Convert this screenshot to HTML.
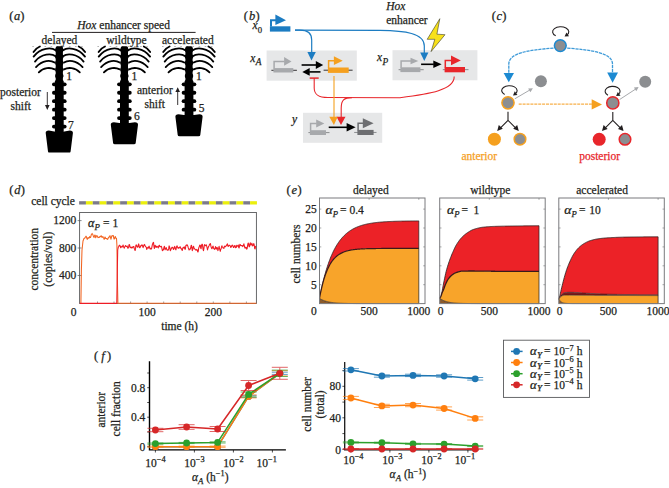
<!DOCTYPE html>
<html><head><meta charset="utf-8"><style>
html,body{margin:0;padding:0;background:#fff;}
svg{display:block;}
text{font-family:"Liberation Serif", serif; stroke:#231f20; stroke-width:0.25px;}
</style></head><body>
<svg width="669" height="488" viewBox="0 0 669 488">
<rect width="669" height="488" fill="#fff"/>
<g font-family='"Liberation Serif", serif'>
<text x="9.2" y="20.0" font-size="12.5" fill="#231f20">(</text>
<text x="17.1" y="20.0" font-size="12.5" fill="#231f20" font-style="italic" text-anchor="middle">a</text>
<text x="24.4" y="20.0" font-size="12.5" fill="#231f20" text-anchor="end">)</text>
<text x="77.3" y="28.6" font-size="11.5" fill="#231f20" text-anchor="start" ><tspan font-style="italic">Hox</tspan> enhancer speed</text>
<line x1="52" y1="32.4" x2="195.6" y2="32.4" stroke="#231f20" stroke-width="1"/>
<text x="41.6" y="43.6" font-size="11.5" fill="#231f20" text-anchor="start" >delayed</text>
<text x="106.3" y="43.6" font-size="11.5" fill="#231f20" text-anchor="start" >wildtype</text>
<text x="162.0" y="43.6" font-size="11.5" fill="#231f20" text-anchor="start" >accelerated</text>
<path d="M63.00,50.30 C67.00,47.30 78.00,47.30 85.00,56.60 M55.60,50.30 C51.60,47.30 40.60,47.30 33.60,56.60 M63.00,56.20 C67.00,53.30 77.00,53.30 83.60,61.60 M55.60,56.20 C51.60,53.30 41.60,53.30 35.00,61.60 M64.00,62.60 C68.00,59.80 76.00,59.80 82.60,67.10 M54.60,62.60 C50.60,59.80 42.60,59.80 36.00,67.10 M64.00,69.40 C68.00,67.20 75.00,67.20 79.80,72.40 M54.60,69.40 C50.60,67.20 43.60,67.20 38.80,72.40 M78.70,46.5 Q82.80,48.2 85.10,52.0 M39.90,46.5 Q35.80,48.2 33.50,52.0" fill="none" stroke="#000" stroke-width="1.8" stroke-linecap="round"/>
<line x1="32.3" y1="46.3" x2="86.3" y2="46.3" stroke="#000" stroke-width="0.6" stroke-dasharray="1.6 4.5" opacity="0.6"/>
<rect x="55.699999999999996" y="46.2" width="7.2" height="87.39999999999999" rx="1.5" fill="#000"/>
<rect x="54.9" y="80" width="8.8" height="52.599999999999994" rx="1.5" fill="#000"/>
<rect x="55.199999999999996" y="47.6" width="8.2" height="4.8" rx="1.8" fill="#000"/>
<rect x="55.199999999999996" y="54.2" width="8.2" height="4.8" rx="1.8" fill="#000"/>
<rect x="55.199999999999996" y="60.6" width="8.2" height="4.8" rx="1.8" fill="#000"/>
<rect x="55.199999999999996" y="67.19999999999999" width="8.2" height="4.8" rx="1.8" fill="#000"/>
<rect x="55.199999999999996" y="73.6" width="8.2" height="4.8" rx="1.8" fill="#000"/>
<rect x="52.0" y="82.39999999999999" width="14.6" height="3.8" rx="1.9" fill="#000"/>
<rect x="52.0" y="90.85" width="14.6" height="3.8" rx="1.9" fill="#000"/>
<rect x="52.0" y="99.3" width="14.6" height="3.8" rx="1.9" fill="#000"/>
<rect x="52.0" y="107.75" width="14.6" height="3.8" rx="1.9" fill="#000"/>
<rect x="52.0" y="116.2" width="14.6" height="3.8" rx="1.9" fill="#000"/>
<rect x="52.0" y="124.65" width="14.6" height="3.8" rx="1.9" fill="#000"/>
<path d="M45.699999999999996,133.1 Q45.5,130.6 48.8,130.6 L54.3,131.4 L64.3,131.4 L69.8,130.6 Q73.1,130.6 72.89999999999999,133.1 L70.6,151.4 Q70.5,152.6 68.8,152.6 L49.8,152.6 Q48.099999999999994,152.6 48.0,151.4 Z" fill="#000"/>
<text x="66.3" y="80.4" font-size="11.5" fill="#231f20" text-anchor="start" >1</text>
<text x="68.0" y="129.2" font-size="11.5" fill="#231f20" text-anchor="start" >7</text>
<path d="M128.10,50.30 C132.10,47.30 143.10,47.30 150.10,56.60 M120.70,50.30 C116.70,47.30 105.70,47.30 98.70,56.60 M128.10,56.20 C132.10,53.30 142.10,53.30 148.70,61.60 M120.70,56.20 C116.70,53.30 106.70,53.30 100.10,61.60 M129.10,62.60 C133.10,59.80 141.10,59.80 147.70,67.10 M119.70,62.60 C115.70,59.80 107.70,59.80 101.10,67.10 M129.10,69.40 C133.10,67.20 140.10,67.20 144.90,72.40 M119.70,69.40 C115.70,67.20 108.70,67.20 103.90,72.40 M143.80,46.5 Q147.90,48.2 150.20,52.0 M105.00,46.5 Q100.90,48.2 98.60,52.0" fill="none" stroke="#000" stroke-width="1.8" stroke-linecap="round"/>
<line x1="97.4" y1="46.3" x2="151.4" y2="46.3" stroke="#000" stroke-width="0.6" stroke-dasharray="1.6 4.5" opacity="0.6"/>
<rect x="120.80000000000001" y="46.2" width="7.2" height="79.1" rx="1.5" fill="#000"/>
<rect x="120.0" y="80" width="8.8" height="44.3" rx="1.5" fill="#000"/>
<rect x="120.30000000000001" y="47.6" width="8.2" height="4.8" rx="1.8" fill="#000"/>
<rect x="120.30000000000001" y="54.2" width="8.2" height="4.8" rx="1.8" fill="#000"/>
<rect x="120.30000000000001" y="60.6" width="8.2" height="4.8" rx="1.8" fill="#000"/>
<rect x="120.30000000000001" y="67.19999999999999" width="8.2" height="4.8" rx="1.8" fill="#000"/>
<rect x="120.30000000000001" y="73.6" width="8.2" height="4.8" rx="1.8" fill="#000"/>
<rect x="117.10000000000001" y="82.39999999999999" width="14.6" height="3.8" rx="1.9" fill="#000"/>
<rect x="117.10000000000001" y="90.85" width="14.6" height="3.8" rx="1.9" fill="#000"/>
<rect x="117.10000000000001" y="99.3" width="14.6" height="3.8" rx="1.9" fill="#000"/>
<rect x="117.10000000000001" y="107.75" width="14.6" height="3.8" rx="1.9" fill="#000"/>
<rect x="117.10000000000001" y="116.2" width="14.6" height="3.8" rx="1.9" fill="#000"/>
<path d="M110.80000000000001,124.8 Q110.60000000000001,122.3 113.9,122.3 L119.4,123.1 L129.4,123.1 L134.9,122.3 Q138.20000000000002,122.3 138.0,124.8 L135.70000000000002,143.10000000000002 Q135.6,144.3 133.9,144.3 L114.9,144.3 Q113.2,144.3 113.10000000000001,143.10000000000002 Z" fill="#000"/>
<text x="131.4" y="80.4" font-size="11.5" fill="#231f20" text-anchor="start" >1</text>
<text x="133.9" y="120.3" font-size="11.5" fill="#231f20" text-anchor="start" >6</text>
<path d="M192.70,50.30 C196.70,47.30 207.70,47.30 214.70,56.60 M185.30,50.30 C181.30,47.30 170.30,47.30 163.30,56.60 M192.70,56.20 C196.70,53.30 206.70,53.30 213.30,61.60 M185.30,56.20 C181.30,53.30 171.30,53.30 164.70,61.60 M193.70,62.60 C197.70,59.80 205.70,59.80 212.30,67.10 M184.30,62.60 C180.30,59.80 172.30,59.80 165.70,67.10 M193.70,69.40 C197.70,67.20 204.70,67.20 209.50,72.40 M184.30,69.40 C180.30,67.20 173.30,67.20 168.50,72.40 M208.40,46.5 Q212.50,48.2 214.80,52.0 M169.60,46.5 Q165.50,48.2 163.20,52.0" fill="none" stroke="#000" stroke-width="1.8" stroke-linecap="round"/>
<line x1="162.0" y1="46.3" x2="216.0" y2="46.3" stroke="#000" stroke-width="0.6" stroke-dasharray="1.6 4.5" opacity="0.6"/>
<rect x="185.4" y="46.2" width="7.2" height="71.1" rx="1.5" fill="#000"/>
<rect x="184.6" y="80" width="8.8" height="36.3" rx="1.5" fill="#000"/>
<rect x="184.9" y="47.6" width="8.2" height="4.8" rx="1.8" fill="#000"/>
<rect x="184.9" y="54.2" width="8.2" height="4.8" rx="1.8" fill="#000"/>
<rect x="184.9" y="60.6" width="8.2" height="4.8" rx="1.8" fill="#000"/>
<rect x="184.9" y="67.19999999999999" width="8.2" height="4.8" rx="1.8" fill="#000"/>
<rect x="184.9" y="73.6" width="8.2" height="4.8" rx="1.8" fill="#000"/>
<rect x="181.7" y="82.39999999999999" width="14.6" height="3.8" rx="1.9" fill="#000"/>
<rect x="181.7" y="90.85" width="14.6" height="3.8" rx="1.9" fill="#000"/>
<rect x="181.7" y="99.3" width="14.6" height="3.8" rx="1.9" fill="#000"/>
<rect x="181.7" y="107.75" width="14.6" height="3.8" rx="1.9" fill="#000"/>
<path d="M175.4,116.8 Q175.2,114.3 178.5,114.3 L184.0,115.1 L194.0,115.1 L199.5,114.3 Q202.8,114.3 202.6,116.8 L200.3,135.10000000000002 Q200.2,136.3 198.5,136.3 L179.5,136.3 Q177.8,136.3 177.7,135.10000000000002 Z" fill="#000"/>
<text x="196.0" y="80.4" font-size="11.5" fill="#231f20" text-anchor="start" >1</text>
<text x="198.8" y="112.2" font-size="11.5" fill="#231f20" text-anchor="start" >5</text>
<text x="0.0" y="96.0" font-size="11.5" fill="#231f20" text-anchor="start" >posterior</text>
<text x="10.6" y="109.9" font-size="11.5" fill="#231f20" text-anchor="start" >shift</text>
<text x="137.0" y="93.8" font-size="11.5" fill="#231f20" text-anchor="start" >anterior</text>
<text x="144.6" y="107.6" font-size="11.5" fill="#231f20" text-anchor="start" >shift</text>
<line x1="47.3" y1="92" x2="47.3" y2="106" stroke="#231f20" stroke-width="0.9"/>
<path d="M45,105 L49.6,105 L47.3,110 Z" fill="#231f20"/>
<line x1="177.7" y1="105" x2="177.7" y2="91" stroke="#231f20" stroke-width="0.9"/>
<path d="M175.4,92 L180,92 L177.7,87.3 Z" fill="#231f20"/>
</g>
<g font-family='"Liberation Serif", serif'>
<text x="243.8" y="19.9" font-size="12.5" fill="#231f20">(</text>
<text x="252.0" y="19.9" font-size="12.5" fill="#231f20" font-style="italic" text-anchor="middle">b</text>
<text x="259.6" y="19.9" font-size="12.5" fill="#231f20" text-anchor="end">)</text>
<text x="252.4" y="29.3" font-size="11.5" fill="#231f20" text-anchor="start" ><tspan font-style="italic">x</tspan><tspan font-size="8.7" dy="3.4" dx="0.3">0</tspan></text>
<rect x="266.6" y="50.5" width="90.2" height="30.2" fill="#e6e7e8"/>
<rect x="392.5" y="50.2" width="84.9" height="30.1" fill="#e6e7e8"/>
<rect x="303" y="112.8" width="79.2" height="30" fill="#e6e7e8"/>
<text x="250.3" y="61.8" font-size="11.5" fill="#231f20" text-anchor="start" ><tspan font-style="italic">x</tspan><tspan font-size="9.3" font-style="italic" dy="3.6" dx="0.4">A</tspan></text>
<text x="376.9" y="61.0" font-size="11.5" fill="#231f20" text-anchor="start" ><tspan font-style="italic">x</tspan><tspan font-size="9.3" font-style="italic" dy="3.6" dx="0.4">P</tspan></text>
<text x="292.0" y="123.4" font-size="11.5" fill="#231f20" text-anchor="start" ><tspan font-style="italic">y</tspan></text>
<text x="386.3" y="10.4" font-size="11.5" fill="#231f20" text-anchor="start" font-style="italic" >Hox</text>
<text x="386.2" y="23.7" font-size="11.5" fill="#231f20" text-anchor="start" >enhancer</text>
<rect x="269.9" y="26.3" width="20.5" height="5.3" fill="#1c7cc2"/>
<path d="M271,26.5 L271,20.2 L277,20.2" fill="none" stroke="#1c7cc2" stroke-width="2"/>
<path d="M275.4,14.6 L286,20.2 L275.4,25 Z" fill="#1c7cc2"/>
<line x1="271.4" y1="70.30" x2="296.9" y2="70.30" stroke="#231f20" stroke-width="0.9"/>
<rect x="273.4" y="68.1" width="19.9" height="4.4" fill="#a7a9ac"/>
<path d="M274.1,68.6 L274.1,61.4 L284.6,61.4" fill="none" stroke="#a7a9ac" stroke-width="1.5"/>
<path d="M284.1,57.1 L291.5,61.4 L284.1,65.7 Z" fill="#a7a9ac"/>
<line x1="323.6" y1="70.20" x2="352.6" y2="70.20" stroke="#231f20" stroke-width="0.9"/>
<rect x="327.9" y="67.5" width="20.8" height="5.4" fill="#f5a01f"/>
<path d="M328.6,68.0 L328.6,60.7 L334.4,60.7" fill="none" stroke="#f5a01f" stroke-width="1.5"/>
<path d="M333.9,56.300000000000004 L342.7,60.7 L333.9,65.10000000000001 Z" fill="#f5a01f"/>
<line x1="301.6" y1="65.0" x2="316.3" y2="65.0" stroke="#000" stroke-width="1.6"/>
<path d="M315.8,60.9 L323.2,65.0 L315.8,69.1 Z" fill="#000"/>
<line x1="320.5" y1="71.9" x2="309.2" y2="71.9" stroke="#000" stroke-width="1.6"/>
<path d="M309.7,68.0 L302.3,71.9 L309.7,75.80000000000001 Z" fill="#000"/>
<line x1="398.6" y1="69.70" x2="423.7" y2="69.70" stroke="#808285" stroke-width="0.9"/>
<rect x="400.4" y="67.3" width="20.0" height="4.8" fill="#a7a9ac"/>
<path d="M401.1,67.8 L401.1,61.0 L411.0,61.0" fill="none" stroke="#a7a9ac" stroke-width="1.5"/>
<path d="M410.5,57.7 L418.3,61.0 L410.5,64.3 Z" fill="#a7a9ac"/>
<line x1="442.8" y1="69.65" x2="468.5" y2="69.65" stroke="#808285" stroke-width="0.9"/>
<rect x="444.6" y="67.0" width="20.4" height="5.3" fill="#e8262b"/>
<path d="M445.3,67.5 L445.3,60.4 L451.5,60.4" fill="none" stroke="#e8262b" stroke-width="1.5"/>
<path d="M451.0,55.6 L460.8,60.4 L451.0,65.2 Z" fill="#e8262b"/>
<line x1="421.1" y1="64.3" x2="433.8" y2="64.3" stroke="#000" stroke-width="1.6"/>
<path d="M433.3,60.5 L441.6,64.3 L433.3,68.1 Z" fill="#000"/>
<line x1="308.4" y1="132.60" x2="329.5" y2="132.60" stroke="#808285" stroke-width="0.9"/>
<rect x="309.9" y="130.2" width="16.1" height="4.8" fill="#a7a9ac"/>
<path d="M310.6,130.7 L310.6,123.4 L316.7,123.4" fill="none" stroke="#a7a9ac" stroke-width="1.5"/>
<path d="M316.2,119.4 L324.3,123.4 L316.2,127.4 Z" fill="#a7a9ac"/>
<line x1="354.2" y1="132.45" x2="376.5" y2="132.45" stroke="#808285" stroke-width="0.9"/>
<rect x="357.4" y="129.9" width="16.2" height="5.1" fill="#6d6e71"/>
<path d="M358.1,130.4 L358.1,123.3 L363.3,123.3" fill="none" stroke="#6d6e71" stroke-width="1.5"/>
<path d="M362.8,118.3 L373.6,123.3 L362.8,128.3 Z" fill="#6d6e71"/>
<line x1="328.7" y1="127.3" x2="347.1" y2="127.3" stroke="#000" stroke-width="1.6"/>
<path d="M346.6,123.0 L355.6,127.3 L346.6,131.6 Z" fill="#000"/>
<path d="M295,30.2 L300,30.2 C308,30.2 311.7,33 311.7,40 L311.7,54" fill="none" stroke="#1c7cc2" stroke-width="1.2"/>
<path d="M307.4,52.1 L315.8,52.1 L311.5,60.6 Z" fill="#1c7cc2"/>
<path d="M295,30.2 L380,30.4 C405,30.8 424.3,33 424.3,46 L424.3,54" fill="none" stroke="#1c7cc2" stroke-width="1.2"/>
<path d="M420.2,52.4 L428.4,52.4 L424.3,61 Z" fill="#1c7cc2"/>
<path d="M439.8,18.7 L427.2,39.3 L434.8,39.3 L431.1,51.6 L445,34.7 L436.9,34.2 Z" fill="#f7e11b" stroke="#3a3a2a" stroke-width="0.6" stroke-linejoin="miter"/>
<line x1="309.7" y1="78.1" x2="318.7" y2="78.1" stroke="#e8262b" stroke-width="1.5"/>
<path d="M314.2,78.1 L314.2,88 C314.2,94.5 318,97.5 328,97.5 L400,97.7 C430,94 454.4,90 454.2,76.6" fill="none" stroke="#e8262b" stroke-width="1.1"/>
<path d="M352,97.6 C344,97.6 341.2,100 341.2,108 L341.2,118" fill="none" stroke="#e8262b" stroke-width="1.1"/>
<path d="M336.5,116.8 L345.5,116.8 L341,124.9 Z" fill="#e8262b"/>
<line x1="334" y1="75.9" x2="334" y2="118" stroke="#f5a01f" stroke-width="1.1"/>
<path d="M329.3,116.8 L337.7,116.8 L333.9,124.9 Z" fill="#f5a01f"/>
</g>
<g font-family='"Liberation Serif", serif'>
<text x="491.8" y="20.0" font-size="12.5" fill="#231f20">(</text>
<text x="499.4" y="20.0" font-size="12.5" fill="#231f20" font-style="italic" text-anchor="middle">c</text>
<text x="506.5" y="20.0" font-size="12.5" fill="#231f20" text-anchor="end">)</text>
<path d="M553.5,48.1 C528,50 509,53 508.8,64 L508.8,74" fill="none" stroke="#3d9ad8" stroke-width="1.3" stroke-dasharray="3.2 0.8"/>
<path d="M567.2,48.1 C592,50 612.3,53 612.5,64 L612.5,74" fill="none" stroke="#3d9ad8" stroke-width="1.3" stroke-dasharray="3.2 0.8"/>
<path d="M503.6,72.9 L514,72.9 L508.8,82.2 Z" fill="#1c8ad2"/>
<path d="M607.2,72.6 L618,72.6 L612.6,82.7 Z" fill="#1c8ad2"/>
<path d="M555.71,35.74 A8.1,5.0 0 1 1 566.72,35.15" fill="none" stroke="#231f20" stroke-width="1.1"/>
<path d="M564.58,36.62 L566.41,32.57 L569.01,36.36 Z" fill="#231f20"/>
<circle cx="560.3" cy="45.6" r="5.8999999999999995" fill="#8c8e91" stroke="#1c8ad2" stroke-width="1.5"/>
<line x1="518.7" y1="104.2" x2="593" y2="104.2" stroke="#f7b04a" stroke-width="1.2" stroke-dasharray="3 0.9"/>
<path d="M591.7,99.3 L602,104.4 L591.7,109.4 Z" fill="#f5a01f"/>
<line x1="514.8" y1="98.8" x2="531" y2="89.3" stroke="#a7a9ac" stroke-width="1"/>
<path d="M532.90,88.19 L530.39,92.21 L528.16,88.41 Z" fill="#a7a9ac"/>
<line x1="619.5" y1="99.6" x2="636.8" y2="88.3" stroke="#a7a9ac" stroke-width="1"/>
<path d="M638.64,87.10 L636.33,91.24 L633.92,87.55 Z" fill="#a7a9ac"/>
<circle cx="540.9" cy="81.3" r="6.0" fill="#8c8e91"/>
<circle cx="645.2" cy="81.8" r="6.0" fill="#8c8e91"/>
<path d="M504.66,94.46 A7.7,4.9 0 1 1 515.12,93.88" fill="none" stroke="#231f20" stroke-width="1.1"/>
<path d="M513.00,95.38 L514.77,91.31 L517.43,95.06 Z" fill="#231f20"/>
<path d="M607.98,95.16 A7.5,4.9 0 1 1 618.17,94.58" fill="none" stroke="#231f20" stroke-width="1.1"/>
<path d="M616.07,96.11 L617.79,92.01 L620.50,95.74 Z" fill="#231f20"/>
<circle cx="508.0" cy="102.8" r="6.1" fill="#8c8e91" stroke="#f5a01f" stroke-width="1.5"/>
<circle cx="612.8" cy="102.9" r="6.1" fill="#8c8e91" stroke="#e8262b" stroke-width="1.5"/>
<path d="M508.0,111.8 L508.0,120.3 M508.0,120.3 L499.5,128.8 M508.0,120.3 L516.5,128.8" fill="none" stroke="#231f20" stroke-width="1.1"/>
<path d="M497.2,131.0 L502.80,128.80 L498.80,125.00 Z" fill="#231f20"/>
<path d="M518.8,131.0 L513.20,128.80 L517.20,125.00 Z" fill="#231f20"/>
<path d="M612.8,111.9 L612.8,120.4 M612.8,120.4 L604.3,128.9 M612.8,120.4 L621.3,128.9" fill="none" stroke="#231f20" stroke-width="1.1"/>
<path d="M602.0,131.1 L607.60,128.90 L603.60,125.10 Z" fill="#231f20"/>
<path d="M623.5999999999999,131.1 L618.00,128.90 L622.00,125.10 Z" fill="#231f20"/>
<circle cx="494.4" cy="139.2" r="6.5" fill="#f5a01f"/>
<circle cx="520.0" cy="139.2" r="5.8" fill="#8c8e91" stroke="#f5a01f" stroke-width="1.5"/>
<circle cx="599.2" cy="139.3" r="6.5" fill="#e8262b"/>
<circle cx="625.0" cy="139.3" r="5.8" fill="#8c8e91" stroke="#e8262b" stroke-width="1.5"/>
<text x="461.4" y="160.3" font-size="11.5" fill="#f5a01f" text-anchor="start" style="stroke:#f5a01f" >anterior</text>
<text x="579.2" y="160.3" font-size="11.5" fill="#e8262b" text-anchor="start" style="stroke:#e8262b" >posterior</text>
</g>
<g font-family='"Liberation Serif", serif'>
<text x="9.2" y="193.7" font-size="12.5" fill="#231f20">(</text>
<text x="17.3" y="193.7" font-size="12.5" fill="#231f20" font-style="italic" text-anchor="middle">d</text>
<text x="24.8" y="193.7" font-size="12.5" fill="#231f20" text-anchor="end">)</text>
<text x="31.2" y="204.9" font-size="11.5" fill="#231f20" text-anchor="start" >cell cycle</text>
<rect x="79.10" y="201.2" width="6.84" height="3.3" fill="#7c7b8a"/>
<rect x="85.94" y="201.2" width="6.84" height="3.3" fill="#ebef0c"/>
<rect x="92.78" y="201.2" width="6.84" height="3.3" fill="#7c7b8a"/>
<rect x="99.62" y="201.2" width="6.84" height="3.3" fill="#ebef0c"/>
<rect x="106.46" y="201.2" width="6.84" height="3.3" fill="#7c7b8a"/>
<rect x="113.30" y="201.2" width="6.84" height="3.3" fill="#ebef0c"/>
<rect x="120.14" y="201.2" width="6.84" height="3.3" fill="#7c7b8a"/>
<rect x="126.98" y="201.2" width="6.84" height="3.3" fill="#ebef0c"/>
<rect x="133.82" y="201.2" width="6.84" height="3.3" fill="#7c7b8a"/>
<rect x="140.66" y="201.2" width="6.84" height="3.3" fill="#ebef0c"/>
<rect x="147.50" y="201.2" width="6.84" height="3.3" fill="#7c7b8a"/>
<rect x="154.34" y="201.2" width="6.84" height="3.3" fill="#ebef0c"/>
<rect x="161.18" y="201.2" width="6.84" height="3.3" fill="#7c7b8a"/>
<rect x="168.02" y="201.2" width="6.84" height="3.3" fill="#ebef0c"/>
<rect x="174.86" y="201.2" width="6.84" height="3.3" fill="#7c7b8a"/>
<rect x="181.70" y="201.2" width="6.84" height="3.3" fill="#ebef0c"/>
<rect x="188.54" y="201.2" width="6.84" height="3.3" fill="#7c7b8a"/>
<rect x="195.38" y="201.2" width="6.84" height="3.3" fill="#ebef0c"/>
<rect x="202.22" y="201.2" width="6.84" height="3.3" fill="#7c7b8a"/>
<rect x="209.06" y="201.2" width="6.84" height="3.3" fill="#ebef0c"/>
<rect x="215.90" y="201.2" width="6.84" height="3.3" fill="#7c7b8a"/>
<rect x="222.74" y="201.2" width="6.84" height="3.3" fill="#ebef0c"/>
<rect x="229.58" y="201.2" width="6.84" height="3.3" fill="#7c7b8a"/>
<rect x="236.42" y="201.2" width="6.84" height="3.3" fill="#ebef0c"/>
<rect x="243.26" y="201.2" width="6.84" height="3.3" fill="#7c7b8a"/>
<rect x="250.10" y="201.2" width="6.84" height="3.3" fill="#ebef0c"/>
<rect x="79.6" y="212.5" width="176.8" height="91" fill="none" stroke="#58595b" stroke-width="0.9"/>
<line x1="77.6" y1="220.6" x2="81.6" y2="220.6" stroke="#58595b" stroke-width="0.7"/>
<text x="76.2" y="224.48" font-size="11.5" fill="#231f20" text-anchor="end" >1200</text>
<line x1="77.6" y1="248.0" x2="81.6" y2="248.0" stroke="#58595b" stroke-width="0.7"/>
<text x="76.2" y="251.92" font-size="11.5" fill="#231f20" text-anchor="end" >800</text>
<line x1="77.6" y1="275.5" x2="81.6" y2="275.5" stroke="#58595b" stroke-width="0.7"/>
<text x="76.2" y="279.35999999999996" font-size="11.5" fill="#231f20" text-anchor="end" >400</text>
<text x="76.4" y="316.3" font-size="11.5" fill="#231f20" text-anchor="end" >0</text>
<text x="147.10000000000002" y="316.3" font-size="11.5" fill="#231f20" text-anchor="middle" >100</text>
<text x="213.3" y="316.3" font-size="11.5" fill="#231f20" text-anchor="middle" >200</text>
<line x1="97.5" y1="303.5" x2="97.5" y2="301.5" stroke="#58595b" stroke-width="0.6"/>
<line x1="114.0" y1="303.5" x2="114.0" y2="301.5" stroke="#58595b" stroke-width="0.6"/>
<line x1="130.6" y1="303.5" x2="130.6" y2="301.5" stroke="#58595b" stroke-width="0.6"/>
<line x1="147.1" y1="303.5" x2="147.1" y2="301.5" stroke="#58595b" stroke-width="0.6"/>
<line x1="163.7" y1="303.5" x2="163.7" y2="301.5" stroke="#58595b" stroke-width="0.6"/>
<line x1="180.2" y1="303.5" x2="180.2" y2="301.5" stroke="#58595b" stroke-width="0.6"/>
<line x1="196.8" y1="303.5" x2="196.8" y2="301.5" stroke="#58595b" stroke-width="0.6"/>
<line x1="213.3" y1="303.5" x2="213.3" y2="301.5" stroke="#58595b" stroke-width="0.6"/>
<line x1="229.9" y1="303.5" x2="229.9" y2="301.5" stroke="#58595b" stroke-width="0.6"/>
<line x1="246.4" y1="303.5" x2="246.4" y2="301.5" stroke="#58595b" stroke-width="0.6"/>
<text x="179.6" y="329.6" font-size="11.5" fill="#231f20" text-anchor="middle" >time (h)</text>
<text x="0" y="0" font-size="11.5" fill="#231f20" text-anchor="middle" transform="translate(38.2,259.2) rotate(-90)">concentration</text>
<text x="0" y="0" font-size="11.5" fill="#231f20" text-anchor="middle" transform="translate(52.2,259.2) rotate(-90)">(copies/vol)</text>
<text transform="translate(88.00,226.90) scale(1.06,1)" font-size="11.5" font-style="italic" fill="#231f20">α</text>
<text x="94.60" y="229.90" font-size="8.8" font-style="italic" fill="#231f20">P</text>
<text x="100.20" y="226.90" font-size="11.5" fill="#231f20" style="white-space:pre"> = 1</text>
<polyline points="80.9,303.2 81.4,270.0 82.0,250.0 83.0,241.0 84.0,238.5 84.5,238.1 84.9,238.1 85.3,237.3 85.7,236.7 86.1,236.2 86.5,237.0 86.9,238.6 87.3,239.4 87.7,238.2 88.1,237.6 88.5,238.2 88.9,238.3 89.3,237.3 89.7,236.6 90.1,237.4 90.5,237.5 90.9,236.4 91.3,234.5 91.7,234.1 92.1,233.4 92.5,234.3 92.9,234.6 93.3,236.0 93.7,237.0 94.1,237.5 94.5,235.7 94.9,235.0 95.3,235.4 95.7,237.8 96.1,236.8 96.5,235.9 96.9,235.5 97.3,236.1 97.7,237.1 98.1,237.6 98.5,237.3 98.9,237.2 99.3,237.5 99.7,236.6 100.1,236.5 100.5,236.7 100.9,236.0 101.3,235.7 101.7,237.1 102.1,237.4 102.5,236.7 102.9,236.6 103.3,237.4 103.7,238.1 104.1,239.3 104.5,238.9 104.9,237.0 105.3,237.3 105.7,238.5 106.1,238.6 106.5,238.5 106.9,238.7 107.3,239.4 107.7,239.2 108.1,238.3 108.5,237.6 108.9,237.8 109.3,236.4 109.7,236.0 110.1,235.8 110.5,237.5 110.9,239.2 111.3,238.1 111.7,236.1 112.1,235.7 112.5,236.0 112.9,235.6 113.3,235.5 113.7,237.8 114.1,239.1 114.5,238.6 114.9,237.1 115.3,236.5 115.7,238.0 116.1,238.5 116.5,238.2 116.9,245.0 117.4,280.0 117.9,303.2 256.4,303.2" fill="none" stroke="#f26522" stroke-width="1.05" stroke-linejoin="round"/>
<polyline points="79.8,303.4 116.8,303.4 117.3,270.0 117.7,250.0 118.3,247.1 118.7,246.5 119.1,245.6 119.5,245.2 119.9,245.5 120.3,246.6 120.7,247.8 121.1,246.4 121.5,247.0 121.9,246.7 122.3,247.0 122.7,245.9 123.1,245.1 123.5,246.5 123.9,247.5 124.3,248.1 124.7,246.9 125.1,246.3 125.5,245.6 125.9,246.3 126.3,246.4 126.7,246.6 127.1,246.0 127.5,247.2 127.9,248.3 128.3,247.9 128.7,246.4 129.1,244.5 129.5,244.7 129.9,246.7 130.3,247.8 130.7,247.0 131.1,247.1 131.5,247.8 131.9,248.1 132.3,247.2 132.7,247.4 133.1,246.5 133.5,246.9 133.9,246.6 134.3,248.8 134.7,249.4 135.1,250.5 135.5,248.9 135.9,245.4 136.3,244.9 136.7,245.7 137.1,246.6 137.5,247.2 137.9,247.0 138.3,244.9 138.7,243.9 139.1,246.0 139.5,247.7 139.9,247.8 140.3,247.1 140.7,245.8 141.1,245.6 141.5,245.8 141.9,244.8 142.3,245.2 142.7,246.3 143.1,247.6 143.5,246.3 143.9,245.6 144.3,244.4 144.7,244.8 145.1,245.8 145.5,246.3 145.9,246.8 146.3,247.2 146.7,249.5 147.1,248.2 147.5,247.8 147.9,247.4 148.3,248.2 148.7,246.8 149.1,246.2 149.5,247.2 149.9,248.6 150.3,249.0 150.7,248.4 151.1,249.0 151.5,248.9 151.9,247.1 152.3,244.9 152.7,243.6 153.1,242.7 153.5,242.4 153.9,245.8 154.3,248.5 154.7,247.4 155.1,245.2 155.5,246.0 155.9,247.0 156.3,247.3 156.7,246.3 157.1,246.2 157.5,246.8 157.9,247.4 158.3,247.8 158.7,246.0 159.1,245.5 159.5,245.3 159.9,246.8 160.3,246.6 160.7,246.7 161.1,246.3 161.5,246.5 161.9,248.3 162.3,250.3 162.7,250.7 163.1,249.6 163.5,249.6 163.9,247.7 164.3,246.3 164.7,247.3 165.1,249.8 165.5,248.6 165.9,248.3 166.3,247.7 166.7,249.3 167.1,250.0 167.5,250.1 167.9,250.3 168.3,249.8 168.7,248.7 169.1,245.9 169.5,246.7 169.9,248.4 170.3,250.7 170.7,250.0 171.1,249.1 171.5,248.3 171.9,247.5 172.3,247.2 172.7,247.4 173.1,248.7 173.5,249.4 173.9,248.9 174.3,247.2 174.7,246.4 175.1,247.7 175.5,249.2 175.9,249.8 176.3,247.8 176.7,246.4 177.1,245.9 177.5,247.2 177.9,248.0 178.3,248.1 178.7,247.5 179.1,248.1 179.5,247.3 179.9,247.1 180.3,246.8 180.7,248.3 181.1,248.3 181.5,249.3 181.9,250.0 182.3,250.3 182.7,248.4 183.1,247.5 183.5,247.9 183.9,247.2 184.3,246.8 184.7,248.5 185.1,249.4 185.5,248.3 185.9,245.3 186.3,245.5 186.7,245.0 187.1,244.8 187.5,245.5 187.9,246.4 188.3,247.9 188.7,248.9 189.1,250.0 189.5,249.0 189.9,249.2 190.3,249.1 190.7,248.0 191.1,245.5 191.5,245.4 191.9,247.8 192.3,250.6 192.7,249.8 193.1,247.1 193.5,246.2 193.9,247.5 194.3,248.5 194.7,248.9 195.1,249.3 195.5,249.9 195.9,249.9 196.3,250.1 196.7,249.4 197.1,249.7 197.5,251.2 197.9,252.0 198.3,251.0 198.7,248.0 199.1,247.1 199.5,245.8 199.9,245.1 200.3,245.4 200.7,248.2 201.1,248.7 201.5,245.5 201.9,244.3 202.3,244.2 202.7,246.7 203.1,249.5 203.5,250.7 203.9,248.5 204.3,245.1 204.7,244.6 205.1,245.6 205.5,245.6 205.9,245.2 206.3,244.9 206.7,246.2 207.1,247.7 207.5,249.9 207.9,248.3 208.3,247.4 208.7,246.3 209.1,245.7 209.5,244.5 209.9,244.0 210.3,243.5 210.7,245.0 211.1,246.9 211.5,248.1 211.9,248.7 212.3,247.9 212.7,246.7 213.1,246.2 213.5,248.1 213.9,248.6 214.3,249.0 214.7,249.3 215.1,248.3 215.5,246.6 215.9,247.7 216.3,249.1 216.7,247.7 217.1,247.4 217.5,248.4 217.9,250.7 218.3,249.1 218.7,248.2 219.1,246.3 219.5,248.5 219.9,249.9 220.3,251.3 220.7,249.2 221.1,249.0 221.5,247.0 221.9,245.8 222.3,246.7 222.7,247.3 223.1,247.9 223.5,248.0 223.9,248.5 224.3,246.6 224.7,246.1 225.1,246.8 225.5,246.7 225.9,246.0 226.3,245.7 226.7,245.0 227.1,244.4 227.5,243.9 227.9,246.1 228.3,246.4 228.7,245.9 229.1,245.3 229.5,245.4 229.9,245.4 230.3,246.1 230.7,247.4 231.1,246.4 231.5,246.8 231.9,245.5 232.3,245.1 232.7,245.7 233.1,246.2 233.5,247.5 233.9,247.3 234.3,246.5 234.7,245.5 235.1,245.8 235.5,247.7 235.9,247.7 236.3,247.3 236.7,245.3 237.1,246.3 237.5,246.0 237.9,245.6 238.3,245.0 238.7,247.4 239.1,248.0 239.5,246.1 239.9,244.4 240.3,244.6 240.7,245.6 241.1,245.6 241.5,245.5 241.9,245.5 242.3,245.9 242.7,246.6 243.1,245.7 243.5,245.2 243.9,243.8 244.3,246.0 244.7,247.3 245.1,248.2 245.5,247.2 245.9,247.7 246.3,247.5 246.7,249.1 247.1,248.6 247.5,246.2 247.9,243.8 248.3,243.1 248.7,244.7 249.1,246.7 249.5,246.8 249.9,244.0 250.3,242.8 250.7,245.0 251.1,244.6 251.5,244.2 251.9,243.3 252.3,245.9 252.7,245.3 253.1,245.5 253.5,243.8 253.9,243.7 254.3,245.6 254.7,248.5 255.1,248.9 255.5,246.7 255.9,245.9" fill="none" stroke="#ee1c25" stroke-width="1.1" stroke-linejoin="round"/>
</g>
<g font-family='"Liberation Serif", serif'>
<text x="286.6" y="193.7" font-size="12.5" fill="#231f20">(</text>
<text x="294.4" y="193.7" font-size="12.5" fill="#231f20" font-style="italic" text-anchor="middle">e</text>
<text x="301.6" y="193.7" font-size="12.5" fill="#231f20" text-anchor="end">)</text>
<text x="0" y="0" font-size="11.5" fill="#231f20" text-anchor="middle" transform="translate(300.4,254.0) rotate(-90)">cell numbers</text>
<text x="316.8" y="288.6" font-size="11.5" fill="#231f20" text-anchor="end" >5</text>
<text x="316.8" y="269.7" font-size="11.5" fill="#231f20" text-anchor="end" >10</text>
<text x="316.8" y="250.80000000000004" font-size="11.5" fill="#231f20" text-anchor="end" >15</text>
<text x="316.8" y="231.90000000000003" font-size="11.5" fill="#231f20" text-anchor="end" >20</text>
<text x="316.8" y="213.00000000000003" font-size="11.5" fill="#231f20" text-anchor="end" >25</text>
<text x="313.9" y="315.4" font-size="11.5" fill="#231f20" text-anchor="middle" >0</text>
<path d="M319.50,298.31 L320.00,295.77 L320.49,293.31 L320.99,290.93 L321.49,288.64 L321.98,286.41 L322.48,284.26 L322.98,282.18 L323.47,280.17 L323.97,278.22 L324.46,276.34 L324.96,274.52 L325.46,272.76 L325.95,271.06 L326.45,269.41 L326.95,267.82 L327.44,266.28 L327.94,264.79 L328.44,263.35 L328.93,261.95 L329.43,260.60 L329.93,259.30 L330.42,258.04 L330.92,256.82 L331.42,255.64 L331.91,254.50 L332.41,253.39 L332.91,252.32 L333.40,251.29 L333.90,250.29 L334.39,249.32 L334.89,248.39 L335.39,247.49 L335.88,246.61 L336.38,245.77 L336.88,244.95 L337.37,244.16 L337.87,243.39 L338.37,242.65 L338.86,241.94 L339.36,241.24 L339.86,240.57 L340.35,239.93 L340.85,239.30 L341.35,238.69 L341.84,238.11 L342.34,237.54 L342.84,236.99 L343.33,236.46 L343.83,235.95 L344.32,235.45 L344.82,234.97 L345.32,234.51 L345.81,234.06 L346.31,233.63 L346.81,233.21 L347.30,232.80 L347.80,232.41 L348.30,232.03 L348.79,231.66 L349.29,231.31 L349.79,230.96 L350.28,230.63 L350.78,230.31 L351.28,230.00 L351.77,229.70 L352.27,229.40 L352.77,229.12 L353.26,228.85 L353.76,228.59 L354.25,228.33 L354.75,228.09 L355.25,227.85 L355.74,227.62 L356.24,227.39 L356.74,227.18 L357.23,226.97 L357.73,226.77 L358.23,226.57 L358.72,226.38 L359.22,226.20 L359.72,226.03 L360.21,225.86 L360.71,225.69 L361.21,225.53 L361.70,225.38 L362.20,225.23 L362.70,225.08 L363.19,224.94 L363.69,224.81 L364.19,224.68 L364.68,224.55 L365.18,224.43 L365.67,224.31 L366.17,224.19 L366.67,224.08 L367.16,223.98 L367.66,223.87 L368.16,223.77 L368.65,223.68 L369.15,223.58 L369.65,223.49 L370.14,223.40 L370.64,223.32 L371.14,223.24 L371.63,223.16 L372.13,223.08 L372.63,223.01 L373.12,222.94 L373.62,222.87 L374.12,222.80 L374.61,222.73 L375.11,222.67 L375.60,222.61 L376.10,222.55 L376.60,222.49 L377.09,222.44 L377.59,222.39 L378.09,222.34 L378.58,222.29 L379.08,222.24 L379.58,222.19 L380.07,222.15 L380.57,222.10 L381.07,222.06 L381.56,222.02 L382.06,221.98 L382.56,221.94 L383.05,221.91 L383.55,221.87 L384.05,221.83 L384.54,221.80 L385.04,221.77 L385.53,221.74 L386.03,221.71 L386.53,221.68 L387.02,221.65 L387.52,221.62 L388.02,221.60 L388.51,221.57 L389.01,221.55 L389.51,221.52 L390.00,221.50 L390.50,221.48 L391.00,221.46 L391.49,221.43 L391.99,221.41 L392.49,221.40 L392.98,221.38 L393.48,221.36 L393.98,221.34 L394.47,221.32 L394.97,221.31 L395.46,221.29 L395.96,221.27 L396.46,221.26 L396.95,221.25 L397.45,221.23 L397.95,221.22 L398.44,221.20 L398.94,221.19 L399.44,221.18 L399.93,221.17 L400.43,221.16 L400.93,221.15 L401.42,221.13 L401.92,221.12 L402.42,221.11 L402.91,221.10 L403.41,221.10 L403.90,221.09 L404.40,221.08 L404.90,221.07 L405.39,221.06 L405.89,221.05 L406.39,221.04 L406.88,221.04 L407.38,221.03 L407.88,221.02 L408.37,221.02 L408.87,221.01 L409.37,221.00 L409.86,221.00 L410.36,220.99 L410.86,220.99 L411.35,220.98 L411.85,220.98 L412.35,220.97 L412.84,220.97 L413.34,220.96 L413.83,220.96 L414.33,220.95 L414.83,220.95 L415.32,220.94 L415.82,220.94 L416.32,220.93 L416.81,220.93 L417.31,220.93 L417.81,220.92 L418.30,220.92 L418.80,220.92 L418.80,248.41 L418.30,248.41 L417.81,248.41 L417.31,248.41 L416.81,248.41 L416.32,248.41 L415.82,248.41 L415.32,248.41 L414.83,248.41 L414.33,248.41 L413.83,248.41 L413.34,248.41 L412.84,248.41 L412.35,248.41 L411.85,248.41 L411.35,248.41 L410.86,248.41 L410.36,248.41 L409.86,248.41 L409.37,248.41 L408.87,248.42 L408.37,248.42 L407.88,248.42 L407.38,248.42 L406.88,248.42 L406.39,248.42 L405.89,248.42 L405.39,248.42 L404.90,248.42 L404.40,248.42 L403.90,248.42 L403.41,248.42 L402.91,248.42 L402.42,248.42 L401.92,248.42 L401.42,248.42 L400.93,248.42 L400.43,248.42 L399.93,248.42 L399.44,248.42 L398.94,248.42 L398.44,248.42 L397.95,248.42 L397.45,248.42 L396.95,248.42 L396.46,248.42 L395.96,248.42 L395.46,248.43 L394.97,248.43 L394.47,248.43 L393.98,248.43 L393.48,248.43 L392.98,248.43 L392.49,248.43 L391.99,248.43 L391.49,248.43 L391.00,248.43 L390.50,248.43 L390.00,248.44 L389.51,248.44 L389.01,248.44 L388.51,248.44 L388.02,248.44 L387.52,248.44 L387.02,248.45 L386.53,248.45 L386.03,248.45 L385.53,248.45 L385.04,248.45 L384.54,248.46 L384.05,248.46 L383.55,248.46 L383.05,248.46 L382.56,248.47 L382.06,248.47 L381.56,248.47 L381.07,248.48 L380.57,248.48 L380.07,248.48 L379.58,248.49 L379.08,248.49 L378.58,248.50 L378.09,248.50 L377.59,248.50 L377.09,248.51 L376.60,248.52 L376.10,248.52 L375.60,248.53 L375.11,248.53 L374.61,248.54 L374.12,248.55 L373.62,248.55 L373.12,248.56 L372.63,248.57 L372.13,248.58 L371.63,248.59 L371.14,248.60 L370.64,248.61 L370.14,248.62 L369.65,248.63 L369.15,248.64 L368.65,248.66 L368.16,248.67 L367.66,248.68 L367.16,248.70 L366.67,248.71 L366.17,248.73 L365.67,248.75 L365.18,248.77 L364.68,248.79 L364.19,248.81 L363.69,248.83 L363.19,248.85 L362.70,248.88 L362.20,248.90 L361.70,248.93 L361.21,248.96 L360.71,248.99 L360.21,249.02 L359.72,249.05 L359.22,249.09 L358.72,249.13 L358.23,249.17 L357.73,249.21 L357.23,249.25 L356.74,249.30 L356.24,249.35 L355.74,249.40 L355.25,249.45 L354.75,249.51 L354.25,249.57 L353.76,249.63 L353.26,249.70 L352.77,249.77 L352.27,249.85 L351.77,249.93 L351.28,250.01 L350.78,250.10 L350.28,250.19 L349.79,250.29 L349.29,250.39 L348.79,250.50 L348.30,250.62 L347.80,250.74 L347.30,250.87 L346.81,251.01 L346.31,251.15 L345.81,251.30 L345.32,251.46 L344.82,251.63 L344.32,251.81 L343.83,251.99 L343.33,252.19 L342.84,252.40 L342.34,252.62 L341.84,252.85 L341.35,253.10 L340.85,253.36 L340.35,253.63 L339.86,253.92 L339.36,254.22 L338.86,254.54 L338.37,254.88 L337.87,255.24 L337.37,255.61 L336.88,256.01 L336.38,256.43 L335.88,256.88 L335.39,257.34 L334.89,257.84 L334.39,258.36 L333.90,258.91 L333.40,259.49 L332.91,260.10 L332.41,260.74 L331.91,261.42 L331.42,262.14 L330.92,262.90 L330.42,263.70 L329.93,264.55 L329.43,265.44 L328.93,266.38 L328.44,267.37 L327.94,268.42 L327.44,269.52 L326.95,270.69 L326.45,271.92 L325.95,273.22 L325.46,274.59 L324.96,276.03 L324.46,277.56 L323.97,279.17 L323.47,280.87 L322.98,282.66 L322.48,284.55 L321.98,286.55 L321.49,288.65 L320.99,290.88 L320.49,293.22 L320.00,295.70 L319.50,298.31 Z" fill="#ec2227" stroke="none"/>
<path d="M319.50,298.31 L320.00,295.77 L320.49,293.31 L320.99,290.93 L321.49,288.64 L321.98,286.41 L322.48,284.26 L322.98,282.18 L323.47,280.17 L323.97,278.22 L324.46,276.34 L324.96,274.52 L325.46,272.76 L325.95,271.06 L326.45,269.41 L326.95,267.82 L327.44,266.28 L327.94,264.79 L328.44,263.35 L328.93,261.95 L329.43,260.60 L329.93,259.30 L330.42,258.04 L330.92,256.82 L331.42,255.64 L331.91,254.50 L332.41,253.39 L332.91,252.32 L333.40,251.29 L333.90,250.29 L334.39,249.32 L334.89,248.39 L335.39,247.49 L335.88,246.61 L336.38,245.77 L336.88,244.95 L337.37,244.16 L337.87,243.39 L338.37,242.65 L338.86,241.94 L339.36,241.24 L339.86,240.57 L340.35,239.93 L340.85,239.30 L341.35,238.69 L341.84,238.11 L342.34,237.54 L342.84,236.99 L343.33,236.46 L343.83,235.95 L344.32,235.45 L344.82,234.97 L345.32,234.51 L345.81,234.06 L346.31,233.63 L346.81,233.21 L347.30,232.80 L347.80,232.41 L348.30,232.03 L348.79,231.66 L349.29,231.31 L349.79,230.96 L350.28,230.63 L350.78,230.31 L351.28,230.00 L351.77,229.70 L352.27,229.40 L352.77,229.12 L353.26,228.85 L353.76,228.59 L354.25,228.33 L354.75,228.09 L355.25,227.85 L355.74,227.62 L356.24,227.39 L356.74,227.18 L357.23,226.97 L357.73,226.77 L358.23,226.57 L358.72,226.38 L359.22,226.20 L359.72,226.03 L360.21,225.86 L360.71,225.69 L361.21,225.53 L361.70,225.38 L362.20,225.23 L362.70,225.08 L363.19,224.94 L363.69,224.81 L364.19,224.68 L364.68,224.55 L365.18,224.43 L365.67,224.31 L366.17,224.19 L366.67,224.08 L367.16,223.98 L367.66,223.87 L368.16,223.77 L368.65,223.68 L369.15,223.58 L369.65,223.49 L370.14,223.40 L370.64,223.32 L371.14,223.24 L371.63,223.16 L372.13,223.08 L372.63,223.01 L373.12,222.94 L373.62,222.87 L374.12,222.80 L374.61,222.73 L375.11,222.67 L375.60,222.61 L376.10,222.55 L376.60,222.49 L377.09,222.44 L377.59,222.39 L378.09,222.34 L378.58,222.29 L379.08,222.24 L379.58,222.19 L380.07,222.15 L380.57,222.10 L381.07,222.06 L381.56,222.02 L382.06,221.98 L382.56,221.94 L383.05,221.91 L383.55,221.87 L384.05,221.83 L384.54,221.80 L385.04,221.77 L385.53,221.74 L386.03,221.71 L386.53,221.68 L387.02,221.65 L387.52,221.62 L388.02,221.60 L388.51,221.57 L389.01,221.55 L389.51,221.52 L390.00,221.50 L390.50,221.48 L391.00,221.46 L391.49,221.43 L391.99,221.41 L392.49,221.40 L392.98,221.38 L393.48,221.36 L393.98,221.34 L394.47,221.32 L394.97,221.31 L395.46,221.29 L395.96,221.27 L396.46,221.26 L396.95,221.25 L397.45,221.23 L397.95,221.22 L398.44,221.20 L398.94,221.19 L399.44,221.18 L399.93,221.17 L400.43,221.16 L400.93,221.15 L401.42,221.13 L401.92,221.12 L402.42,221.11 L402.91,221.10 L403.41,221.10 L403.90,221.09 L404.40,221.08 L404.90,221.07 L405.39,221.06 L405.89,221.05 L406.39,221.04 L406.88,221.04 L407.38,221.03 L407.88,221.02 L408.37,221.02 L408.87,221.01 L409.37,221.00 L409.86,221.00 L410.36,220.99 L410.86,220.99 L411.35,220.98 L411.85,220.98 L412.35,220.97 L412.84,220.97 L413.34,220.96 L413.83,220.96 L414.33,220.95 L414.83,220.95 L415.32,220.94 L415.82,220.94 L416.32,220.93 L416.81,220.93 L417.31,220.93 L417.81,220.92 L418.30,220.92 L418.80,220.92" fill="none" stroke="#231f20" stroke-width="0.8"/>
<path d="M319.50,298.31 L320.00,295.70 L320.49,293.22 L320.99,290.88 L321.49,288.65 L321.98,286.55 L322.48,284.55 L322.98,282.66 L323.47,280.87 L323.97,279.17 L324.46,277.56 L324.96,276.03 L325.46,274.59 L325.95,273.22 L326.45,271.92 L326.95,270.69 L327.44,269.52 L327.94,268.42 L328.44,267.37 L328.93,266.38 L329.43,265.44 L329.93,264.55 L330.42,263.70 L330.92,262.90 L331.42,262.14 L331.91,261.42 L332.41,260.74 L332.91,260.10 L333.40,259.49 L333.90,258.91 L334.39,258.36 L334.89,257.84 L335.39,257.34 L335.88,256.88 L336.38,256.43 L336.88,256.01 L337.37,255.61 L337.87,255.24 L338.37,254.88 L338.86,254.54 L339.36,254.22 L339.86,253.92 L340.35,253.63 L340.85,253.36 L341.35,253.10 L341.84,252.85 L342.34,252.62 L342.84,252.40 L343.33,252.19 L343.83,251.99 L344.32,251.81 L344.82,251.63 L345.32,251.46 L345.81,251.30 L346.31,251.15 L346.81,251.01 L347.30,250.87 L347.80,250.74 L348.30,250.62 L348.79,250.50 L349.29,250.39 L349.79,250.29 L350.28,250.19 L350.78,250.10 L351.28,250.01 L351.77,249.93 L352.27,249.85 L352.77,249.77 L353.26,249.70 L353.76,249.63 L354.25,249.57 L354.75,249.51 L355.25,249.45 L355.74,249.40 L356.24,249.35 L356.74,249.30 L357.23,249.25 L357.73,249.21 L358.23,249.17 L358.72,249.13 L359.22,249.09 L359.72,249.05 L360.21,249.02 L360.71,248.99 L361.21,248.96 L361.70,248.93 L362.20,248.90 L362.70,248.88 L363.19,248.85 L363.69,248.83 L364.19,248.81 L364.68,248.79 L365.18,248.77 L365.67,248.75 L366.17,248.73 L366.67,248.71 L367.16,248.70 L367.66,248.68 L368.16,248.67 L368.65,248.66 L369.15,248.64 L369.65,248.63 L370.14,248.62 L370.64,248.61 L371.14,248.60 L371.63,248.59 L372.13,248.58 L372.63,248.57 L373.12,248.56 L373.62,248.55 L374.12,248.55 L374.61,248.54 L375.11,248.53 L375.60,248.53 L376.10,248.52 L376.60,248.52 L377.09,248.51 L377.59,248.50 L378.09,248.50 L378.58,248.50 L379.08,248.49 L379.58,248.49 L380.07,248.48 L380.57,248.48 L381.07,248.48 L381.56,248.47 L382.06,248.47 L382.56,248.47 L383.05,248.46 L383.55,248.46 L384.05,248.46 L384.54,248.46 L385.04,248.45 L385.53,248.45 L386.03,248.45 L386.53,248.45 L387.02,248.45 L387.52,248.44 L388.02,248.44 L388.51,248.44 L389.01,248.44 L389.51,248.44 L390.00,248.44 L390.50,248.43 L391.00,248.43 L391.49,248.43 L391.99,248.43 L392.49,248.43 L392.98,248.43 L393.48,248.43 L393.98,248.43 L394.47,248.43 L394.97,248.43 L395.46,248.43 L395.96,248.42 L396.46,248.42 L396.95,248.42 L397.45,248.42 L397.95,248.42 L398.44,248.42 L398.94,248.42 L399.44,248.42 L399.93,248.42 L400.43,248.42 L400.93,248.42 L401.42,248.42 L401.92,248.42 L402.42,248.42 L402.91,248.42 L403.41,248.42 L403.90,248.42 L404.40,248.42 L404.90,248.42 L405.39,248.42 L405.89,248.42 L406.39,248.42 L406.88,248.42 L407.38,248.42 L407.88,248.42 L408.37,248.42 L408.87,248.42 L409.37,248.41 L409.86,248.41 L410.36,248.41 L410.86,248.41 L411.35,248.41 L411.85,248.41 L412.35,248.41 L412.84,248.41 L413.34,248.41 L413.83,248.41 L414.33,248.41 L414.83,248.41 L415.32,248.41 L415.82,248.41 L416.32,248.41 L416.81,248.41 L417.31,248.41 L417.81,248.41 L418.30,248.41 L418.80,248.41 L418.80,303.60 L418.30,303.60 L417.81,303.60 L417.31,303.60 L416.81,303.60 L416.32,303.60 L415.82,303.60 L415.32,303.60 L414.83,303.60 L414.33,303.60 L413.83,303.60 L413.34,303.60 L412.84,303.60 L412.35,303.60 L411.85,303.60 L411.35,303.60 L410.86,303.60 L410.36,303.60 L409.86,303.60 L409.37,303.60 L408.87,303.60 L408.37,303.60 L407.88,303.60 L407.38,303.60 L406.88,303.60 L406.39,303.60 L405.89,303.60 L405.39,303.60 L404.90,303.60 L404.40,303.60 L403.90,303.60 L403.41,303.60 L402.91,303.60 L402.42,303.60 L401.92,303.60 L401.42,303.60 L400.93,303.60 L400.43,303.60 L399.93,303.60 L399.44,303.60 L398.94,303.60 L398.44,303.60 L397.95,303.60 L397.45,303.60 L396.95,303.60 L396.46,303.60 L395.96,303.60 L395.46,303.60 L394.97,303.60 L394.47,303.60 L393.98,303.60 L393.48,303.60 L392.98,303.60 L392.49,303.60 L391.99,303.60 L391.49,303.60 L391.00,303.60 L390.50,303.60 L390.00,303.60 L389.51,303.60 L389.01,303.60 L388.51,303.60 L388.02,303.60 L387.52,303.60 L387.02,303.60 L386.53,303.60 L386.03,303.60 L385.53,303.60 L385.04,303.60 L384.54,303.60 L384.05,303.60 L383.55,303.60 L383.05,303.60 L382.56,303.60 L382.06,303.60 L381.56,303.60 L381.07,303.60 L380.57,303.60 L380.07,303.60 L379.58,303.60 L379.08,303.60 L378.58,303.60 L378.09,303.60 L377.59,303.60 L377.09,303.60 L376.60,303.60 L376.10,303.60 L375.60,303.60 L375.11,303.60 L374.61,303.59 L374.12,303.59 L373.62,303.59 L373.12,303.59 L372.63,303.59 L372.13,303.59 L371.63,303.59 L371.14,303.59 L370.64,303.59 L370.14,303.59 L369.65,303.59 L369.15,303.59 L368.65,303.59 L368.16,303.59 L367.66,303.59 L367.16,303.59 L366.67,303.59 L366.17,303.59 L365.67,303.58 L365.18,303.58 L364.68,303.58 L364.19,303.58 L363.69,303.58 L363.19,303.58 L362.70,303.58 L362.20,303.58 L361.70,303.57 L361.21,303.57 L360.71,303.57 L360.21,303.57 L359.72,303.57 L359.22,303.56 L358.72,303.56 L358.23,303.56 L357.73,303.56 L357.23,303.55 L356.74,303.55 L356.24,303.55 L355.74,303.54 L355.25,303.54 L354.75,303.54 L354.25,303.53 L353.76,303.53 L353.26,303.52 L352.77,303.52 L352.27,303.51 L351.77,303.51 L351.28,303.50 L350.78,303.50 L350.28,303.49 L349.79,303.48 L349.29,303.48 L348.79,303.47 L348.30,303.46 L347.80,303.45 L347.30,303.44 L346.81,303.43 L346.31,303.42 L345.81,303.41 L345.32,303.39 L344.82,303.38 L344.32,303.37 L343.83,303.35 L343.33,303.34 L342.84,303.32 L342.34,303.30 L341.84,303.28 L341.35,303.26 L340.85,303.24 L340.35,303.22 L339.86,303.19 L339.36,303.17 L338.86,303.14 L338.37,303.11 L337.87,303.08 L337.37,303.04 L336.88,303.01 L336.38,302.97 L335.88,302.93 L335.39,302.88 L334.89,302.84 L334.39,302.79 L333.90,302.74 L333.40,302.68 L332.91,302.62 L332.41,302.56 L331.91,302.49 L331.42,302.42 L330.92,302.34 L330.42,302.26 L329.93,302.18 L329.43,302.08 L328.93,301.99 L328.44,301.88 L327.94,301.77 L327.44,301.65 L326.95,301.53 L326.45,301.39 L325.95,301.25 L325.46,301.10 L324.96,300.94 L324.46,300.77 L323.97,300.58 L323.47,300.39 L322.98,300.18 L322.48,299.96 L321.98,299.73 L321.49,299.48 L320.99,299.21 L320.49,298.93 L320.00,298.63 L319.50,298.31 Z" fill="#f8a42a" stroke="none"/>
<path d="M319.50,298.31 L320.00,295.70 L320.49,293.22 L320.99,290.88 L321.49,288.65 L321.98,286.55 L322.48,284.55 L322.98,282.66 L323.47,280.87 L323.97,279.17 L324.46,277.56 L324.96,276.03 L325.46,274.59 L325.95,273.22 L326.45,271.92 L326.95,270.69 L327.44,269.52 L327.94,268.42 L328.44,267.37 L328.93,266.38 L329.43,265.44 L329.93,264.55 L330.42,263.70 L330.92,262.90 L331.42,262.14 L331.91,261.42 L332.41,260.74 L332.91,260.10 L333.40,259.49 L333.90,258.91 L334.39,258.36 L334.89,257.84 L335.39,257.34 L335.88,256.88 L336.38,256.43 L336.88,256.01 L337.37,255.61 L337.87,255.24 L338.37,254.88 L338.86,254.54 L339.36,254.22 L339.86,253.92 L340.35,253.63 L340.85,253.36 L341.35,253.10 L341.84,252.85 L342.34,252.62 L342.84,252.40 L343.33,252.19 L343.83,251.99 L344.32,251.81 L344.82,251.63 L345.32,251.46 L345.81,251.30 L346.31,251.15 L346.81,251.01 L347.30,250.87 L347.80,250.74 L348.30,250.62 L348.79,250.50 L349.29,250.39 L349.79,250.29 L350.28,250.19 L350.78,250.10 L351.28,250.01 L351.77,249.93 L352.27,249.85 L352.77,249.77 L353.26,249.70 L353.76,249.63 L354.25,249.57 L354.75,249.51 L355.25,249.45 L355.74,249.40 L356.24,249.35 L356.74,249.30 L357.23,249.25 L357.73,249.21 L358.23,249.17 L358.72,249.13 L359.22,249.09 L359.72,249.05 L360.21,249.02 L360.71,248.99 L361.21,248.96 L361.70,248.93 L362.20,248.90 L362.70,248.88 L363.19,248.85 L363.69,248.83 L364.19,248.81 L364.68,248.79 L365.18,248.77 L365.67,248.75 L366.17,248.73 L366.67,248.71 L367.16,248.70 L367.66,248.68 L368.16,248.67 L368.65,248.66 L369.15,248.64 L369.65,248.63 L370.14,248.62 L370.64,248.61 L371.14,248.60 L371.63,248.59 L372.13,248.58 L372.63,248.57 L373.12,248.56 L373.62,248.55 L374.12,248.55 L374.61,248.54 L375.11,248.53 L375.60,248.53 L376.10,248.52 L376.60,248.52 L377.09,248.51 L377.59,248.50 L378.09,248.50 L378.58,248.50 L379.08,248.49 L379.58,248.49 L380.07,248.48 L380.57,248.48 L381.07,248.48 L381.56,248.47 L382.06,248.47 L382.56,248.47 L383.05,248.46 L383.55,248.46 L384.05,248.46 L384.54,248.46 L385.04,248.45 L385.53,248.45 L386.03,248.45 L386.53,248.45 L387.02,248.45 L387.52,248.44 L388.02,248.44 L388.51,248.44 L389.01,248.44 L389.51,248.44 L390.00,248.44 L390.50,248.43 L391.00,248.43 L391.49,248.43 L391.99,248.43 L392.49,248.43 L392.98,248.43 L393.48,248.43 L393.98,248.43 L394.47,248.43 L394.97,248.43 L395.46,248.43 L395.96,248.42 L396.46,248.42 L396.95,248.42 L397.45,248.42 L397.95,248.42 L398.44,248.42 L398.94,248.42 L399.44,248.42 L399.93,248.42 L400.43,248.42 L400.93,248.42 L401.42,248.42 L401.92,248.42 L402.42,248.42 L402.91,248.42 L403.41,248.42 L403.90,248.42 L404.40,248.42 L404.90,248.42 L405.39,248.42 L405.89,248.42 L406.39,248.42 L406.88,248.42 L407.38,248.42 L407.88,248.42 L408.37,248.42 L408.87,248.42 L409.37,248.41 L409.86,248.41 L410.36,248.41 L410.86,248.41 L411.35,248.41 L411.85,248.41 L412.35,248.41 L412.84,248.41 L413.34,248.41 L413.83,248.41 L414.33,248.41 L414.83,248.41 L415.32,248.41 L415.82,248.41 L416.32,248.41 L416.81,248.41 L417.31,248.41 L417.81,248.41 L418.30,248.41 L418.80,248.41" fill="none" stroke="#3a1a1a" stroke-width="1.2"/>
<path d="M319.50,298.31 L320.00,298.63 L320.49,298.93 L320.99,299.21 L321.49,299.48 L321.98,299.73 L322.48,299.96 L322.98,300.18 L323.47,300.39 L323.97,300.58 L324.46,300.77 L324.96,300.94 L325.46,301.10 L325.95,301.25 L326.45,301.39 L326.95,301.53 L327.44,301.65 L327.94,301.77 L328.44,301.88 L328.93,301.99 L329.43,302.08 L329.93,302.18 L330.42,302.26 L330.92,302.34 L331.42,302.42 L331.91,302.49 L332.41,302.56 L332.91,302.62 L333.40,302.68 L333.90,302.74 L334.39,302.79 L334.89,302.84 L335.39,302.88 L335.88,302.93 L336.38,302.97 L336.88,303.01 L337.37,303.04 L337.87,303.08 L338.37,303.11 L338.86,303.14 L339.36,303.17 L339.86,303.19 L340.35,303.22 L340.85,303.24 L341.35,303.26 L341.84,303.28 L342.34,303.30 L342.84,303.32 L343.33,303.34 L343.83,303.35 L344.32,303.37 L344.82,303.38 L345.32,303.39 L345.81,303.41 L346.31,303.42 L346.81,303.43 L347.30,303.44 L347.80,303.45 L348.30,303.46 L348.79,303.47 L349.29,303.48 L349.79,303.48 L350.28,303.49 L350.78,303.50 L351.28,303.50 L351.77,303.51 L352.27,303.51 L352.77,303.52 L353.26,303.52 L353.76,303.53 L354.25,303.53 L354.75,303.54 L355.25,303.54 L355.74,303.54 L356.24,303.55 L356.74,303.55 L357.23,303.55 L357.73,303.56 L358.23,303.56 L358.72,303.56 L359.22,303.56 L359.72,303.57 L360.21,303.57 L360.71,303.57 L361.21,303.57 L361.70,303.57 L362.20,303.58 L362.70,303.58 L363.19,303.58 L363.69,303.58 L364.19,303.58 L364.68,303.58 L365.18,303.58 L365.67,303.58 L366.17,303.59 L366.67,303.59 L367.16,303.59 L367.66,303.59 L368.16,303.59 L368.65,303.59 L369.15,303.59 L369.65,303.59 L370.14,303.59 L370.64,303.59 L371.14,303.59 L371.63,303.59 L372.13,303.59 L372.63,303.59 L373.12,303.59 L373.62,303.59 L374.12,303.59 L374.61,303.59 L375.11,303.60 L375.60,303.60 L376.10,303.60 L376.60,303.60 L377.09,303.60 L377.59,303.60 L378.09,303.60 L378.58,303.60 L379.08,303.60 L379.58,303.60 L380.07,303.60 L380.57,303.60 L381.07,303.60 L381.56,303.60 L382.06,303.60 L382.56,303.60 L383.05,303.60 L383.55,303.60 L384.05,303.60 L384.54,303.60 L385.04,303.60 L385.53,303.60 L386.03,303.60 L386.53,303.60 L387.02,303.60 L387.52,303.60 L388.02,303.60 L388.51,303.60 L389.01,303.60 L389.51,303.60 L390.00,303.60 L390.50,303.60 L391.00,303.60 L391.49,303.60 L391.99,303.60 L392.49,303.60 L392.98,303.60 L393.48,303.60 L393.98,303.60 L394.47,303.60 L394.97,303.60 L395.46,303.60 L395.96,303.60 L396.46,303.60 L396.95,303.60 L397.45,303.60 L397.95,303.60 L398.44,303.60 L398.94,303.60 L399.44,303.60 L399.93,303.60 L400.43,303.60 L400.93,303.60 L401.42,303.60 L401.92,303.60 L402.42,303.60 L402.91,303.60 L403.41,303.60 L403.90,303.60 L404.40,303.60 L404.90,303.60 L405.39,303.60 L405.89,303.60 L406.39,303.60 L406.88,303.60 L407.38,303.60 L407.88,303.60 L408.37,303.60 L408.87,303.60 L409.37,303.60 L409.86,303.60 L410.36,303.60 L410.86,303.60 L411.35,303.60 L411.85,303.60 L412.35,303.60 L412.84,303.60 L413.34,303.60 L413.83,303.60 L414.33,303.60 L414.83,303.60 L415.32,303.60 L415.82,303.60 L416.32,303.60 L416.81,303.60 L417.31,303.60 L417.81,303.60 L418.30,303.60 L418.80,303.60 L418.80,303.60 L418.30,303.60 L417.81,303.60 L417.31,303.60 L416.81,303.60 L416.32,303.60 L415.82,303.60 L415.32,303.60 L414.83,303.60 L414.33,303.60 L413.83,303.60 L413.34,303.60 L412.84,303.60 L412.35,303.60 L411.85,303.60 L411.35,303.60 L410.86,303.60 L410.36,303.60 L409.86,303.60 L409.37,303.60 L408.87,303.60 L408.37,303.60 L407.88,303.60 L407.38,303.60 L406.88,303.60 L406.39,303.60 L405.89,303.60 L405.39,303.60 L404.90,303.60 L404.40,303.60 L403.90,303.60 L403.41,303.60 L402.91,303.60 L402.42,303.60 L401.92,303.60 L401.42,303.60 L400.93,303.60 L400.43,303.60 L399.93,303.60 L399.44,303.60 L398.94,303.60 L398.44,303.60 L397.95,303.60 L397.45,303.60 L396.95,303.60 L396.46,303.60 L395.96,303.60 L395.46,303.60 L394.97,303.60 L394.47,303.60 L393.98,303.60 L393.48,303.60 L392.98,303.60 L392.49,303.60 L391.99,303.60 L391.49,303.60 L391.00,303.60 L390.50,303.60 L390.00,303.60 L389.51,303.60 L389.01,303.60 L388.51,303.60 L388.02,303.60 L387.52,303.60 L387.02,303.60 L386.53,303.60 L386.03,303.60 L385.53,303.60 L385.04,303.60 L384.54,303.60 L384.05,303.60 L383.55,303.60 L383.05,303.60 L382.56,303.60 L382.06,303.60 L381.56,303.60 L381.07,303.60 L380.57,303.60 L380.07,303.60 L379.58,303.60 L379.08,303.60 L378.58,303.60 L378.09,303.60 L377.59,303.60 L377.09,303.60 L376.60,303.60 L376.10,303.60 L375.60,303.60 L375.11,303.60 L374.61,303.60 L374.12,303.60 L373.62,303.60 L373.12,303.60 L372.63,303.60 L372.13,303.60 L371.63,303.60 L371.14,303.60 L370.64,303.60 L370.14,303.60 L369.65,303.60 L369.15,303.60 L368.65,303.60 L368.16,303.60 L367.66,303.60 L367.16,303.60 L366.67,303.60 L366.17,303.60 L365.67,303.60 L365.18,303.60 L364.68,303.60 L364.19,303.60 L363.69,303.60 L363.19,303.60 L362.70,303.60 L362.20,303.60 L361.70,303.60 L361.21,303.60 L360.71,303.60 L360.21,303.60 L359.72,303.60 L359.22,303.60 L358.72,303.60 L358.23,303.60 L357.73,303.60 L357.23,303.60 L356.74,303.60 L356.24,303.60 L355.74,303.60 L355.25,303.60 L354.75,303.60 L354.25,303.60 L353.76,303.60 L353.26,303.60 L352.77,303.60 L352.27,303.60 L351.77,303.60 L351.28,303.60 L350.78,303.60 L350.28,303.60 L349.79,303.60 L349.29,303.60 L348.79,303.60 L348.30,303.60 L347.80,303.60 L347.30,303.60 L346.81,303.60 L346.31,303.60 L345.81,303.60 L345.32,303.60 L344.82,303.60 L344.32,303.60 L343.83,303.60 L343.33,303.60 L342.84,303.60 L342.34,303.60 L341.84,303.60 L341.35,303.60 L340.85,303.60 L340.35,303.60 L339.86,303.60 L339.36,303.60 L338.86,303.60 L338.37,303.60 L337.87,303.60 L337.37,303.60 L336.88,303.60 L336.38,303.60 L335.88,303.60 L335.39,303.60 L334.89,303.60 L334.39,303.60 L333.90,303.60 L333.40,303.60 L332.91,303.60 L332.41,303.60 L331.91,303.60 L331.42,303.60 L330.92,303.60 L330.42,303.60 L329.93,303.60 L329.43,303.60 L328.93,303.60 L328.44,303.60 L327.94,303.60 L327.44,303.60 L326.95,303.60 L326.45,303.60 L325.95,303.60 L325.46,303.60 L324.96,303.60 L324.46,303.60 L323.97,303.60 L323.47,303.60 L322.98,303.60 L322.48,303.60 L321.98,303.60 L321.49,303.60 L320.99,303.60 L320.49,303.60 L320.00,303.60 L319.50,303.60 Z" fill="#8b5a2b" stroke="none"/>
<path d="M319.50,298.31 L320.00,298.63 L320.49,298.93 L320.99,299.21 L321.49,299.48 L321.98,299.73 L322.48,299.96 L322.98,300.18 L323.47,300.39 L323.97,300.58 L324.46,300.77 L324.96,300.94 L325.46,301.10 L325.95,301.25 L326.45,301.39 L326.95,301.53 L327.44,301.65 L327.94,301.77 L328.44,301.88 L328.93,301.99 L329.43,302.08 L329.93,302.18 L330.42,302.26 L330.92,302.34 L331.42,302.42 L331.91,302.49 L332.41,302.56 L332.91,302.62 L333.40,302.68 L333.90,302.74 L334.39,302.79 L334.89,302.84 L335.39,302.88 L335.88,302.93 L336.38,302.97 L336.88,303.01 L337.37,303.04 L337.87,303.08 L338.37,303.11 L338.86,303.14 L339.36,303.17 L339.86,303.19 L340.35,303.22 L340.85,303.24 L341.35,303.26 L341.84,303.28 L342.34,303.30 L342.84,303.32 L343.33,303.34 L343.83,303.35 L344.32,303.37 L344.82,303.38 L345.32,303.39 L345.81,303.41 L346.31,303.42 L346.81,303.43 L347.30,303.44 L347.80,303.45 L348.30,303.46 L348.79,303.47 L349.29,303.48 L349.79,303.48 L350.28,303.49 L350.78,303.50 L351.28,303.50 L351.77,303.51 L352.27,303.51 L352.77,303.52 L353.26,303.52 L353.76,303.53 L354.25,303.53 L354.75,303.54 L355.25,303.54 L355.74,303.54 L356.24,303.55 L356.74,303.55 L357.23,303.55 L357.73,303.56 L358.23,303.56 L358.72,303.56 L359.22,303.56 L359.72,303.57 L360.21,303.57 L360.71,303.57 L361.21,303.57 L361.70,303.57 L362.20,303.58 L362.70,303.58 L363.19,303.58 L363.69,303.58 L364.19,303.58 L364.68,303.58 L365.18,303.58 L365.67,303.58 L366.17,303.59 L366.67,303.59 L367.16,303.59 L367.66,303.59 L368.16,303.59 L368.65,303.59 L369.15,303.59 L369.65,303.59 L370.14,303.59 L370.64,303.59 L371.14,303.59 L371.63,303.59 L372.13,303.59 L372.63,303.59 L373.12,303.59 L373.62,303.59 L374.12,303.59 L374.61,303.59 L375.11,303.60 L375.60,303.60 L376.10,303.60 L376.60,303.60 L377.09,303.60 L377.59,303.60 L378.09,303.60 L378.58,303.60 L379.08,303.60 L379.58,303.60 L380.07,303.60 L380.57,303.60 L381.07,303.60 L381.56,303.60 L382.06,303.60 L382.56,303.60 L383.05,303.60 L383.55,303.60 L384.05,303.60 L384.54,303.60 L385.04,303.60 L385.53,303.60 L386.03,303.60 L386.53,303.60 L387.02,303.60 L387.52,303.60 L388.02,303.60 L388.51,303.60 L389.01,303.60 L389.51,303.60 L390.00,303.60 L390.50,303.60 L391.00,303.60 L391.49,303.60 L391.99,303.60 L392.49,303.60 L392.98,303.60 L393.48,303.60 L393.98,303.60 L394.47,303.60 L394.97,303.60 L395.46,303.60 L395.96,303.60 L396.46,303.60 L396.95,303.60 L397.45,303.60 L397.95,303.60 L398.44,303.60 L398.94,303.60 L399.44,303.60 L399.93,303.60 L400.43,303.60 L400.93,303.60 L401.42,303.60 L401.92,303.60 L402.42,303.60 L402.91,303.60 L403.41,303.60 L403.90,303.60 L404.40,303.60 L404.90,303.60 L405.39,303.60 L405.89,303.60 L406.39,303.60 L406.88,303.60 L407.38,303.60 L407.88,303.60 L408.37,303.60 L408.87,303.60 L409.37,303.60 L409.86,303.60 L410.36,303.60 L410.86,303.60 L411.35,303.60 L411.85,303.60 L412.35,303.60 L412.84,303.60 L413.34,303.60 L413.83,303.60 L414.33,303.60 L414.83,303.60 L415.32,303.60 L415.82,303.60 L416.32,303.60 L416.81,303.60 L417.31,303.60 L417.81,303.60 L418.30,303.60 L418.80,303.60" fill="none" stroke="#231f20" stroke-width="0.6"/>
<line x1="418.8" y1="220.9" x2="418.8" y2="303.6" stroke="#231f20" stroke-width="0.7"/>
<path d="M439.70,298.31 L440.20,297.81 L440.69,297.17 L441.19,295.84 L441.69,293.70 L442.18,291.05 L442.68,288.20 L443.18,285.43 L443.67,283.00 L444.17,280.60 L444.66,278.18 L445.16,275.81 L445.66,273.55 L446.15,271.48 L446.65,269.60 L447.15,267.85 L447.64,266.19 L448.14,264.61 L448.64,263.10 L449.13,261.64 L449.63,260.23 L450.13,258.86 L450.62,257.54 L451.12,256.26 L451.62,255.02 L452.11,253.81 L452.61,252.65 L453.11,251.51 L453.60,250.39 L454.10,249.29 L454.59,248.22 L455.09,247.20 L455.59,246.22 L456.08,245.31 L456.58,244.47 L457.08,243.67 L457.57,242.90 L458.07,242.15 L458.57,241.43 L459.06,240.74 L459.56,240.08 L460.06,239.44 L460.55,238.83 L461.05,238.25 L461.55,237.70 L462.04,237.17 L462.54,236.68 L463.04,236.20 L463.53,235.74 L464.03,235.30 L464.52,234.88 L465.02,234.47 L465.52,234.08 L466.01,233.71 L466.51,233.35 L467.01,233.00 L467.50,232.67 L468.00,232.34 L468.50,232.02 L468.99,231.71 L469.49,231.40 L469.99,231.10 L470.48,230.81 L470.98,230.54 L471.48,230.28 L471.97,230.04 L472.47,229.82 L472.97,229.62 L473.46,229.44 L473.96,229.28 L474.45,229.11 L474.95,228.96 L475.45,228.81 L475.94,228.66 L476.44,228.52 L476.94,228.38 L477.43,228.25 L477.93,228.13 L478.43,228.01 L478.92,227.90 L479.42,227.79 L479.92,227.69 L480.41,227.59 L480.91,227.51 L481.41,227.42 L481.90,227.35 L482.40,227.28 L482.90,227.22 L483.39,227.16 L483.89,227.10 L484.38,227.05 L484.88,227.00 L485.38,226.95 L485.87,226.90 L486.37,226.85 L486.87,226.81 L487.36,226.77 L487.86,226.73 L488.36,226.69 L488.85,226.66 L489.35,226.63 L489.85,226.59 L490.34,226.57 L490.84,226.54 L491.34,226.51 L491.83,226.49 L492.33,226.47 L492.83,226.45 L493.32,226.43 L493.82,226.41 L494.31,226.40 L494.81,226.38 L495.31,226.36 L495.80,226.35 L496.30,226.33 L496.80,226.32 L497.29,226.30 L497.79,226.29 L498.29,226.27 L498.78,226.26 L499.28,226.25 L499.78,226.24 L500.27,226.23 L500.77,226.21 L501.27,226.20 L501.76,226.19 L502.26,226.18 L502.76,226.17 L503.25,226.16 L503.75,226.15 L504.25,226.14 L504.74,226.13 L505.24,226.12 L505.73,226.11 L506.23,226.10 L506.73,226.10 L507.22,226.09 L507.72,226.08 L508.22,226.07 L508.71,226.06 L509.21,226.05 L509.71,226.05 L510.20,226.04 L510.70,226.03 L511.20,226.02 L511.69,226.02 L512.19,226.01 L512.69,226.00 L513.18,225.99 L513.68,225.99 L514.17,225.98 L514.67,225.98 L515.17,225.97 L515.66,225.96 L516.16,225.96 L516.66,225.95 L517.15,225.94 L517.65,225.94 L518.15,225.93 L518.64,225.93 L519.14,225.92 L519.64,225.92 L520.13,225.91 L520.63,225.90 L521.13,225.90 L521.62,225.89 L522.12,225.89 L522.62,225.88 L523.11,225.88 L523.61,225.87 L524.11,225.87 L524.60,225.86 L525.10,225.86 L525.59,225.85 L526.09,225.85 L526.59,225.84 L527.08,225.84 L527.58,225.83 L528.08,225.83 L528.57,225.83 L529.07,225.82 L529.57,225.82 L530.06,225.81 L530.56,225.81 L531.06,225.80 L531.55,225.80 L532.05,225.79 L532.55,225.79 L533.04,225.79 L533.54,225.78 L534.03,225.78 L534.53,225.77 L535.03,225.77 L535.52,225.76 L536.02,225.76 L536.52,225.76 L537.01,225.75 L537.51,225.75 L538.01,225.74 L538.50,225.74 L539.00,225.73 L539.00,271.47 L538.50,271.47 L538.01,271.47 L537.51,271.46 L537.01,271.46 L536.52,271.46 L536.02,271.46 L535.52,271.46 L535.03,271.46 L534.53,271.45 L534.03,271.45 L533.54,271.45 L533.04,271.45 L532.55,271.45 L532.05,271.45 L531.55,271.44 L531.06,271.44 L530.56,271.44 L530.06,271.44 L529.57,271.44 L529.07,271.44 L528.57,271.43 L528.08,271.43 L527.58,271.43 L527.08,271.43 L526.59,271.43 L526.09,271.43 L525.59,271.42 L525.10,271.42 L524.60,271.42 L524.11,271.42 L523.61,271.42 L523.11,271.42 L522.62,271.41 L522.12,271.41 L521.62,271.41 L521.13,271.41 L520.63,271.41 L520.13,271.41 L519.64,271.40 L519.14,271.40 L518.64,271.40 L518.15,271.40 L517.65,271.40 L517.15,271.40 L516.66,271.39 L516.16,271.39 L515.66,271.39 L515.17,271.39 L514.67,271.39 L514.17,271.38 L513.68,271.38 L513.18,271.38 L512.69,271.38 L512.19,271.38 L511.69,271.38 L511.20,271.37 L510.70,271.37 L510.20,271.37 L509.71,271.37 L509.21,271.36 L508.71,271.36 L508.22,271.36 L507.72,271.36 L507.22,271.36 L506.73,271.35 L506.23,271.35 L505.73,271.35 L505.24,271.35 L504.74,271.34 L504.25,271.34 L503.75,271.34 L503.25,271.34 L502.76,271.33 L502.26,271.33 L501.76,271.33 L501.27,271.33 L500.77,271.32 L500.27,271.32 L499.78,271.32 L499.28,271.31 L498.78,271.31 L498.29,271.31 L497.79,271.30 L497.29,271.30 L496.80,271.29 L496.30,271.29 L495.80,271.28 L495.31,271.28 L494.81,271.27 L494.31,271.27 L493.82,271.26 L493.32,271.25 L492.83,271.25 L492.33,271.24 L491.83,271.24 L491.34,271.23 L490.84,271.22 L490.34,271.21 L489.85,271.21 L489.35,271.20 L488.85,271.19 L488.36,271.19 L487.86,271.18 L487.36,271.17 L486.87,271.16 L486.37,271.16 L485.87,271.15 L485.38,271.14 L484.88,271.14 L484.38,271.13 L483.89,271.12 L483.39,271.11 L482.90,271.11 L482.40,271.10 L481.90,271.09 L481.41,271.09 L480.91,271.08 L480.41,271.08 L479.92,271.07 L479.42,271.07 L478.92,271.06 L478.43,271.05 L477.93,271.05 L477.43,271.05 L476.94,271.04 L476.44,271.04 L475.94,271.03 L475.45,271.03 L474.95,271.03 L474.45,271.02 L473.96,271.02 L473.46,271.02 L472.97,271.02 L472.47,271.02 L471.97,271.02 L471.48,271.02 L470.98,271.02 L470.48,271.02 L469.99,271.02 L469.49,271.02 L468.99,271.02 L468.50,271.02 L468.00,271.03 L467.50,271.03 L467.01,271.03 L466.51,271.04 L466.01,271.04 L465.52,271.05 L465.02,271.05 L464.52,271.06 L464.03,271.07 L463.53,271.07 L463.04,271.08 L462.54,271.09 L462.04,271.11 L461.55,271.15 L461.05,271.21 L460.55,271.29 L460.06,271.39 L459.56,271.51 L459.06,271.64 L458.57,271.78 L458.07,271.93 L457.57,272.09 L457.08,272.26 L456.58,272.43 L456.08,272.60 L455.59,272.80 L455.09,273.02 L454.59,273.28 L454.10,273.56 L453.60,273.88 L453.11,274.21 L452.61,274.57 L452.11,274.94 L451.62,275.33 L451.12,275.75 L450.62,276.22 L450.13,276.73 L449.63,277.28 L449.13,277.88 L448.64,278.53 L448.14,279.22 L447.64,279.99 L447.15,280.88 L446.65,281.85 L446.15,282.90 L445.66,284.01 L445.16,285.19 L444.66,286.56 L444.17,288.01 L443.67,289.37 L443.18,290.51 L442.68,291.53 L442.18,292.64 L441.69,294.04 L441.19,295.56 L440.69,296.80 L440.20,297.60 L439.70,298.31 Z" fill="#ec2227" stroke="none"/>
<path d="M439.70,298.31 L440.20,297.81 L440.69,297.17 L441.19,295.84 L441.69,293.70 L442.18,291.05 L442.68,288.20 L443.18,285.43 L443.67,283.00 L444.17,280.60 L444.66,278.18 L445.16,275.81 L445.66,273.55 L446.15,271.48 L446.65,269.60 L447.15,267.85 L447.64,266.19 L448.14,264.61 L448.64,263.10 L449.13,261.64 L449.63,260.23 L450.13,258.86 L450.62,257.54 L451.12,256.26 L451.62,255.02 L452.11,253.81 L452.61,252.65 L453.11,251.51 L453.60,250.39 L454.10,249.29 L454.59,248.22 L455.09,247.20 L455.59,246.22 L456.08,245.31 L456.58,244.47 L457.08,243.67 L457.57,242.90 L458.07,242.15 L458.57,241.43 L459.06,240.74 L459.56,240.08 L460.06,239.44 L460.55,238.83 L461.05,238.25 L461.55,237.70 L462.04,237.17 L462.54,236.68 L463.04,236.20 L463.53,235.74 L464.03,235.30 L464.52,234.88 L465.02,234.47 L465.52,234.08 L466.01,233.71 L466.51,233.35 L467.01,233.00 L467.50,232.67 L468.00,232.34 L468.50,232.02 L468.99,231.71 L469.49,231.40 L469.99,231.10 L470.48,230.81 L470.98,230.54 L471.48,230.28 L471.97,230.04 L472.47,229.82 L472.97,229.62 L473.46,229.44 L473.96,229.28 L474.45,229.11 L474.95,228.96 L475.45,228.81 L475.94,228.66 L476.44,228.52 L476.94,228.38 L477.43,228.25 L477.93,228.13 L478.43,228.01 L478.92,227.90 L479.42,227.79 L479.92,227.69 L480.41,227.59 L480.91,227.51 L481.41,227.42 L481.90,227.35 L482.40,227.28 L482.90,227.22 L483.39,227.16 L483.89,227.10 L484.38,227.05 L484.88,227.00 L485.38,226.95 L485.87,226.90 L486.37,226.85 L486.87,226.81 L487.36,226.77 L487.86,226.73 L488.36,226.69 L488.85,226.66 L489.35,226.63 L489.85,226.59 L490.34,226.57 L490.84,226.54 L491.34,226.51 L491.83,226.49 L492.33,226.47 L492.83,226.45 L493.32,226.43 L493.82,226.41 L494.31,226.40 L494.81,226.38 L495.31,226.36 L495.80,226.35 L496.30,226.33 L496.80,226.32 L497.29,226.30 L497.79,226.29 L498.29,226.27 L498.78,226.26 L499.28,226.25 L499.78,226.24 L500.27,226.23 L500.77,226.21 L501.27,226.20 L501.76,226.19 L502.26,226.18 L502.76,226.17 L503.25,226.16 L503.75,226.15 L504.25,226.14 L504.74,226.13 L505.24,226.12 L505.73,226.11 L506.23,226.10 L506.73,226.10 L507.22,226.09 L507.72,226.08 L508.22,226.07 L508.71,226.06 L509.21,226.05 L509.71,226.05 L510.20,226.04 L510.70,226.03 L511.20,226.02 L511.69,226.02 L512.19,226.01 L512.69,226.00 L513.18,225.99 L513.68,225.99 L514.17,225.98 L514.67,225.98 L515.17,225.97 L515.66,225.96 L516.16,225.96 L516.66,225.95 L517.15,225.94 L517.65,225.94 L518.15,225.93 L518.64,225.93 L519.14,225.92 L519.64,225.92 L520.13,225.91 L520.63,225.90 L521.13,225.90 L521.62,225.89 L522.12,225.89 L522.62,225.88 L523.11,225.88 L523.61,225.87 L524.11,225.87 L524.60,225.86 L525.10,225.86 L525.59,225.85 L526.09,225.85 L526.59,225.84 L527.08,225.84 L527.58,225.83 L528.08,225.83 L528.57,225.83 L529.07,225.82 L529.57,225.82 L530.06,225.81 L530.56,225.81 L531.06,225.80 L531.55,225.80 L532.05,225.79 L532.55,225.79 L533.04,225.79 L533.54,225.78 L534.03,225.78 L534.53,225.77 L535.03,225.77 L535.52,225.76 L536.02,225.76 L536.52,225.76 L537.01,225.75 L537.51,225.75 L538.01,225.74 L538.50,225.74 L539.00,225.73" fill="none" stroke="#231f20" stroke-width="0.8"/>
<path d="M439.70,298.31 L440.20,297.60 L440.69,296.80 L441.19,295.56 L441.69,294.04 L442.18,292.64 L442.68,291.53 L443.18,290.51 L443.67,289.37 L444.17,288.01 L444.66,286.56 L445.16,285.19 L445.66,284.01 L446.15,282.90 L446.65,281.85 L447.15,280.88 L447.64,279.99 L448.14,279.22 L448.64,278.53 L449.13,277.88 L449.63,277.28 L450.13,276.73 L450.62,276.22 L451.12,275.75 L451.62,275.33 L452.11,274.94 L452.61,274.57 L453.11,274.21 L453.60,273.88 L454.10,273.56 L454.59,273.28 L455.09,273.02 L455.59,272.80 L456.08,272.60 L456.58,272.43 L457.08,272.26 L457.57,272.09 L458.07,271.93 L458.57,271.78 L459.06,271.64 L459.56,271.51 L460.06,271.39 L460.55,271.29 L461.05,271.21 L461.55,271.15 L462.04,271.11 L462.54,271.09 L463.04,271.08 L463.53,271.07 L464.03,271.07 L464.52,271.06 L465.02,271.05 L465.52,271.05 L466.01,271.04 L466.51,271.04 L467.01,271.03 L467.50,271.03 L468.00,271.03 L468.50,271.02 L468.99,271.02 L469.49,271.02 L469.99,271.02 L470.48,271.02 L470.98,271.02 L471.48,271.02 L471.97,271.02 L472.47,271.02 L472.97,271.02 L473.46,271.02 L473.96,271.02 L474.45,271.02 L474.95,271.03 L475.45,271.03 L475.94,271.03 L476.44,271.04 L476.94,271.04 L477.43,271.05 L477.93,271.05 L478.43,271.05 L478.92,271.06 L479.42,271.07 L479.92,271.07 L480.41,271.08 L480.91,271.08 L481.41,271.09 L481.90,271.09 L482.40,271.10 L482.90,271.11 L483.39,271.11 L483.89,271.12 L484.38,271.13 L484.88,271.14 L485.38,271.14 L485.87,271.15 L486.37,271.16 L486.87,271.16 L487.36,271.17 L487.86,271.18 L488.36,271.19 L488.85,271.19 L489.35,271.20 L489.85,271.21 L490.34,271.21 L490.84,271.22 L491.34,271.23 L491.83,271.24 L492.33,271.24 L492.83,271.25 L493.32,271.25 L493.82,271.26 L494.31,271.27 L494.81,271.27 L495.31,271.28 L495.80,271.28 L496.30,271.29 L496.80,271.29 L497.29,271.30 L497.79,271.30 L498.29,271.31 L498.78,271.31 L499.28,271.31 L499.78,271.32 L500.27,271.32 L500.77,271.32 L501.27,271.33 L501.76,271.33 L502.26,271.33 L502.76,271.33 L503.25,271.34 L503.75,271.34 L504.25,271.34 L504.74,271.34 L505.24,271.35 L505.73,271.35 L506.23,271.35 L506.73,271.35 L507.22,271.36 L507.72,271.36 L508.22,271.36 L508.71,271.36 L509.21,271.36 L509.71,271.37 L510.20,271.37 L510.70,271.37 L511.20,271.37 L511.69,271.38 L512.19,271.38 L512.69,271.38 L513.18,271.38 L513.68,271.38 L514.17,271.38 L514.67,271.39 L515.17,271.39 L515.66,271.39 L516.16,271.39 L516.66,271.39 L517.15,271.40 L517.65,271.40 L518.15,271.40 L518.64,271.40 L519.14,271.40 L519.64,271.40 L520.13,271.41 L520.63,271.41 L521.13,271.41 L521.62,271.41 L522.12,271.41 L522.62,271.41 L523.11,271.42 L523.61,271.42 L524.11,271.42 L524.60,271.42 L525.10,271.42 L525.59,271.42 L526.09,271.43 L526.59,271.43 L527.08,271.43 L527.58,271.43 L528.08,271.43 L528.57,271.43 L529.07,271.44 L529.57,271.44 L530.06,271.44 L530.56,271.44 L531.06,271.44 L531.55,271.44 L532.05,271.45 L532.55,271.45 L533.04,271.45 L533.54,271.45 L534.03,271.45 L534.53,271.45 L535.03,271.46 L535.52,271.46 L536.02,271.46 L536.52,271.46 L537.01,271.46 L537.51,271.46 L538.01,271.47 L538.50,271.47 L539.00,271.47 L539.00,303.60 L538.50,303.60 L538.01,303.60 L537.51,303.60 L537.01,303.60 L536.52,303.60 L536.02,303.60 L535.52,303.60 L535.03,303.60 L534.53,303.60 L534.03,303.60 L533.54,303.60 L533.04,303.60 L532.55,303.60 L532.05,303.60 L531.55,303.60 L531.06,303.60 L530.56,303.60 L530.06,303.60 L529.57,303.60 L529.07,303.60 L528.57,303.60 L528.08,303.60 L527.58,303.60 L527.08,303.60 L526.59,303.60 L526.09,303.60 L525.59,303.60 L525.10,303.60 L524.60,303.60 L524.11,303.60 L523.61,303.60 L523.11,303.60 L522.62,303.60 L522.12,303.60 L521.62,303.60 L521.13,303.60 L520.63,303.60 L520.13,303.60 L519.64,303.60 L519.14,303.60 L518.64,303.60 L518.15,303.60 L517.65,303.60 L517.15,303.60 L516.66,303.60 L516.16,303.60 L515.66,303.60 L515.17,303.60 L514.67,303.60 L514.17,303.60 L513.68,303.60 L513.18,303.60 L512.69,303.60 L512.19,303.60 L511.69,303.60 L511.20,303.60 L510.70,303.60 L510.20,303.60 L509.71,303.60 L509.21,303.60 L508.71,303.60 L508.22,303.60 L507.72,303.60 L507.22,303.60 L506.73,303.60 L506.23,303.60 L505.73,303.60 L505.24,303.60 L504.74,303.60 L504.25,303.60 L503.75,303.60 L503.25,303.60 L502.76,303.60 L502.26,303.60 L501.76,303.60 L501.27,303.60 L500.77,303.60 L500.27,303.60 L499.78,303.60 L499.28,303.60 L498.78,303.60 L498.29,303.60 L497.79,303.60 L497.29,303.60 L496.80,303.60 L496.30,303.60 L495.80,303.60 L495.31,303.60 L494.81,303.60 L494.31,303.60 L493.82,303.60 L493.32,303.60 L492.83,303.60 L492.33,303.60 L491.83,303.60 L491.34,303.60 L490.84,303.60 L490.34,303.60 L489.85,303.60 L489.35,303.60 L488.85,303.60 L488.36,303.60 L487.86,303.59 L487.36,303.59 L486.87,303.59 L486.37,303.59 L485.87,303.59 L485.38,303.59 L484.88,303.59 L484.38,303.59 L483.89,303.59 L483.39,303.59 L482.90,303.59 L482.40,303.59 L481.90,303.59 L481.41,303.59 L480.91,303.59 L480.41,303.58 L479.92,303.58 L479.42,303.58 L478.92,303.58 L478.43,303.58 L477.93,303.58 L477.43,303.58 L476.94,303.58 L476.44,303.57 L475.94,303.57 L475.45,303.57 L474.95,303.57 L474.45,303.56 L473.96,303.56 L473.46,303.56 L472.97,303.56 L472.47,303.55 L471.97,303.55 L471.48,303.55 L470.98,303.54 L470.48,303.54 L469.99,303.53 L469.49,303.53 L468.99,303.52 L468.50,303.52 L468.00,303.51 L467.50,303.50 L467.01,303.50 L466.51,303.49 L466.01,303.48 L465.52,303.47 L465.02,303.46 L464.52,303.45 L464.03,303.44 L463.53,303.43 L463.04,303.42 L462.54,303.40 L462.04,303.39 L461.55,303.37 L461.05,303.35 L460.55,303.34 L460.06,303.32 L459.56,303.30 L459.06,303.27 L458.57,303.25 L458.07,303.22 L457.57,303.20 L457.08,303.17 L456.58,303.13 L456.08,303.10 L455.59,303.06 L455.09,303.02 L454.59,302.98 L454.10,302.93 L453.60,302.88 L453.11,302.83 L452.61,302.77 L452.11,302.71 L451.62,302.65 L451.12,302.58 L450.62,302.50 L450.13,302.42 L449.63,302.33 L449.13,302.24 L448.64,302.14 L448.14,302.03 L447.64,301.91 L447.15,301.79 L446.65,301.65 L446.15,301.51 L445.66,301.35 L445.16,301.19 L444.66,301.01 L444.17,300.82 L443.67,300.61 L443.18,300.39 L442.68,300.15 L442.18,299.90 L441.69,299.62 L441.19,299.33 L440.69,299.01 L440.20,298.67 L439.70,298.31 Z" fill="#f8a42a" stroke="none"/>
<path d="M439.70,298.31 L440.20,297.60 L440.69,296.80 L441.19,295.56 L441.69,294.04 L442.18,292.64 L442.68,291.53 L443.18,290.51 L443.67,289.37 L444.17,288.01 L444.66,286.56 L445.16,285.19 L445.66,284.01 L446.15,282.90 L446.65,281.85 L447.15,280.88 L447.64,279.99 L448.14,279.22 L448.64,278.53 L449.13,277.88 L449.63,277.28 L450.13,276.73 L450.62,276.22 L451.12,275.75 L451.62,275.33 L452.11,274.94 L452.61,274.57 L453.11,274.21 L453.60,273.88 L454.10,273.56 L454.59,273.28 L455.09,273.02 L455.59,272.80 L456.08,272.60 L456.58,272.43 L457.08,272.26 L457.57,272.09 L458.07,271.93 L458.57,271.78 L459.06,271.64 L459.56,271.51 L460.06,271.39 L460.55,271.29 L461.05,271.21 L461.55,271.15 L462.04,271.11 L462.54,271.09 L463.04,271.08 L463.53,271.07 L464.03,271.07 L464.52,271.06 L465.02,271.05 L465.52,271.05 L466.01,271.04 L466.51,271.04 L467.01,271.03 L467.50,271.03 L468.00,271.03 L468.50,271.02 L468.99,271.02 L469.49,271.02 L469.99,271.02 L470.48,271.02 L470.98,271.02 L471.48,271.02 L471.97,271.02 L472.47,271.02 L472.97,271.02 L473.46,271.02 L473.96,271.02 L474.45,271.02 L474.95,271.03 L475.45,271.03 L475.94,271.03 L476.44,271.04 L476.94,271.04 L477.43,271.05 L477.93,271.05 L478.43,271.05 L478.92,271.06 L479.42,271.07 L479.92,271.07 L480.41,271.08 L480.91,271.08 L481.41,271.09 L481.90,271.09 L482.40,271.10 L482.90,271.11 L483.39,271.11 L483.89,271.12 L484.38,271.13 L484.88,271.14 L485.38,271.14 L485.87,271.15 L486.37,271.16 L486.87,271.16 L487.36,271.17 L487.86,271.18 L488.36,271.19 L488.85,271.19 L489.35,271.20 L489.85,271.21 L490.34,271.21 L490.84,271.22 L491.34,271.23 L491.83,271.24 L492.33,271.24 L492.83,271.25 L493.32,271.25 L493.82,271.26 L494.31,271.27 L494.81,271.27 L495.31,271.28 L495.80,271.28 L496.30,271.29 L496.80,271.29 L497.29,271.30 L497.79,271.30 L498.29,271.31 L498.78,271.31 L499.28,271.31 L499.78,271.32 L500.27,271.32 L500.77,271.32 L501.27,271.33 L501.76,271.33 L502.26,271.33 L502.76,271.33 L503.25,271.34 L503.75,271.34 L504.25,271.34 L504.74,271.34 L505.24,271.35 L505.73,271.35 L506.23,271.35 L506.73,271.35 L507.22,271.36 L507.72,271.36 L508.22,271.36 L508.71,271.36 L509.21,271.36 L509.71,271.37 L510.20,271.37 L510.70,271.37 L511.20,271.37 L511.69,271.38 L512.19,271.38 L512.69,271.38 L513.18,271.38 L513.68,271.38 L514.17,271.38 L514.67,271.39 L515.17,271.39 L515.66,271.39 L516.16,271.39 L516.66,271.39 L517.15,271.40 L517.65,271.40 L518.15,271.40 L518.64,271.40 L519.14,271.40 L519.64,271.40 L520.13,271.41 L520.63,271.41 L521.13,271.41 L521.62,271.41 L522.12,271.41 L522.62,271.41 L523.11,271.42 L523.61,271.42 L524.11,271.42 L524.60,271.42 L525.10,271.42 L525.59,271.42 L526.09,271.43 L526.59,271.43 L527.08,271.43 L527.58,271.43 L528.08,271.43 L528.57,271.43 L529.07,271.44 L529.57,271.44 L530.06,271.44 L530.56,271.44 L531.06,271.44 L531.55,271.44 L532.05,271.45 L532.55,271.45 L533.04,271.45 L533.54,271.45 L534.03,271.45 L534.53,271.45 L535.03,271.46 L535.52,271.46 L536.02,271.46 L536.52,271.46 L537.01,271.46 L537.51,271.46 L538.01,271.47 L538.50,271.47 L539.00,271.47" fill="none" stroke="#3a1a1a" stroke-width="1.3"/>
<path d="M439.70,298.31 L440.20,298.67 L440.69,299.01 L441.19,299.33 L441.69,299.62 L442.18,299.90 L442.68,300.15 L443.18,300.39 L443.67,300.61 L444.17,300.82 L444.66,301.01 L445.16,301.19 L445.66,301.35 L446.15,301.51 L446.65,301.65 L447.15,301.79 L447.64,301.91 L448.14,302.03 L448.64,302.14 L449.13,302.24 L449.63,302.33 L450.13,302.42 L450.62,302.50 L451.12,302.58 L451.62,302.65 L452.11,302.71 L452.61,302.77 L453.11,302.83 L453.60,302.88 L454.10,302.93 L454.59,302.98 L455.09,303.02 L455.59,303.06 L456.08,303.10 L456.58,303.13 L457.08,303.17 L457.57,303.20 L458.07,303.22 L458.57,303.25 L459.06,303.27 L459.56,303.30 L460.06,303.32 L460.55,303.34 L461.05,303.35 L461.55,303.37 L462.04,303.39 L462.54,303.40 L463.04,303.42 L463.53,303.43 L464.03,303.44 L464.52,303.45 L465.02,303.46 L465.52,303.47 L466.01,303.48 L466.51,303.49 L467.01,303.50 L467.50,303.50 L468.00,303.51 L468.50,303.52 L468.99,303.52 L469.49,303.53 L469.99,303.53 L470.48,303.54 L470.98,303.54 L471.48,303.55 L471.97,303.55 L472.47,303.55 L472.97,303.56 L473.46,303.56 L473.96,303.56 L474.45,303.56 L474.95,303.57 L475.45,303.57 L475.94,303.57 L476.44,303.57 L476.94,303.58 L477.43,303.58 L477.93,303.58 L478.43,303.58 L478.92,303.58 L479.42,303.58 L479.92,303.58 L480.41,303.58 L480.91,303.59 L481.41,303.59 L481.90,303.59 L482.40,303.59 L482.90,303.59 L483.39,303.59 L483.89,303.59 L484.38,303.59 L484.88,303.59 L485.38,303.59 L485.87,303.59 L486.37,303.59 L486.87,303.59 L487.36,303.59 L487.86,303.59 L488.36,303.60 L488.85,303.60 L489.35,303.60 L489.85,303.60 L490.34,303.60 L490.84,303.60 L491.34,303.60 L491.83,303.60 L492.33,303.60 L492.83,303.60 L493.32,303.60 L493.82,303.60 L494.31,303.60 L494.81,303.60 L495.31,303.60 L495.80,303.60 L496.30,303.60 L496.80,303.60 L497.29,303.60 L497.79,303.60 L498.29,303.60 L498.78,303.60 L499.28,303.60 L499.78,303.60 L500.27,303.60 L500.77,303.60 L501.27,303.60 L501.76,303.60 L502.26,303.60 L502.76,303.60 L503.25,303.60 L503.75,303.60 L504.25,303.60 L504.74,303.60 L505.24,303.60 L505.73,303.60 L506.23,303.60 L506.73,303.60 L507.22,303.60 L507.72,303.60 L508.22,303.60 L508.71,303.60 L509.21,303.60 L509.71,303.60 L510.20,303.60 L510.70,303.60 L511.20,303.60 L511.69,303.60 L512.19,303.60 L512.69,303.60 L513.18,303.60 L513.68,303.60 L514.17,303.60 L514.67,303.60 L515.17,303.60 L515.66,303.60 L516.16,303.60 L516.66,303.60 L517.15,303.60 L517.65,303.60 L518.15,303.60 L518.64,303.60 L519.14,303.60 L519.64,303.60 L520.13,303.60 L520.63,303.60 L521.13,303.60 L521.62,303.60 L522.12,303.60 L522.62,303.60 L523.11,303.60 L523.61,303.60 L524.11,303.60 L524.60,303.60 L525.10,303.60 L525.59,303.60 L526.09,303.60 L526.59,303.60 L527.08,303.60 L527.58,303.60 L528.08,303.60 L528.57,303.60 L529.07,303.60 L529.57,303.60 L530.06,303.60 L530.56,303.60 L531.06,303.60 L531.55,303.60 L532.05,303.60 L532.55,303.60 L533.04,303.60 L533.54,303.60 L534.03,303.60 L534.53,303.60 L535.03,303.60 L535.52,303.60 L536.02,303.60 L536.52,303.60 L537.01,303.60 L537.51,303.60 L538.01,303.60 L538.50,303.60 L539.00,303.60 L539.00,303.60 L538.50,303.60 L538.01,303.60 L537.51,303.60 L537.01,303.60 L536.52,303.60 L536.02,303.60 L535.52,303.60 L535.03,303.60 L534.53,303.60 L534.03,303.60 L533.54,303.60 L533.04,303.60 L532.55,303.60 L532.05,303.60 L531.55,303.60 L531.06,303.60 L530.56,303.60 L530.06,303.60 L529.57,303.60 L529.07,303.60 L528.57,303.60 L528.08,303.60 L527.58,303.60 L527.08,303.60 L526.59,303.60 L526.09,303.60 L525.59,303.60 L525.10,303.60 L524.60,303.60 L524.11,303.60 L523.61,303.60 L523.11,303.60 L522.62,303.60 L522.12,303.60 L521.62,303.60 L521.13,303.60 L520.63,303.60 L520.13,303.60 L519.64,303.60 L519.14,303.60 L518.64,303.60 L518.15,303.60 L517.65,303.60 L517.15,303.60 L516.66,303.60 L516.16,303.60 L515.66,303.60 L515.17,303.60 L514.67,303.60 L514.17,303.60 L513.68,303.60 L513.18,303.60 L512.69,303.60 L512.19,303.60 L511.69,303.60 L511.20,303.60 L510.70,303.60 L510.20,303.60 L509.71,303.60 L509.21,303.60 L508.71,303.60 L508.22,303.60 L507.72,303.60 L507.22,303.60 L506.73,303.60 L506.23,303.60 L505.73,303.60 L505.24,303.60 L504.74,303.60 L504.25,303.60 L503.75,303.60 L503.25,303.60 L502.76,303.60 L502.26,303.60 L501.76,303.60 L501.27,303.60 L500.77,303.60 L500.27,303.60 L499.78,303.60 L499.28,303.60 L498.78,303.60 L498.29,303.60 L497.79,303.60 L497.29,303.60 L496.80,303.60 L496.30,303.60 L495.80,303.60 L495.31,303.60 L494.81,303.60 L494.31,303.60 L493.82,303.60 L493.32,303.60 L492.83,303.60 L492.33,303.60 L491.83,303.60 L491.34,303.60 L490.84,303.60 L490.34,303.60 L489.85,303.60 L489.35,303.60 L488.85,303.60 L488.36,303.60 L487.86,303.60 L487.36,303.60 L486.87,303.60 L486.37,303.60 L485.87,303.60 L485.38,303.60 L484.88,303.60 L484.38,303.60 L483.89,303.60 L483.39,303.60 L482.90,303.60 L482.40,303.60 L481.90,303.60 L481.41,303.60 L480.91,303.60 L480.41,303.60 L479.92,303.60 L479.42,303.60 L478.92,303.60 L478.43,303.60 L477.93,303.60 L477.43,303.60 L476.94,303.60 L476.44,303.60 L475.94,303.60 L475.45,303.60 L474.95,303.60 L474.45,303.60 L473.96,303.60 L473.46,303.60 L472.97,303.60 L472.47,303.60 L471.97,303.60 L471.48,303.60 L470.98,303.60 L470.48,303.60 L469.99,303.60 L469.49,303.60 L468.99,303.60 L468.50,303.60 L468.00,303.60 L467.50,303.60 L467.01,303.60 L466.51,303.60 L466.01,303.60 L465.52,303.60 L465.02,303.60 L464.52,303.60 L464.03,303.60 L463.53,303.60 L463.04,303.60 L462.54,303.60 L462.04,303.60 L461.55,303.60 L461.05,303.60 L460.55,303.60 L460.06,303.60 L459.56,303.60 L459.06,303.60 L458.57,303.60 L458.07,303.60 L457.57,303.60 L457.08,303.60 L456.58,303.60 L456.08,303.60 L455.59,303.60 L455.09,303.60 L454.59,303.60 L454.10,303.60 L453.60,303.60 L453.11,303.60 L452.61,303.60 L452.11,303.60 L451.62,303.60 L451.12,303.60 L450.62,303.60 L450.13,303.60 L449.63,303.60 L449.13,303.60 L448.64,303.60 L448.14,303.60 L447.64,303.60 L447.15,303.60 L446.65,303.60 L446.15,303.60 L445.66,303.60 L445.16,303.60 L444.66,303.60 L444.17,303.60 L443.67,303.60 L443.18,303.60 L442.68,303.60 L442.18,303.60 L441.69,303.60 L441.19,303.60 L440.69,303.60 L440.20,303.60 L439.70,303.60 Z" fill="#8b5a2b" stroke="none"/>
<path d="M439.70,298.31 L440.20,298.67 L440.69,299.01 L441.19,299.33 L441.69,299.62 L442.18,299.90 L442.68,300.15 L443.18,300.39 L443.67,300.61 L444.17,300.82 L444.66,301.01 L445.16,301.19 L445.66,301.35 L446.15,301.51 L446.65,301.65 L447.15,301.79 L447.64,301.91 L448.14,302.03 L448.64,302.14 L449.13,302.24 L449.63,302.33 L450.13,302.42 L450.62,302.50 L451.12,302.58 L451.62,302.65 L452.11,302.71 L452.61,302.77 L453.11,302.83 L453.60,302.88 L454.10,302.93 L454.59,302.98 L455.09,303.02 L455.59,303.06 L456.08,303.10 L456.58,303.13 L457.08,303.17 L457.57,303.20 L458.07,303.22 L458.57,303.25 L459.06,303.27 L459.56,303.30 L460.06,303.32 L460.55,303.34 L461.05,303.35 L461.55,303.37 L462.04,303.39 L462.54,303.40 L463.04,303.42 L463.53,303.43 L464.03,303.44 L464.52,303.45 L465.02,303.46 L465.52,303.47 L466.01,303.48 L466.51,303.49 L467.01,303.50 L467.50,303.50 L468.00,303.51 L468.50,303.52 L468.99,303.52 L469.49,303.53 L469.99,303.53 L470.48,303.54 L470.98,303.54 L471.48,303.55 L471.97,303.55 L472.47,303.55 L472.97,303.56 L473.46,303.56 L473.96,303.56 L474.45,303.56 L474.95,303.57 L475.45,303.57 L475.94,303.57 L476.44,303.57 L476.94,303.58 L477.43,303.58 L477.93,303.58 L478.43,303.58 L478.92,303.58 L479.42,303.58 L479.92,303.58 L480.41,303.58 L480.91,303.59 L481.41,303.59 L481.90,303.59 L482.40,303.59 L482.90,303.59 L483.39,303.59 L483.89,303.59 L484.38,303.59 L484.88,303.59 L485.38,303.59 L485.87,303.59 L486.37,303.59 L486.87,303.59 L487.36,303.59 L487.86,303.59 L488.36,303.60 L488.85,303.60 L489.35,303.60 L489.85,303.60 L490.34,303.60 L490.84,303.60 L491.34,303.60 L491.83,303.60 L492.33,303.60 L492.83,303.60 L493.32,303.60 L493.82,303.60 L494.31,303.60 L494.81,303.60 L495.31,303.60 L495.80,303.60 L496.30,303.60 L496.80,303.60 L497.29,303.60 L497.79,303.60 L498.29,303.60 L498.78,303.60 L499.28,303.60 L499.78,303.60 L500.27,303.60 L500.77,303.60 L501.27,303.60 L501.76,303.60 L502.26,303.60 L502.76,303.60 L503.25,303.60 L503.75,303.60 L504.25,303.60 L504.74,303.60 L505.24,303.60 L505.73,303.60 L506.23,303.60 L506.73,303.60 L507.22,303.60 L507.72,303.60 L508.22,303.60 L508.71,303.60 L509.21,303.60 L509.71,303.60 L510.20,303.60 L510.70,303.60 L511.20,303.60 L511.69,303.60 L512.19,303.60 L512.69,303.60 L513.18,303.60 L513.68,303.60 L514.17,303.60 L514.67,303.60 L515.17,303.60 L515.66,303.60 L516.16,303.60 L516.66,303.60 L517.15,303.60 L517.65,303.60 L518.15,303.60 L518.64,303.60 L519.14,303.60 L519.64,303.60 L520.13,303.60 L520.63,303.60 L521.13,303.60 L521.62,303.60 L522.12,303.60 L522.62,303.60 L523.11,303.60 L523.61,303.60 L524.11,303.60 L524.60,303.60 L525.10,303.60 L525.59,303.60 L526.09,303.60 L526.59,303.60 L527.08,303.60 L527.58,303.60 L528.08,303.60 L528.57,303.60 L529.07,303.60 L529.57,303.60 L530.06,303.60 L530.56,303.60 L531.06,303.60 L531.55,303.60 L532.05,303.60 L532.55,303.60 L533.04,303.60 L533.54,303.60 L534.03,303.60 L534.53,303.60 L535.03,303.60 L535.52,303.60 L536.02,303.60 L536.52,303.60 L537.01,303.60 L537.51,303.60 L538.01,303.60 L538.50,303.60 L539.00,303.60" fill="none" stroke="#231f20" stroke-width="0.6"/>
<line x1="539.0" y1="225.7" x2="539.0" y2="303.6" stroke="#231f20" stroke-width="0.7"/>
<path d="M558.80,298.50 L559.30,297.53 L559.79,295.90 L560.29,293.85 L560.79,291.58 L561.28,289.33 L561.78,287.28 L562.28,285.27 L562.77,283.25 L563.27,281.26 L563.76,279.34 L564.26,277.52 L564.76,275.76 L565.25,274.04 L565.75,272.40 L566.25,270.84 L566.74,269.39 L567.24,268.01 L567.74,266.69 L568.23,265.42 L568.73,264.21 L569.23,263.03 L569.72,261.90 L570.22,260.79 L570.72,259.71 L571.21,258.65 L571.71,257.63 L572.21,256.66 L572.70,255.75 L573.20,254.90 L573.69,254.11 L574.19,253.34 L574.69,252.60 L575.18,251.88 L575.68,251.19 L576.18,250.54 L576.67,249.91 L577.17,249.32 L577.67,248.76 L578.16,248.24 L578.66,247.74 L579.16,247.26 L579.65,246.81 L580.15,246.37 L580.65,245.95 L581.14,245.55 L581.64,245.17 L582.14,244.81 L582.63,244.47 L583.13,244.15 L583.62,243.84 L584.12,243.53 L584.62,243.24 L585.11,242.95 L585.61,242.67 L586.11,242.41 L586.60,242.15 L587.10,241.91 L587.60,241.67 L588.09,241.45 L588.59,241.24 L589.09,241.05 L589.58,240.87 L590.08,240.71 L590.58,240.55 L591.07,240.40 L591.57,240.25 L592.07,240.10 L592.56,239.97 L593.06,239.83 L593.55,239.70 L594.05,239.58 L594.55,239.47 L595.04,239.35 L595.54,239.25 L596.04,239.15 L596.53,239.06 L597.03,238.97 L597.53,238.89 L598.02,238.81 L598.52,238.74 L599.02,238.67 L599.51,238.61 L600.01,238.54 L600.51,238.48 L601.00,238.42 L601.50,238.37 L602.00,238.31 L602.49,238.26 L602.99,238.21 L603.48,238.16 L603.98,238.11 L604.48,238.07 L604.97,238.03 L605.47,237.98 L605.97,237.95 L606.46,237.91 L606.96,237.87 L607.46,237.84 L607.95,237.81 L608.45,237.78 L608.95,237.75 L609.44,237.72 L609.94,237.69 L610.44,237.66 L610.93,237.64 L611.43,237.61 L611.93,237.58 L612.42,237.56 L612.92,237.53 L613.41,237.51 L613.91,237.48 L614.41,237.46 L614.90,237.44 L615.40,237.41 L615.90,237.39 L616.39,237.37 L616.89,237.35 L617.39,237.33 L617.88,237.31 L618.38,237.29 L618.88,237.27 L619.37,237.26 L619.87,237.24 L620.37,237.22 L620.86,237.21 L621.36,237.19 L621.86,237.18 L622.35,237.16 L622.85,237.15 L623.34,237.14 L623.84,237.12 L624.34,237.11 L624.83,237.10 L625.33,237.09 L625.83,237.08 L626.32,237.07 L626.82,237.07 L627.32,237.06 L627.81,237.05 L628.31,237.04 L628.81,237.03 L629.30,237.02 L629.80,237.02 L630.30,237.01 L630.79,237.00 L631.29,236.99 L631.79,236.99 L632.28,236.98 L632.78,236.97 L633.27,236.97 L633.77,236.96 L634.27,236.96 L634.76,236.95 L635.26,236.94 L635.76,236.94 L636.25,236.93 L636.75,236.93 L637.25,236.92 L637.74,236.92 L638.24,236.91 L638.74,236.91 L639.23,236.91 L639.73,236.90 L640.23,236.90 L640.72,236.89 L641.22,236.89 L641.72,236.89 L642.21,236.88 L642.71,236.88 L643.20,236.88 L643.70,236.87 L644.20,236.87 L644.69,236.87 L645.19,236.87 L645.69,236.86 L646.18,236.86 L646.68,236.86 L647.18,236.85 L647.67,236.85 L648.17,236.85 L648.67,236.85 L649.16,236.84 L649.66,236.84 L650.16,236.84 L650.65,236.84 L651.15,236.83 L651.65,236.83 L652.14,236.83 L652.64,236.83 L653.13,236.83 L653.63,236.82 L654.13,236.82 L654.62,236.82 L655.12,236.82 L655.62,236.81 L656.11,236.81 L656.61,236.81 L657.11,236.81 L657.60,236.80 L658.10,236.80 L658.10,294.80 L657.60,294.80 L657.11,294.79 L656.61,294.79 L656.11,294.78 L655.62,294.78 L655.12,294.77 L654.62,294.77 L654.13,294.76 L653.63,294.76 L653.13,294.75 L652.64,294.75 L652.14,294.74 L651.65,294.74 L651.15,294.74 L650.65,294.73 L650.16,294.73 L649.66,294.72 L649.16,294.72 L648.67,294.72 L648.17,294.71 L647.67,294.71 L647.18,294.70 L646.68,294.70 L646.18,294.69 L645.69,294.69 L645.19,294.69 L644.69,294.68 L644.20,294.68 L643.70,294.67 L643.20,294.67 L642.71,294.67 L642.21,294.66 L641.72,294.66 L641.22,294.65 L640.72,294.65 L640.23,294.65 L639.73,294.64 L639.23,294.64 L638.74,294.63 L638.24,294.63 L637.74,294.63 L637.25,294.62 L636.75,294.62 L636.25,294.61 L635.76,294.61 L635.26,294.60 L634.76,294.60 L634.27,294.59 L633.77,294.59 L633.27,294.58 L632.78,294.58 L632.28,294.57 L631.79,294.57 L631.29,294.56 L630.79,294.56 L630.30,294.55 L629.80,294.55 L629.30,294.54 L628.81,294.54 L628.31,294.53 L627.81,294.53 L627.32,294.52 L626.82,294.52 L626.32,294.51 L625.83,294.50 L625.33,294.50 L624.83,294.49 L624.34,294.49 L623.84,294.48 L623.34,294.47 L622.85,294.47 L622.35,294.46 L621.86,294.45 L621.36,294.45 L620.86,294.44 L620.37,294.43 L619.87,294.42 L619.37,294.42 L618.88,294.41 L618.38,294.40 L617.88,294.39 L617.39,294.38 L616.89,294.37 L616.39,294.36 L615.90,294.35 L615.40,294.34 L614.90,294.33 L614.41,294.32 L613.91,294.31 L613.41,294.30 L612.92,294.29 L612.42,294.27 L611.93,294.26 L611.43,294.25 L610.93,294.23 L610.44,294.22 L609.94,294.20 L609.44,294.19 L608.95,294.17 L608.45,294.16 L607.95,294.14 L607.46,294.13 L606.96,294.11 L606.46,294.09 L605.97,294.08 L605.47,294.06 L604.97,294.04 L604.48,294.02 L603.98,294.01 L603.48,293.99 L602.99,293.97 L602.49,293.95 L602.00,293.93 L601.50,293.91 L601.00,293.90 L600.51,293.88 L600.01,293.86 L599.51,293.84 L599.02,293.82 L598.52,293.80 L598.02,293.78 L597.53,293.76 L597.03,293.74 L596.53,293.72 L596.04,293.69 L595.54,293.67 L595.04,293.65 L594.55,293.62 L594.05,293.60 L593.55,293.57 L593.06,293.55 L592.56,293.52 L592.07,293.49 L591.57,293.47 L591.07,293.44 L590.58,293.41 L590.08,293.38 L589.58,293.35 L589.09,293.33 L588.59,293.30 L588.09,293.27 L587.60,293.24 L587.10,293.21 L586.60,293.18 L586.11,293.15 L585.61,293.12 L585.11,293.09 L584.62,293.06 L584.12,293.03 L583.62,293.00 L583.13,292.97 L582.63,292.93 L582.14,292.90 L581.64,292.86 L581.14,292.82 L580.65,292.78 L580.15,292.74 L579.65,292.70 L579.16,292.66 L578.66,292.62 L578.16,292.59 L577.67,292.55 L577.17,292.52 L576.67,292.49 L576.18,292.46 L575.68,292.43 L575.18,292.42 L574.69,292.40 L574.19,292.39 L573.69,292.37 L573.20,292.36 L572.70,292.35 L572.21,292.34 L571.71,292.33 L571.21,292.32 L570.72,292.31 L570.22,292.31 L569.72,292.30 L569.23,292.30 L568.73,292.30 L568.23,292.31 L567.74,292.32 L567.24,292.34 L566.74,292.38 L566.25,292.42 L565.75,292.47 L565.25,292.53 L564.76,292.60 L564.26,292.73 L563.76,292.97 L563.27,293.27 L562.77,293.60 L562.28,293.97 L561.78,294.42 L561.28,294.94 L560.79,295.50 L560.29,296.16 L559.79,296.92 L559.30,297.72 L558.80,298.50 Z" fill="#ec2227" stroke="none"/>
<path d="M558.80,298.50 L559.30,297.53 L559.79,295.90 L560.29,293.85 L560.79,291.58 L561.28,289.33 L561.78,287.28 L562.28,285.27 L562.77,283.25 L563.27,281.26 L563.76,279.34 L564.26,277.52 L564.76,275.76 L565.25,274.04 L565.75,272.40 L566.25,270.84 L566.74,269.39 L567.24,268.01 L567.74,266.69 L568.23,265.42 L568.73,264.21 L569.23,263.03 L569.72,261.90 L570.22,260.79 L570.72,259.71 L571.21,258.65 L571.71,257.63 L572.21,256.66 L572.70,255.75 L573.20,254.90 L573.69,254.11 L574.19,253.34 L574.69,252.60 L575.18,251.88 L575.68,251.19 L576.18,250.54 L576.67,249.91 L577.17,249.32 L577.67,248.76 L578.16,248.24 L578.66,247.74 L579.16,247.26 L579.65,246.81 L580.15,246.37 L580.65,245.95 L581.14,245.55 L581.64,245.17 L582.14,244.81 L582.63,244.47 L583.13,244.15 L583.62,243.84 L584.12,243.53 L584.62,243.24 L585.11,242.95 L585.61,242.67 L586.11,242.41 L586.60,242.15 L587.10,241.91 L587.60,241.67 L588.09,241.45 L588.59,241.24 L589.09,241.05 L589.58,240.87 L590.08,240.71 L590.58,240.55 L591.07,240.40 L591.57,240.25 L592.07,240.10 L592.56,239.97 L593.06,239.83 L593.55,239.70 L594.05,239.58 L594.55,239.47 L595.04,239.35 L595.54,239.25 L596.04,239.15 L596.53,239.06 L597.03,238.97 L597.53,238.89 L598.02,238.81 L598.52,238.74 L599.02,238.67 L599.51,238.61 L600.01,238.54 L600.51,238.48 L601.00,238.42 L601.50,238.37 L602.00,238.31 L602.49,238.26 L602.99,238.21 L603.48,238.16 L603.98,238.11 L604.48,238.07 L604.97,238.03 L605.47,237.98 L605.97,237.95 L606.46,237.91 L606.96,237.87 L607.46,237.84 L607.95,237.81 L608.45,237.78 L608.95,237.75 L609.44,237.72 L609.94,237.69 L610.44,237.66 L610.93,237.64 L611.43,237.61 L611.93,237.58 L612.42,237.56 L612.92,237.53 L613.41,237.51 L613.91,237.48 L614.41,237.46 L614.90,237.44 L615.40,237.41 L615.90,237.39 L616.39,237.37 L616.89,237.35 L617.39,237.33 L617.88,237.31 L618.38,237.29 L618.88,237.27 L619.37,237.26 L619.87,237.24 L620.37,237.22 L620.86,237.21 L621.36,237.19 L621.86,237.18 L622.35,237.16 L622.85,237.15 L623.34,237.14 L623.84,237.12 L624.34,237.11 L624.83,237.10 L625.33,237.09 L625.83,237.08 L626.32,237.07 L626.82,237.07 L627.32,237.06 L627.81,237.05 L628.31,237.04 L628.81,237.03 L629.30,237.02 L629.80,237.02 L630.30,237.01 L630.79,237.00 L631.29,236.99 L631.79,236.99 L632.28,236.98 L632.78,236.97 L633.27,236.97 L633.77,236.96 L634.27,236.96 L634.76,236.95 L635.26,236.94 L635.76,236.94 L636.25,236.93 L636.75,236.93 L637.25,236.92 L637.74,236.92 L638.24,236.91 L638.74,236.91 L639.23,236.91 L639.73,236.90 L640.23,236.90 L640.72,236.89 L641.22,236.89 L641.72,236.89 L642.21,236.88 L642.71,236.88 L643.20,236.88 L643.70,236.87 L644.20,236.87 L644.69,236.87 L645.19,236.87 L645.69,236.86 L646.18,236.86 L646.68,236.86 L647.18,236.85 L647.67,236.85 L648.17,236.85 L648.67,236.85 L649.16,236.84 L649.66,236.84 L650.16,236.84 L650.65,236.84 L651.15,236.83 L651.65,236.83 L652.14,236.83 L652.64,236.83 L653.13,236.83 L653.63,236.82 L654.13,236.82 L654.62,236.82 L655.12,236.82 L655.62,236.81 L656.11,236.81 L656.61,236.81 L657.11,236.81 L657.60,236.80 L658.10,236.80" fill="none" stroke="#231f20" stroke-width="0.8"/>
<path d="M558.80,298.50 L559.30,297.72 L559.79,296.92 L560.29,296.16 L560.79,295.50 L561.28,294.94 L561.78,294.42 L562.28,293.97 L562.77,293.60 L563.27,293.27 L563.76,292.97 L564.26,292.73 L564.76,292.60 L565.25,292.53 L565.75,292.47 L566.25,292.42 L566.74,292.38 L567.24,292.34 L567.74,292.32 L568.23,292.31 L568.73,292.30 L569.23,292.30 L569.72,292.30 L570.22,292.31 L570.72,292.31 L571.21,292.32 L571.71,292.33 L572.21,292.34 L572.70,292.35 L573.20,292.36 L573.69,292.37 L574.19,292.39 L574.69,292.40 L575.18,292.42 L575.68,292.43 L576.18,292.46 L576.67,292.49 L577.17,292.52 L577.67,292.55 L578.16,292.59 L578.66,292.62 L579.16,292.66 L579.65,292.70 L580.15,292.74 L580.65,292.78 L581.14,292.82 L581.64,292.86 L582.14,292.90 L582.63,292.93 L583.13,292.97 L583.62,293.00 L584.12,293.03 L584.62,293.06 L585.11,293.09 L585.61,293.12 L586.11,293.15 L586.60,293.18 L587.10,293.21 L587.60,293.24 L588.09,293.27 L588.59,293.30 L589.09,293.33 L589.58,293.35 L590.08,293.38 L590.58,293.41 L591.07,293.44 L591.57,293.47 L592.07,293.49 L592.56,293.52 L593.06,293.55 L593.55,293.57 L594.05,293.60 L594.55,293.62 L595.04,293.65 L595.54,293.67 L596.04,293.69 L596.53,293.72 L597.03,293.74 L597.53,293.76 L598.02,293.78 L598.52,293.80 L599.02,293.82 L599.51,293.84 L600.01,293.86 L600.51,293.88 L601.00,293.90 L601.50,293.91 L602.00,293.93 L602.49,293.95 L602.99,293.97 L603.48,293.99 L603.98,294.01 L604.48,294.02 L604.97,294.04 L605.47,294.06 L605.97,294.08 L606.46,294.09 L606.96,294.11 L607.46,294.13 L607.95,294.14 L608.45,294.16 L608.95,294.17 L609.44,294.19 L609.94,294.20 L610.44,294.22 L610.93,294.23 L611.43,294.25 L611.93,294.26 L612.42,294.27 L612.92,294.29 L613.41,294.30 L613.91,294.31 L614.41,294.32 L614.90,294.33 L615.40,294.34 L615.90,294.35 L616.39,294.36 L616.89,294.37 L617.39,294.38 L617.88,294.39 L618.38,294.40 L618.88,294.41 L619.37,294.42 L619.87,294.42 L620.37,294.43 L620.86,294.44 L621.36,294.45 L621.86,294.45 L622.35,294.46 L622.85,294.47 L623.34,294.47 L623.84,294.48 L624.34,294.49 L624.83,294.49 L625.33,294.50 L625.83,294.50 L626.32,294.51 L626.82,294.52 L627.32,294.52 L627.81,294.53 L628.31,294.53 L628.81,294.54 L629.30,294.54 L629.80,294.55 L630.30,294.55 L630.79,294.56 L631.29,294.56 L631.79,294.57 L632.28,294.57 L632.78,294.58 L633.27,294.58 L633.77,294.59 L634.27,294.59 L634.76,294.60 L635.26,294.60 L635.76,294.61 L636.25,294.61 L636.75,294.62 L637.25,294.62 L637.74,294.63 L638.24,294.63 L638.74,294.63 L639.23,294.64 L639.73,294.64 L640.23,294.65 L640.72,294.65 L641.22,294.65 L641.72,294.66 L642.21,294.66 L642.71,294.67 L643.20,294.67 L643.70,294.67 L644.20,294.68 L644.69,294.68 L645.19,294.69 L645.69,294.69 L646.18,294.69 L646.68,294.70 L647.18,294.70 L647.67,294.71 L648.17,294.71 L648.67,294.72 L649.16,294.72 L649.66,294.72 L650.16,294.73 L650.65,294.73 L651.15,294.74 L651.65,294.74 L652.14,294.74 L652.64,294.75 L653.13,294.75 L653.63,294.76 L654.13,294.76 L654.62,294.77 L655.12,294.77 L655.62,294.78 L656.11,294.78 L656.61,294.79 L657.11,294.79 L657.60,294.80 L658.10,294.80 L658.10,295.60 L657.60,295.60 L657.11,295.60 L656.61,295.60 L656.11,295.59 L655.62,295.59 L655.12,295.59 L654.62,295.59 L654.13,295.59 L653.63,295.59 L653.13,295.58 L652.64,295.58 L652.14,295.58 L651.65,295.58 L651.15,295.58 L650.65,295.58 L650.16,295.57 L649.66,295.57 L649.16,295.57 L648.67,295.57 L648.17,295.57 L647.67,295.57 L647.18,295.57 L646.68,295.56 L646.18,295.56 L645.69,295.56 L645.19,295.56 L644.69,295.56 L644.20,295.56 L643.70,295.56 L643.20,295.55 L642.71,295.55 L642.21,295.55 L641.72,295.55 L641.22,295.55 L640.72,295.55 L640.23,295.55 L639.73,295.54 L639.23,295.54 L638.74,295.54 L638.24,295.54 L637.74,295.54 L637.25,295.54 L636.75,295.54 L636.25,295.54 L635.76,295.53 L635.26,295.53 L634.76,295.53 L634.27,295.53 L633.77,295.53 L633.27,295.53 L632.78,295.53 L632.28,295.52 L631.79,295.52 L631.29,295.52 L630.79,295.52 L630.30,295.52 L629.80,295.52 L629.30,295.52 L628.81,295.51 L628.31,295.51 L627.81,295.51 L627.32,295.51 L626.82,295.51 L626.32,295.51 L625.83,295.51 L625.33,295.50 L624.83,295.50 L624.34,295.50 L623.84,295.50 L623.34,295.50 L622.85,295.50 L622.35,295.49 L621.86,295.49 L621.36,295.49 L620.86,295.49 L620.37,295.49 L619.87,295.49 L619.37,295.48 L618.88,295.48 L618.38,295.48 L617.88,295.48 L617.39,295.48 L616.89,295.48 L616.39,295.47 L615.90,295.47 L615.40,295.47 L614.90,295.47 L614.41,295.47 L613.91,295.47 L613.41,295.46 L612.92,295.46 L612.42,295.46 L611.93,295.46 L611.43,295.46 L610.93,295.45 L610.44,295.45 L609.94,295.45 L609.44,295.45 L608.95,295.45 L608.45,295.44 L607.95,295.44 L607.46,295.44 L606.96,295.44 L606.46,295.44 L605.97,295.43 L605.47,295.43 L604.97,295.43 L604.48,295.43 L603.98,295.43 L603.48,295.42 L602.99,295.42 L602.49,295.42 L602.00,295.42 L601.50,295.41 L601.00,295.41 L600.51,295.41 L600.01,295.41 L599.51,295.40 L599.02,295.40 L598.52,295.40 L598.02,295.40 L597.53,295.39 L597.03,295.39 L596.53,295.39 L596.04,295.39 L595.54,295.38 L595.04,295.38 L594.55,295.38 L594.05,295.37 L593.55,295.37 L593.06,295.37 L592.56,295.36 L592.07,295.36 L591.57,295.36 L591.07,295.35 L590.58,295.35 L590.08,295.35 L589.58,295.34 L589.09,295.34 L588.59,295.34 L588.09,295.33 L587.60,295.33 L587.10,295.32 L586.60,295.32 L586.11,295.32 L585.61,295.31 L585.11,295.31 L584.62,295.30 L584.12,295.30 L583.62,295.29 L583.13,295.29 L582.63,295.29 L582.14,295.28 L581.64,295.28 L581.14,295.27 L580.65,295.27 L580.15,295.26 L579.65,295.26 L579.16,295.25 L578.66,295.25 L578.16,295.24 L577.67,295.24 L577.17,295.23 L576.67,295.23 L576.18,295.23 L575.68,295.22 L575.18,295.22 L574.69,295.21 L574.19,295.21 L573.69,295.20 L573.20,295.19 L572.70,295.19 L572.21,295.18 L571.71,295.17 L571.21,295.16 L570.72,295.16 L570.22,295.15 L569.72,295.14 L569.23,295.13 L568.73,295.12 L568.23,295.12 L567.74,295.11 L567.24,295.11 L566.74,295.10 L566.25,295.10 L565.75,295.10 L565.25,295.12 L564.76,295.16 L564.26,295.23 L563.76,295.31 L563.27,295.40 L562.77,295.52 L562.28,295.70 L561.78,295.93 L561.28,296.20 L560.79,296.60 L560.29,297.16 L559.79,297.80 L559.30,298.60 L558.80,299.50 Z" fill="#7a1c1e" stroke="none"/>
<path d="M558.80,298.50 L559.30,297.72 L559.79,296.92 L560.29,296.16 L560.79,295.50 L561.28,294.94 L561.78,294.42 L562.28,293.97 L562.77,293.60 L563.27,293.27 L563.76,292.97 L564.26,292.73 L564.76,292.60 L565.25,292.53 L565.75,292.47 L566.25,292.42 L566.74,292.38 L567.24,292.34 L567.74,292.32 L568.23,292.31 L568.73,292.30 L569.23,292.30 L569.72,292.30 L570.22,292.31 L570.72,292.31 L571.21,292.32 L571.71,292.33 L572.21,292.34 L572.70,292.35 L573.20,292.36 L573.69,292.37 L574.19,292.39 L574.69,292.40 L575.18,292.42 L575.68,292.43 L576.18,292.46 L576.67,292.49 L577.17,292.52 L577.67,292.55 L578.16,292.59 L578.66,292.62 L579.16,292.66 L579.65,292.70 L580.15,292.74 L580.65,292.78 L581.14,292.82 L581.64,292.86 L582.14,292.90 L582.63,292.93 L583.13,292.97 L583.62,293.00 L584.12,293.03 L584.62,293.06 L585.11,293.09 L585.61,293.12 L586.11,293.15 L586.60,293.18 L587.10,293.21 L587.60,293.24 L588.09,293.27 L588.59,293.30 L589.09,293.33 L589.58,293.35 L590.08,293.38 L590.58,293.41 L591.07,293.44 L591.57,293.47 L592.07,293.49 L592.56,293.52 L593.06,293.55 L593.55,293.57 L594.05,293.60 L594.55,293.62 L595.04,293.65 L595.54,293.67 L596.04,293.69 L596.53,293.72 L597.03,293.74 L597.53,293.76 L598.02,293.78 L598.52,293.80 L599.02,293.82 L599.51,293.84 L600.01,293.86 L600.51,293.88 L601.00,293.90 L601.50,293.91 L602.00,293.93 L602.49,293.95 L602.99,293.97 L603.48,293.99 L603.98,294.01 L604.48,294.02 L604.97,294.04 L605.47,294.06 L605.97,294.08 L606.46,294.09 L606.96,294.11 L607.46,294.13 L607.95,294.14 L608.45,294.16 L608.95,294.17 L609.44,294.19 L609.94,294.20 L610.44,294.22 L610.93,294.23 L611.43,294.25 L611.93,294.26 L612.42,294.27 L612.92,294.29 L613.41,294.30 L613.91,294.31 L614.41,294.32 L614.90,294.33 L615.40,294.34 L615.90,294.35 L616.39,294.36 L616.89,294.37 L617.39,294.38 L617.88,294.39 L618.38,294.40 L618.88,294.41 L619.37,294.42 L619.87,294.42 L620.37,294.43 L620.86,294.44 L621.36,294.45 L621.86,294.45 L622.35,294.46 L622.85,294.47 L623.34,294.47 L623.84,294.48 L624.34,294.49 L624.83,294.49 L625.33,294.50 L625.83,294.50 L626.32,294.51 L626.82,294.52 L627.32,294.52 L627.81,294.53 L628.31,294.53 L628.81,294.54 L629.30,294.54 L629.80,294.55 L630.30,294.55 L630.79,294.56 L631.29,294.56 L631.79,294.57 L632.28,294.57 L632.78,294.58 L633.27,294.58 L633.77,294.59 L634.27,294.59 L634.76,294.60 L635.26,294.60 L635.76,294.61 L636.25,294.61 L636.75,294.62 L637.25,294.62 L637.74,294.63 L638.24,294.63 L638.74,294.63 L639.23,294.64 L639.73,294.64 L640.23,294.65 L640.72,294.65 L641.22,294.65 L641.72,294.66 L642.21,294.66 L642.71,294.67 L643.20,294.67 L643.70,294.67 L644.20,294.68 L644.69,294.68 L645.19,294.69 L645.69,294.69 L646.18,294.69 L646.68,294.70 L647.18,294.70 L647.67,294.71 L648.17,294.71 L648.67,294.72 L649.16,294.72 L649.66,294.72 L650.16,294.73 L650.65,294.73 L651.15,294.74 L651.65,294.74 L652.14,294.74 L652.64,294.75 L653.13,294.75 L653.63,294.76 L654.13,294.76 L654.62,294.77 L655.12,294.77 L655.62,294.78 L656.11,294.78 L656.61,294.79 L657.11,294.79 L657.60,294.80 L658.10,294.80" fill="none" stroke="#231f20" stroke-width="0.5"/>
<path d="M558.80,299.50 L559.30,298.60 L559.79,297.80 L560.29,297.16 L560.79,296.60 L561.28,296.20 L561.78,295.93 L562.28,295.70 L562.77,295.52 L563.27,295.40 L563.76,295.31 L564.26,295.23 L564.76,295.16 L565.25,295.12 L565.75,295.10 L566.25,295.10 L566.74,295.10 L567.24,295.11 L567.74,295.11 L568.23,295.12 L568.73,295.12 L569.23,295.13 L569.72,295.14 L570.22,295.15 L570.72,295.16 L571.21,295.16 L571.71,295.17 L572.21,295.18 L572.70,295.19 L573.20,295.19 L573.69,295.20 L574.19,295.21 L574.69,295.21 L575.18,295.22 L575.68,295.22 L576.18,295.23 L576.67,295.23 L577.17,295.23 L577.67,295.24 L578.16,295.24 L578.66,295.25 L579.16,295.25 L579.65,295.26 L580.15,295.26 L580.65,295.27 L581.14,295.27 L581.64,295.28 L582.14,295.28 L582.63,295.29 L583.13,295.29 L583.62,295.29 L584.12,295.30 L584.62,295.30 L585.11,295.31 L585.61,295.31 L586.11,295.32 L586.60,295.32 L587.10,295.32 L587.60,295.33 L588.09,295.33 L588.59,295.34 L589.09,295.34 L589.58,295.34 L590.08,295.35 L590.58,295.35 L591.07,295.35 L591.57,295.36 L592.07,295.36 L592.56,295.36 L593.06,295.37 L593.55,295.37 L594.05,295.37 L594.55,295.38 L595.04,295.38 L595.54,295.38 L596.04,295.39 L596.53,295.39 L597.03,295.39 L597.53,295.39 L598.02,295.40 L598.52,295.40 L599.02,295.40 L599.51,295.40 L600.01,295.41 L600.51,295.41 L601.00,295.41 L601.50,295.41 L602.00,295.42 L602.49,295.42 L602.99,295.42 L603.48,295.42 L603.98,295.43 L604.48,295.43 L604.97,295.43 L605.47,295.43 L605.97,295.43 L606.46,295.44 L606.96,295.44 L607.46,295.44 L607.95,295.44 L608.45,295.44 L608.95,295.45 L609.44,295.45 L609.94,295.45 L610.44,295.45 L610.93,295.45 L611.43,295.46 L611.93,295.46 L612.42,295.46 L612.92,295.46 L613.41,295.46 L613.91,295.47 L614.41,295.47 L614.90,295.47 L615.40,295.47 L615.90,295.47 L616.39,295.47 L616.89,295.48 L617.39,295.48 L617.88,295.48 L618.38,295.48 L618.88,295.48 L619.37,295.48 L619.87,295.49 L620.37,295.49 L620.86,295.49 L621.36,295.49 L621.86,295.49 L622.35,295.49 L622.85,295.50 L623.34,295.50 L623.84,295.50 L624.34,295.50 L624.83,295.50 L625.33,295.50 L625.83,295.51 L626.32,295.51 L626.82,295.51 L627.32,295.51 L627.81,295.51 L628.31,295.51 L628.81,295.51 L629.30,295.52 L629.80,295.52 L630.30,295.52 L630.79,295.52 L631.29,295.52 L631.79,295.52 L632.28,295.52 L632.78,295.53 L633.27,295.53 L633.77,295.53 L634.27,295.53 L634.76,295.53 L635.26,295.53 L635.76,295.53 L636.25,295.54 L636.75,295.54 L637.25,295.54 L637.74,295.54 L638.24,295.54 L638.74,295.54 L639.23,295.54 L639.73,295.54 L640.23,295.55 L640.72,295.55 L641.22,295.55 L641.72,295.55 L642.21,295.55 L642.71,295.55 L643.20,295.55 L643.70,295.56 L644.20,295.56 L644.69,295.56 L645.19,295.56 L645.69,295.56 L646.18,295.56 L646.68,295.56 L647.18,295.57 L647.67,295.57 L648.17,295.57 L648.67,295.57 L649.16,295.57 L649.66,295.57 L650.16,295.57 L650.65,295.58 L651.15,295.58 L651.65,295.58 L652.14,295.58 L652.64,295.58 L653.13,295.58 L653.63,295.59 L654.13,295.59 L654.62,295.59 L655.12,295.59 L655.62,295.59 L656.11,295.59 L656.61,295.60 L657.11,295.60 L657.60,295.60 L658.10,295.60 L658.10,303.60 L657.60,303.60 L657.11,303.60 L656.61,303.60 L656.11,303.60 L655.62,303.60 L655.12,303.60 L654.62,303.60 L654.13,303.60 L653.63,303.60 L653.13,303.60 L652.64,303.60 L652.14,303.60 L651.65,303.60 L651.15,303.60 L650.65,303.60 L650.16,303.60 L649.66,303.60 L649.16,303.60 L648.67,303.60 L648.17,303.60 L647.67,303.60 L647.18,303.60 L646.68,303.60 L646.18,303.60 L645.69,303.60 L645.19,303.60 L644.69,303.60 L644.20,303.60 L643.70,303.60 L643.20,303.60 L642.71,303.60 L642.21,303.60 L641.72,303.60 L641.22,303.60 L640.72,303.60 L640.23,303.60 L639.73,303.60 L639.23,303.60 L638.74,303.60 L638.24,303.60 L637.74,303.60 L637.25,303.60 L636.75,303.60 L636.25,303.60 L635.76,303.60 L635.26,303.60 L634.76,303.60 L634.27,303.60 L633.77,303.60 L633.27,303.60 L632.78,303.60 L632.28,303.60 L631.79,303.60 L631.29,303.60 L630.79,303.60 L630.30,303.60 L629.80,303.60 L629.30,303.60 L628.81,303.60 L628.31,303.60 L627.81,303.60 L627.32,303.60 L626.82,303.60 L626.32,303.60 L625.83,303.60 L625.33,303.60 L624.83,303.60 L624.34,303.60 L623.84,303.60 L623.34,303.60 L622.85,303.60 L622.35,303.60 L621.86,303.60 L621.36,303.60 L620.86,303.60 L620.37,303.60 L619.87,303.60 L619.37,303.60 L618.88,303.60 L618.38,303.60 L617.88,303.60 L617.39,303.60 L616.89,303.60 L616.39,303.60 L615.90,303.60 L615.40,303.60 L614.90,303.60 L614.41,303.60 L613.91,303.60 L613.41,303.60 L612.92,303.60 L612.42,303.60 L611.93,303.60 L611.43,303.60 L610.93,303.60 L610.44,303.60 L609.94,303.60 L609.44,303.60 L608.95,303.60 L608.45,303.60 L607.95,303.60 L607.46,303.60 L606.96,303.60 L606.46,303.60 L605.97,303.60 L605.47,303.60 L604.97,303.60 L604.48,303.60 L603.98,303.60 L603.48,303.60 L602.99,303.60 L602.49,303.60 L602.00,303.60 L601.50,303.60 L601.00,303.60 L600.51,303.60 L600.01,303.60 L599.51,303.60 L599.02,303.60 L598.52,303.60 L598.02,303.60 L597.53,303.60 L597.03,303.60 L596.53,303.60 L596.04,303.60 L595.54,303.60 L595.04,303.60 L594.55,303.60 L594.05,303.60 L593.55,303.60 L593.06,303.60 L592.56,303.60 L592.07,303.60 L591.57,303.60 L591.07,303.60 L590.58,303.60 L590.08,303.60 L589.58,303.60 L589.09,303.60 L588.59,303.60 L588.09,303.60 L587.60,303.60 L587.10,303.60 L586.60,303.60 L586.11,303.60 L585.61,303.60 L585.11,303.60 L584.62,303.60 L584.12,303.60 L583.62,303.60 L583.13,303.60 L582.63,303.60 L582.14,303.60 L581.64,303.60 L581.14,303.60 L580.65,303.60 L580.15,303.60 L579.65,303.60 L579.16,303.60 L578.66,303.60 L578.16,303.60 L577.67,303.60 L577.17,303.60 L576.67,303.60 L576.18,303.60 L575.68,303.59 L575.18,303.59 L574.69,303.59 L574.19,303.59 L573.69,303.59 L573.20,303.59 L572.70,303.58 L572.21,303.58 L571.71,303.57 L571.21,303.57 L570.72,303.56 L570.22,303.55 L569.72,303.54 L569.23,303.53 L568.73,303.52 L568.23,303.50 L567.74,303.48 L567.24,303.45 L566.74,303.42 L566.25,303.37 L565.75,303.32 L565.25,303.26 L564.76,303.19 L564.26,303.10 L563.76,302.99 L563.27,302.85 L562.77,302.68 L562.28,302.48 L561.78,302.23 L561.28,301.93 L560.79,301.56 L560.29,301.11 L559.79,300.56 L559.30,299.89 L558.80,299.06 Z" fill="#f8a42a" stroke="none"/>
<path d="M558.80,299.50 L559.30,298.60 L559.79,297.80 L560.29,297.16 L560.79,296.60 L561.28,296.20 L561.78,295.93 L562.28,295.70 L562.77,295.52 L563.27,295.40 L563.76,295.31 L564.26,295.23 L564.76,295.16 L565.25,295.12 L565.75,295.10 L566.25,295.10 L566.74,295.10 L567.24,295.11 L567.74,295.11 L568.23,295.12 L568.73,295.12 L569.23,295.13 L569.72,295.14 L570.22,295.15 L570.72,295.16 L571.21,295.16 L571.71,295.17 L572.21,295.18 L572.70,295.19 L573.20,295.19 L573.69,295.20 L574.19,295.21 L574.69,295.21 L575.18,295.22 L575.68,295.22 L576.18,295.23 L576.67,295.23 L577.17,295.23 L577.67,295.24 L578.16,295.24 L578.66,295.25 L579.16,295.25 L579.65,295.26 L580.15,295.26 L580.65,295.27 L581.14,295.27 L581.64,295.28 L582.14,295.28 L582.63,295.29 L583.13,295.29 L583.62,295.29 L584.12,295.30 L584.62,295.30 L585.11,295.31 L585.61,295.31 L586.11,295.32 L586.60,295.32 L587.10,295.32 L587.60,295.33 L588.09,295.33 L588.59,295.34 L589.09,295.34 L589.58,295.34 L590.08,295.35 L590.58,295.35 L591.07,295.35 L591.57,295.36 L592.07,295.36 L592.56,295.36 L593.06,295.37 L593.55,295.37 L594.05,295.37 L594.55,295.38 L595.04,295.38 L595.54,295.38 L596.04,295.39 L596.53,295.39 L597.03,295.39 L597.53,295.39 L598.02,295.40 L598.52,295.40 L599.02,295.40 L599.51,295.40 L600.01,295.41 L600.51,295.41 L601.00,295.41 L601.50,295.41 L602.00,295.42 L602.49,295.42 L602.99,295.42 L603.48,295.42 L603.98,295.43 L604.48,295.43 L604.97,295.43 L605.47,295.43 L605.97,295.43 L606.46,295.44 L606.96,295.44 L607.46,295.44 L607.95,295.44 L608.45,295.44 L608.95,295.45 L609.44,295.45 L609.94,295.45 L610.44,295.45 L610.93,295.45 L611.43,295.46 L611.93,295.46 L612.42,295.46 L612.92,295.46 L613.41,295.46 L613.91,295.47 L614.41,295.47 L614.90,295.47 L615.40,295.47 L615.90,295.47 L616.39,295.47 L616.89,295.48 L617.39,295.48 L617.88,295.48 L618.38,295.48 L618.88,295.48 L619.37,295.48 L619.87,295.49 L620.37,295.49 L620.86,295.49 L621.36,295.49 L621.86,295.49 L622.35,295.49 L622.85,295.50 L623.34,295.50 L623.84,295.50 L624.34,295.50 L624.83,295.50 L625.33,295.50 L625.83,295.51 L626.32,295.51 L626.82,295.51 L627.32,295.51 L627.81,295.51 L628.31,295.51 L628.81,295.51 L629.30,295.52 L629.80,295.52 L630.30,295.52 L630.79,295.52 L631.29,295.52 L631.79,295.52 L632.28,295.52 L632.78,295.53 L633.27,295.53 L633.77,295.53 L634.27,295.53 L634.76,295.53 L635.26,295.53 L635.76,295.53 L636.25,295.54 L636.75,295.54 L637.25,295.54 L637.74,295.54 L638.24,295.54 L638.74,295.54 L639.23,295.54 L639.73,295.54 L640.23,295.55 L640.72,295.55 L641.22,295.55 L641.72,295.55 L642.21,295.55 L642.71,295.55 L643.20,295.55 L643.70,295.56 L644.20,295.56 L644.69,295.56 L645.19,295.56 L645.69,295.56 L646.18,295.56 L646.68,295.56 L647.18,295.57 L647.67,295.57 L648.17,295.57 L648.67,295.57 L649.16,295.57 L649.66,295.57 L650.16,295.57 L650.65,295.58 L651.15,295.58 L651.65,295.58 L652.14,295.58 L652.64,295.58 L653.13,295.58 L653.63,295.59 L654.13,295.59 L654.62,295.59 L655.12,295.59 L655.62,295.59 L656.11,295.59 L656.61,295.60 L657.11,295.60 L657.60,295.60 L658.10,295.60" fill="none" stroke="#231f20" stroke-width="0.6"/>
<path d="M558.80,299.06 L559.30,299.89 L559.79,300.56 L560.29,301.11 L560.79,301.56 L561.28,301.93 L561.78,302.23 L562.28,302.48 L562.77,302.68 L563.27,302.85 L563.76,302.99 L564.26,303.10 L564.76,303.19 L565.25,303.26 L565.75,303.32 L566.25,303.37 L566.74,303.42 L567.24,303.45 L567.74,303.48 L568.23,303.50 L568.73,303.52 L569.23,303.53 L569.72,303.54 L570.22,303.55 L570.72,303.56 L571.21,303.57 L571.71,303.57 L572.21,303.58 L572.70,303.58 L573.20,303.59 L573.69,303.59 L574.19,303.59 L574.69,303.59 L575.18,303.59 L575.68,303.59 L576.18,303.60 L576.67,303.60 L577.17,303.60 L577.67,303.60 L578.16,303.60 L578.66,303.60 L579.16,303.60 L579.65,303.60 L580.15,303.60 L580.65,303.60 L581.14,303.60 L581.64,303.60 L582.14,303.60 L582.63,303.60 L583.13,303.60 L583.62,303.60 L584.12,303.60 L584.62,303.60 L585.11,303.60 L585.61,303.60 L586.11,303.60 L586.60,303.60 L587.10,303.60 L587.60,303.60 L588.09,303.60 L588.59,303.60 L589.09,303.60 L589.58,303.60 L590.08,303.60 L590.58,303.60 L591.07,303.60 L591.57,303.60 L592.07,303.60 L592.56,303.60 L593.06,303.60 L593.55,303.60 L594.05,303.60 L594.55,303.60 L595.04,303.60 L595.54,303.60 L596.04,303.60 L596.53,303.60 L597.03,303.60 L597.53,303.60 L598.02,303.60 L598.52,303.60 L599.02,303.60 L599.51,303.60 L600.01,303.60 L600.51,303.60 L601.00,303.60 L601.50,303.60 L602.00,303.60 L602.49,303.60 L602.99,303.60 L603.48,303.60 L603.98,303.60 L604.48,303.60 L604.97,303.60 L605.47,303.60 L605.97,303.60 L606.46,303.60 L606.96,303.60 L607.46,303.60 L607.95,303.60 L608.45,303.60 L608.95,303.60 L609.44,303.60 L609.94,303.60 L610.44,303.60 L610.93,303.60 L611.43,303.60 L611.93,303.60 L612.42,303.60 L612.92,303.60 L613.41,303.60 L613.91,303.60 L614.41,303.60 L614.90,303.60 L615.40,303.60 L615.90,303.60 L616.39,303.60 L616.89,303.60 L617.39,303.60 L617.88,303.60 L618.38,303.60 L618.88,303.60 L619.37,303.60 L619.87,303.60 L620.37,303.60 L620.86,303.60 L621.36,303.60 L621.86,303.60 L622.35,303.60 L622.85,303.60 L623.34,303.60 L623.84,303.60 L624.34,303.60 L624.83,303.60 L625.33,303.60 L625.83,303.60 L626.32,303.60 L626.82,303.60 L627.32,303.60 L627.81,303.60 L628.31,303.60 L628.81,303.60 L629.30,303.60 L629.80,303.60 L630.30,303.60 L630.79,303.60 L631.29,303.60 L631.79,303.60 L632.28,303.60 L632.78,303.60 L633.27,303.60 L633.77,303.60 L634.27,303.60 L634.76,303.60 L635.26,303.60 L635.76,303.60 L636.25,303.60 L636.75,303.60 L637.25,303.60 L637.74,303.60 L638.24,303.60 L638.74,303.60 L639.23,303.60 L639.73,303.60 L640.23,303.60 L640.72,303.60 L641.22,303.60 L641.72,303.60 L642.21,303.60 L642.71,303.60 L643.20,303.60 L643.70,303.60 L644.20,303.60 L644.69,303.60 L645.19,303.60 L645.69,303.60 L646.18,303.60 L646.68,303.60 L647.18,303.60 L647.67,303.60 L648.17,303.60 L648.67,303.60 L649.16,303.60 L649.66,303.60 L650.16,303.60 L650.65,303.60 L651.15,303.60 L651.65,303.60 L652.14,303.60 L652.64,303.60 L653.13,303.60 L653.63,303.60 L654.13,303.60 L654.62,303.60 L655.12,303.60 L655.62,303.60 L656.11,303.60 L656.61,303.60 L657.11,303.60 L657.60,303.60 L658.10,303.60 L658.10,303.60 L657.60,303.60 L657.11,303.60 L656.61,303.60 L656.11,303.60 L655.62,303.60 L655.12,303.60 L654.62,303.60 L654.13,303.60 L653.63,303.60 L653.13,303.60 L652.64,303.60 L652.14,303.60 L651.65,303.60 L651.15,303.60 L650.65,303.60 L650.16,303.60 L649.66,303.60 L649.16,303.60 L648.67,303.60 L648.17,303.60 L647.67,303.60 L647.18,303.60 L646.68,303.60 L646.18,303.60 L645.69,303.60 L645.19,303.60 L644.69,303.60 L644.20,303.60 L643.70,303.60 L643.20,303.60 L642.71,303.60 L642.21,303.60 L641.72,303.60 L641.22,303.60 L640.72,303.60 L640.23,303.60 L639.73,303.60 L639.23,303.60 L638.74,303.60 L638.24,303.60 L637.74,303.60 L637.25,303.60 L636.75,303.60 L636.25,303.60 L635.76,303.60 L635.26,303.60 L634.76,303.60 L634.27,303.60 L633.77,303.60 L633.27,303.60 L632.78,303.60 L632.28,303.60 L631.79,303.60 L631.29,303.60 L630.79,303.60 L630.30,303.60 L629.80,303.60 L629.30,303.60 L628.81,303.60 L628.31,303.60 L627.81,303.60 L627.32,303.60 L626.82,303.60 L626.32,303.60 L625.83,303.60 L625.33,303.60 L624.83,303.60 L624.34,303.60 L623.84,303.60 L623.34,303.60 L622.85,303.60 L622.35,303.60 L621.86,303.60 L621.36,303.60 L620.86,303.60 L620.37,303.60 L619.87,303.60 L619.37,303.60 L618.88,303.60 L618.38,303.60 L617.88,303.60 L617.39,303.60 L616.89,303.60 L616.39,303.60 L615.90,303.60 L615.40,303.60 L614.90,303.60 L614.41,303.60 L613.91,303.60 L613.41,303.60 L612.92,303.60 L612.42,303.60 L611.93,303.60 L611.43,303.60 L610.93,303.60 L610.44,303.60 L609.94,303.60 L609.44,303.60 L608.95,303.60 L608.45,303.60 L607.95,303.60 L607.46,303.60 L606.96,303.60 L606.46,303.60 L605.97,303.60 L605.47,303.60 L604.97,303.60 L604.48,303.60 L603.98,303.60 L603.48,303.60 L602.99,303.60 L602.49,303.60 L602.00,303.60 L601.50,303.60 L601.00,303.60 L600.51,303.60 L600.01,303.60 L599.51,303.60 L599.02,303.60 L598.52,303.60 L598.02,303.60 L597.53,303.60 L597.03,303.60 L596.53,303.60 L596.04,303.60 L595.54,303.60 L595.04,303.60 L594.55,303.60 L594.05,303.60 L593.55,303.60 L593.06,303.60 L592.56,303.60 L592.07,303.60 L591.57,303.60 L591.07,303.60 L590.58,303.60 L590.08,303.60 L589.58,303.60 L589.09,303.60 L588.59,303.60 L588.09,303.60 L587.60,303.60 L587.10,303.60 L586.60,303.60 L586.11,303.60 L585.61,303.60 L585.11,303.60 L584.62,303.60 L584.12,303.60 L583.62,303.60 L583.13,303.60 L582.63,303.60 L582.14,303.60 L581.64,303.60 L581.14,303.60 L580.65,303.60 L580.15,303.60 L579.65,303.60 L579.16,303.60 L578.66,303.60 L578.16,303.60 L577.67,303.60 L577.17,303.60 L576.67,303.60 L576.18,303.60 L575.68,303.60 L575.18,303.60 L574.69,303.60 L574.19,303.60 L573.69,303.60 L573.20,303.60 L572.70,303.60 L572.21,303.60 L571.71,303.60 L571.21,303.60 L570.72,303.60 L570.22,303.60 L569.72,303.60 L569.23,303.60 L568.73,303.60 L568.23,303.60 L567.74,303.60 L567.24,303.60 L566.74,303.60 L566.25,303.60 L565.75,303.60 L565.25,303.60 L564.76,303.60 L564.26,303.60 L563.76,303.60 L563.27,303.60 L562.77,303.60 L562.28,303.60 L561.78,303.60 L561.28,303.60 L560.79,303.60 L560.29,303.60 L559.79,303.60 L559.30,303.60 L558.80,303.60 Z" fill="#8b5a2b" stroke="none"/>
<path d="M558.80,299.06 L559.30,299.89 L559.79,300.56 L560.29,301.11 L560.79,301.56 L561.28,301.93 L561.78,302.23 L562.28,302.48 L562.77,302.68 L563.27,302.85 L563.76,302.99 L564.26,303.10 L564.76,303.19 L565.25,303.26 L565.75,303.32 L566.25,303.37 L566.74,303.42 L567.24,303.45 L567.74,303.48 L568.23,303.50 L568.73,303.52 L569.23,303.53 L569.72,303.54 L570.22,303.55 L570.72,303.56 L571.21,303.57 L571.71,303.57 L572.21,303.58 L572.70,303.58 L573.20,303.59 L573.69,303.59 L574.19,303.59 L574.69,303.59 L575.18,303.59 L575.68,303.59 L576.18,303.60 L576.67,303.60 L577.17,303.60 L577.67,303.60 L578.16,303.60 L578.66,303.60 L579.16,303.60 L579.65,303.60 L580.15,303.60 L580.65,303.60 L581.14,303.60 L581.64,303.60 L582.14,303.60 L582.63,303.60 L583.13,303.60 L583.62,303.60 L584.12,303.60 L584.62,303.60 L585.11,303.60 L585.61,303.60 L586.11,303.60 L586.60,303.60 L587.10,303.60 L587.60,303.60 L588.09,303.60 L588.59,303.60 L589.09,303.60 L589.58,303.60 L590.08,303.60 L590.58,303.60 L591.07,303.60 L591.57,303.60 L592.07,303.60 L592.56,303.60 L593.06,303.60 L593.55,303.60 L594.05,303.60 L594.55,303.60 L595.04,303.60 L595.54,303.60 L596.04,303.60 L596.53,303.60 L597.03,303.60 L597.53,303.60 L598.02,303.60 L598.52,303.60 L599.02,303.60 L599.51,303.60 L600.01,303.60 L600.51,303.60 L601.00,303.60 L601.50,303.60 L602.00,303.60 L602.49,303.60 L602.99,303.60 L603.48,303.60 L603.98,303.60 L604.48,303.60 L604.97,303.60 L605.47,303.60 L605.97,303.60 L606.46,303.60 L606.96,303.60 L607.46,303.60 L607.95,303.60 L608.45,303.60 L608.95,303.60 L609.44,303.60 L609.94,303.60 L610.44,303.60 L610.93,303.60 L611.43,303.60 L611.93,303.60 L612.42,303.60 L612.92,303.60 L613.41,303.60 L613.91,303.60 L614.41,303.60 L614.90,303.60 L615.40,303.60 L615.90,303.60 L616.39,303.60 L616.89,303.60 L617.39,303.60 L617.88,303.60 L618.38,303.60 L618.88,303.60 L619.37,303.60 L619.87,303.60 L620.37,303.60 L620.86,303.60 L621.36,303.60 L621.86,303.60 L622.35,303.60 L622.85,303.60 L623.34,303.60 L623.84,303.60 L624.34,303.60 L624.83,303.60 L625.33,303.60 L625.83,303.60 L626.32,303.60 L626.82,303.60 L627.32,303.60 L627.81,303.60 L628.31,303.60 L628.81,303.60 L629.30,303.60 L629.80,303.60 L630.30,303.60 L630.79,303.60 L631.29,303.60 L631.79,303.60 L632.28,303.60 L632.78,303.60 L633.27,303.60 L633.77,303.60 L634.27,303.60 L634.76,303.60 L635.26,303.60 L635.76,303.60 L636.25,303.60 L636.75,303.60 L637.25,303.60 L637.74,303.60 L638.24,303.60 L638.74,303.60 L639.23,303.60 L639.73,303.60 L640.23,303.60 L640.72,303.60 L641.22,303.60 L641.72,303.60 L642.21,303.60 L642.71,303.60 L643.20,303.60 L643.70,303.60 L644.20,303.60 L644.69,303.60 L645.19,303.60 L645.69,303.60 L646.18,303.60 L646.68,303.60 L647.18,303.60 L647.67,303.60 L648.17,303.60 L648.67,303.60 L649.16,303.60 L649.66,303.60 L650.16,303.60 L650.65,303.60 L651.15,303.60 L651.65,303.60 L652.14,303.60 L652.64,303.60 L653.13,303.60 L653.63,303.60 L654.13,303.60 L654.62,303.60 L655.12,303.60 L655.62,303.60 L656.11,303.60 L656.61,303.60 L657.11,303.60 L657.60,303.60 L658.10,303.60" fill="none" stroke="#231f20" stroke-width="0.5"/>
<line x1="658.0999999999999" y1="236.8" x2="658.0999999999999" y2="303.6" stroke="#231f20" stroke-width="0.7"/>
<rect x="319.5" y="198.0" width="105.5" height="105.6" fill="none" stroke="#7a7b7e" stroke-width="1.0"/>
<line x1="319.5" y1="284.7" x2="321.3" y2="284.7" stroke="#6d6e71" stroke-width="0.6"/>
<line x1="425.0" y1="284.7" x2="423.2" y2="284.7" stroke="#6d6e71" stroke-width="0.6"/>
<line x1="319.5" y1="265.8" x2="321.3" y2="265.8" stroke="#6d6e71" stroke-width="0.6"/>
<line x1="425.0" y1="265.8" x2="423.2" y2="265.8" stroke="#6d6e71" stroke-width="0.6"/>
<line x1="319.5" y1="246.9" x2="321.3" y2="246.9" stroke="#6d6e71" stroke-width="0.6"/>
<line x1="425.0" y1="246.9" x2="423.2" y2="246.9" stroke="#6d6e71" stroke-width="0.6"/>
<line x1="319.5" y1="228.0" x2="321.3" y2="228.0" stroke="#6d6e71" stroke-width="0.6"/>
<line x1="425.0" y1="228.0" x2="423.2" y2="228.0" stroke="#6d6e71" stroke-width="0.6"/>
<line x1="319.5" y1="209.1" x2="321.3" y2="209.1" stroke="#6d6e71" stroke-width="0.6"/>
<line x1="425.0" y1="209.1" x2="423.2" y2="209.1" stroke="#6d6e71" stroke-width="0.6"/>
<line x1="369.1" y1="198" x2="369.1" y2="199.8" stroke="#6d6e71" stroke-width="0.6"/>
<line x1="418.8" y1="198" x2="418.8" y2="199.8" stroke="#6d6e71" stroke-width="0.6"/>
<text x="370.8" y="193.9" font-size="11.5" fill="#231f20" text-anchor="middle" >delayed</text>
<text transform="translate(325.40,213.80) scale(1.2,1)" font-size="11.5" font-style="italic" fill="#231f20">α</text>
<text x="332.70" y="216.80" font-size="8.6" font-style="italic" fill="#231f20">P</text>
<text x="337.20" y="213.80" font-size="11.5" fill="#231f20" style="white-space:pre"> = <tspan dx="0">0.4</tspan></text>
<text x="369.15" y="315.4" font-size="11.5" fill="#231f20" text-anchor="middle" >500</text>
<text x="418.8" y="315.4" font-size="11.5" fill="#231f20" text-anchor="middle" >1000</text>
<rect x="439.7" y="198.0" width="105.5" height="105.6" fill="none" stroke="#7a7b7e" stroke-width="1.0"/>
<line x1="439.7" y1="284.7" x2="441.5" y2="284.7" stroke="#6d6e71" stroke-width="0.6"/>
<line x1="545.2" y1="284.7" x2="543.4000000000001" y2="284.7" stroke="#6d6e71" stroke-width="0.6"/>
<line x1="439.7" y1="265.8" x2="441.5" y2="265.8" stroke="#6d6e71" stroke-width="0.6"/>
<line x1="545.2" y1="265.8" x2="543.4000000000001" y2="265.8" stroke="#6d6e71" stroke-width="0.6"/>
<line x1="439.7" y1="246.9" x2="441.5" y2="246.9" stroke="#6d6e71" stroke-width="0.6"/>
<line x1="545.2" y1="246.9" x2="543.4000000000001" y2="246.9" stroke="#6d6e71" stroke-width="0.6"/>
<line x1="439.7" y1="228.0" x2="441.5" y2="228.0" stroke="#6d6e71" stroke-width="0.6"/>
<line x1="545.2" y1="228.0" x2="543.4000000000001" y2="228.0" stroke="#6d6e71" stroke-width="0.6"/>
<line x1="439.7" y1="209.1" x2="441.5" y2="209.1" stroke="#6d6e71" stroke-width="0.6"/>
<line x1="545.2" y1="209.1" x2="543.4000000000001" y2="209.1" stroke="#6d6e71" stroke-width="0.6"/>
<line x1="489.3" y1="198" x2="489.3" y2="199.8" stroke="#6d6e71" stroke-width="0.6"/>
<line x1="539.0" y1="198" x2="539.0" y2="199.8" stroke="#6d6e71" stroke-width="0.6"/>
<text x="490.3" y="193.9" font-size="11.5" fill="#231f20" text-anchor="middle" >wildtype</text>
<text transform="translate(446.90,213.80) scale(1.2,1)" font-size="11.5" font-style="italic" fill="#231f20">α</text>
<text x="454.20" y="216.80" font-size="8.6" font-style="italic" fill="#231f20">P</text>
<text x="458.70" y="213.80" font-size="11.5" fill="#231f20" style="white-space:pre"> = <tspan dx="2.5">1</tspan></text>
<text x="440.59999999999997" y="315.4" font-size="11.5" fill="#231f20" text-anchor="middle" >0</text>
<text x="489.34999999999997" y="315.4" font-size="11.5" fill="#231f20" text-anchor="middle" >500</text>
<text x="539.0" y="315.4" font-size="11.5" fill="#231f20" text-anchor="middle" >1000</text>
<rect x="558.8" y="198.0" width="105.5" height="105.6" fill="none" stroke="#7a7b7e" stroke-width="1.0"/>
<line x1="558.8" y1="284.7" x2="560.5999999999999" y2="284.7" stroke="#6d6e71" stroke-width="0.6"/>
<line x1="664.3" y1="284.7" x2="662.5" y2="284.7" stroke="#6d6e71" stroke-width="0.6"/>
<line x1="558.8" y1="265.8" x2="560.5999999999999" y2="265.8" stroke="#6d6e71" stroke-width="0.6"/>
<line x1="664.3" y1="265.8" x2="662.5" y2="265.8" stroke="#6d6e71" stroke-width="0.6"/>
<line x1="558.8" y1="246.9" x2="560.5999999999999" y2="246.9" stroke="#6d6e71" stroke-width="0.6"/>
<line x1="664.3" y1="246.9" x2="662.5" y2="246.9" stroke="#6d6e71" stroke-width="0.6"/>
<line x1="558.8" y1="228.0" x2="560.5999999999999" y2="228.0" stroke="#6d6e71" stroke-width="0.6"/>
<line x1="664.3" y1="228.0" x2="662.5" y2="228.0" stroke="#6d6e71" stroke-width="0.6"/>
<line x1="558.8" y1="209.1" x2="560.5999999999999" y2="209.1" stroke="#6d6e71" stroke-width="0.6"/>
<line x1="664.3" y1="209.1" x2="662.5" y2="209.1" stroke="#6d6e71" stroke-width="0.6"/>
<line x1="608.4" y1="198" x2="608.4" y2="199.8" stroke="#6d6e71" stroke-width="0.6"/>
<line x1="658.1" y1="198" x2="658.1" y2="199.8" stroke="#6d6e71" stroke-width="0.6"/>
<text x="602.1" y="193.9" font-size="11.5" fill="#231f20" text-anchor="middle" >accelerated</text>
<text transform="translate(564.20,213.80) scale(1.2,1)" font-size="11.5" font-style="italic" fill="#231f20">α</text>
<text x="571.50" y="216.80" font-size="8.6" font-style="italic" fill="#231f20">P</text>
<text x="576.00" y="213.80" font-size="11.5" fill="#231f20" style="white-space:pre"> = <tspan dx="1.0">10</tspan></text>
<text x="559.6999999999999" y="315.4" font-size="11.5" fill="#231f20" text-anchor="middle" >0</text>
<text x="608.4499999999999" y="315.4" font-size="11.5" fill="#231f20" text-anchor="middle" >500</text>
<text x="658.0999999999999" y="315.4" font-size="11.5" fill="#231f20" text-anchor="middle" >1000</text>
</g>
<g font-family='"Liberation Serif", serif'>
<text x="94.1" y="360.3" font-size="12.5" fill="#231f20">(</text>
<text x="102.9" y="360.3" font-size="12.5" fill="#231f20" font-style="italic" text-anchor="middle">f</text>
<text x="111.1" y="360.3" font-size="12.5" fill="#231f20" text-anchor="end">)</text>
<path d="M149.5,361.3 L149.5,449.9 L285.9,449.9" fill="none" stroke="#000" stroke-width="1.4"/>
<line x1="147.2" y1="446.7" x2="149.5" y2="446.7" stroke="#000" stroke-width="0.7"/>
<line x1="147.2" y1="432.0" x2="149.5" y2="432.0" stroke="#000" stroke-width="0.7"/>
<line x1="147.2" y1="417.2" x2="149.5" y2="417.2" stroke="#000" stroke-width="0.7"/>
<line x1="147.2" y1="402.5" x2="149.5" y2="402.5" stroke="#000" stroke-width="0.7"/>
<line x1="147.2" y1="387.7" x2="149.5" y2="387.7" stroke="#000" stroke-width="0.7"/>
<line x1="147.2" y1="373.0" x2="149.5" y2="373.0" stroke="#000" stroke-width="0.7"/>
<text x="145.3" y="450.59999999999997" font-size="11.5" fill="#231f20" text-anchor="end" >0</text>
<text x="145.3" y="421.11999999999995" font-size="11.5" fill="#231f20" text-anchor="end" >0.4</text>
<text x="145.3" y="391.64" font-size="11.5" fill="#231f20" text-anchor="end" >0.8</text>
<line x1="155.4" y1="450" x2="155.4" y2="452.5" stroke="#000" stroke-width="0.7"/>
<line x1="194.4" y1="450" x2="194.4" y2="452.5" stroke="#000" stroke-width="0.7"/>
<line x1="233.4" y1="450" x2="233.4" y2="452.5" stroke="#000" stroke-width="0.7"/>
<line x1="272.4" y1="450" x2="272.4" y2="452.5" stroke="#000" stroke-width="0.7"/>
<text x="155.4" y="466.6" font-size="11.5" fill="#231f20" text-anchor="middle" >10<tspan font-size="8.3" dy="-4.3">−4</tspan></text>
<text x="194.4" y="466.6" font-size="11.5" fill="#231f20" text-anchor="middle" >10<tspan font-size="8.3" dy="-4.3">−3</tspan></text>
<text x="233.4" y="466.6" font-size="11.5" fill="#231f20" text-anchor="middle" >10<tspan font-size="8.3" dy="-4.3">−2</tspan></text>
<text x="266.7" y="466.6" font-size="11.5" fill="#231f20" text-anchor="middle" >10<tspan font-size="8.3" dy="-4.3">−1</tspan></text>
<text x="210.2" y="480.6" font-size="11.5" fill="#231f20" text-anchor="middle" ><tspan font-style="italic">α</tspan><tspan font-size="8.8" font-style="italic" dy="3.4">A</tspan><tspan dy="-3.4"> (h</tspan><tspan font-size="8.3" dy="-4.3">−1</tspan><tspan dy="4.3">)</tspan></text>
<text x="0" y="0" font-size="11.5" fill="#231f20" text-anchor="middle" transform="translate(105.0,409.7) rotate(-90)">anterior</text>
<text x="0" y="0" font-size="11.5" fill="#231f20" text-anchor="middle" transform="translate(119.6,408.8) rotate(-90)">cell fraction</text>
<g stroke="#1f77b4" stroke-width="1.0" opacity="0.7"><line x1="240.6" y1="395.4" x2="256.6" y2="395.4"/><line x1="240.6" y1="397.4" x2="256.6" y2="397.4"/><line x1="248.6" y1="395.4" x2="248.6" y2="397.4"/></g>
<g stroke="#1f77b4" stroke-width="1.0" opacity="0.7"><line x1="271.8" y1="372.2" x2="287.8" y2="372.2"/><line x1="271.8" y1="374.4" x2="287.8" y2="374.4"/><line x1="279.8" y1="372.2" x2="279.8" y2="374.4"/></g>
<polyline points="155.4,446.7 186.6,446.7 217.6,446.7 248.6,396.4 279.8,373.3" fill="none" stroke="#1f77b4" stroke-width="1.5" stroke-linejoin="round"/>
<circle cx="155.4" cy="446.7" r="3.4" fill="#1f77b4"/>
<circle cx="186.6" cy="446.7" r="3.4" fill="#1f77b4"/>
<circle cx="217.6" cy="446.7" r="3.4" fill="#1f77b4"/>
<circle cx="248.6" cy="396.4" r="3.4" fill="#1f77b4"/>
<circle cx="279.8" cy="373.3" r="3.4" fill="#1f77b4"/>
<g stroke="#ff7f0e" stroke-width="1.0" opacity="0.7"><line x1="147.4" y1="446.1" x2="163.4" y2="446.1"/><line x1="147.4" y1="447.3" x2="163.4" y2="447.3"/><line x1="155.4" y1="446.1" x2="155.4" y2="447.3"/></g>
<g stroke="#ff7f0e" stroke-width="1.0" opacity="0.7"><line x1="178.6" y1="446.1" x2="194.6" y2="446.1"/><line x1="178.6" y1="447.3" x2="194.6" y2="447.3"/><line x1="186.6" y1="446.1" x2="186.6" y2="447.3"/></g>
<g stroke="#ff7f0e" stroke-width="1.0" opacity="0.7"><line x1="209.6" y1="446.1" x2="225.6" y2="446.1"/><line x1="209.6" y1="447.3" x2="225.6" y2="447.3"/><line x1="217.6" y1="446.1" x2="217.6" y2="447.3"/></g>
<g stroke="#ff7f0e" stroke-width="1.0" opacity="0.7"><line x1="240.6" y1="394.9" x2="256.6" y2="394.9"/><line x1="240.6" y1="397.9" x2="256.6" y2="397.9"/><line x1="248.6" y1="394.9" x2="248.6" y2="397.9"/></g>
<g stroke="#ff7f0e" stroke-width="1.0" opacity="0.7"><line x1="271.8" y1="370.7" x2="287.8" y2="370.7"/><line x1="271.8" y1="375.9" x2="287.8" y2="375.9"/><line x1="279.8" y1="370.7" x2="279.8" y2="375.9"/></g>
<polyline points="155.4,446.7 186.6,446.7 217.6,446.7 248.6,396.4 279.8,373.3" fill="none" stroke="#ff7f0e" stroke-width="1.5" stroke-linejoin="round"/>
<circle cx="155.4" cy="446.7" r="3.4" fill="#ff7f0e"/>
<circle cx="186.6" cy="446.7" r="3.4" fill="#ff7f0e"/>
<circle cx="217.6" cy="446.7" r="3.4" fill="#ff7f0e"/>
<circle cx="248.6" cy="396.4" r="3.4" fill="#ff7f0e"/>
<circle cx="279.8" cy="373.3" r="3.4" fill="#ff7f0e"/>
<g stroke="#2ca02c" stroke-width="1.0" opacity="0.7"><line x1="147.4" y1="443.0" x2="163.4" y2="443.0"/><line x1="147.4" y1="444.2" x2="163.4" y2="444.2"/><line x1="155.4" y1="443.0" x2="155.4" y2="444.2"/></g>
<g stroke="#2ca02c" stroke-width="1.0" opacity="0.7"><line x1="178.6" y1="442.4" x2="194.6" y2="442.4"/><line x1="178.6" y1="443.6" x2="194.6" y2="443.6"/><line x1="186.6" y1="442.4" x2="186.6" y2="443.6"/></g>
<g stroke="#2ca02c" stroke-width="1.0" opacity="0.7"><line x1="209.6" y1="441.8" x2="225.6" y2="441.8"/><line x1="209.6" y1="443.0" x2="225.6" y2="443.0"/><line x1="217.6" y1="441.8" x2="217.6" y2="443.0"/></g>
<g stroke="#2ca02c" stroke-width="1.0" opacity="0.7"><line x1="240.6" y1="392.0" x2="256.6" y2="392.0"/><line x1="240.6" y1="396.8" x2="256.6" y2="396.8"/><line x1="248.6" y1="392.0" x2="248.6" y2="396.8"/></g>
<g stroke="#2ca02c" stroke-width="1.0" opacity="0.7"><line x1="271.8" y1="370.1" x2="287.8" y2="370.1"/><line x1="271.8" y1="376.5" x2="287.8" y2="376.5"/><line x1="279.8" y1="370.1" x2="279.8" y2="376.5"/></g>
<polyline points="155.4,443.6 186.6,443.0 217.6,442.4 248.6,394.4 279.8,373.3" fill="none" stroke="#2ca02c" stroke-width="1.5" stroke-linejoin="round"/>
<circle cx="155.4" cy="443.6" r="3.4" fill="#2ca02c"/>
<circle cx="186.6" cy="443.0" r="3.4" fill="#2ca02c"/>
<circle cx="217.6" cy="442.4" r="3.4" fill="#2ca02c"/>
<circle cx="248.6" cy="394.4" r="3.4" fill="#2ca02c"/>
<circle cx="279.8" cy="373.3" r="3.4" fill="#2ca02c"/>
<g stroke="#d62728" stroke-width="1.0" opacity="0.7"><line x1="147.4" y1="428.3" x2="163.4" y2="428.3"/><line x1="147.4" y1="431.7" x2="163.4" y2="431.7"/><line x1="155.4" y1="428.3" x2="155.4" y2="431.7"/></g>
<g stroke="#d62728" stroke-width="1.0" opacity="0.7"><line x1="178.6" y1="424.7" x2="194.6" y2="424.7"/><line x1="178.6" y1="429.3" x2="194.6" y2="429.3"/><line x1="186.6" y1="424.7" x2="186.6" y2="429.3"/></g>
<g stroke="#d62728" stroke-width="1.0" opacity="0.7"><line x1="209.6" y1="426.5" x2="225.6" y2="426.5"/><line x1="209.6" y1="431.5" x2="225.6" y2="431.5"/><line x1="217.6" y1="426.5" x2="217.6" y2="431.5"/></g>
<g stroke="#d62728" stroke-width="1.0" opacity="0.7"><line x1="240.6" y1="380.5" x2="256.6" y2="380.5"/><line x1="240.6" y1="390.5" x2="256.6" y2="390.5"/><line x1="248.6" y1="380.5" x2="248.6" y2="390.5"/></g>
<g stroke="#d62728" stroke-width="1.0" opacity="0.7"><line x1="271.8" y1="367.3" x2="287.8" y2="367.3"/><line x1="271.8" y1="379.3" x2="287.8" y2="379.3"/><line x1="279.8" y1="367.3" x2="279.8" y2="379.3"/></g>
<polyline points="155.4,430.0 186.6,427.0 217.6,429.0 248.6,385.5 279.8,373.3" fill="none" stroke="#d62728" stroke-width="1.5" stroke-linejoin="round"/>
<circle cx="155.4" cy="430.0" r="3.4" fill="#d62728"/>
<circle cx="186.6" cy="427.0" r="3.4" fill="#d62728"/>
<circle cx="217.6" cy="429.0" r="3.4" fill="#d62728"/>
<circle cx="248.6" cy="385.5" r="3.4" fill="#d62728"/>
<circle cx="279.8" cy="373.3" r="3.4" fill="#d62728"/>
<path d="M344.7,362.0 L344.7,449.9 L478.6,449.9" fill="none" stroke="#1a1a1a" stroke-width="1.3"/>
<line x1="342.4" y1="449.3" x2="344.7" y2="449.3" stroke="#000" stroke-width="0.7"/>
<line x1="342.4" y1="433.6" x2="344.7" y2="433.6" stroke="#000" stroke-width="0.7"/>
<line x1="342.4" y1="417.8" x2="344.7" y2="417.8" stroke="#000" stroke-width="0.7"/>
<line x1="342.4" y1="402.1" x2="344.7" y2="402.1" stroke="#000" stroke-width="0.7"/>
<line x1="342.4" y1="386.3" x2="344.7" y2="386.3" stroke="#000" stroke-width="0.7"/>
<line x1="342.4" y1="370.6" x2="344.7" y2="370.6" stroke="#000" stroke-width="0.7"/>
<text x="340.9" y="454.4" font-size="11.5" fill="#231f20" text-anchor="end" >0</text>
<text x="340.9" y="421.7" font-size="11.5" fill="#231f20" text-anchor="end" >40</text>
<text x="340.9" y="390.2" font-size="11.5" fill="#231f20" text-anchor="end" >80</text>
<line x1="350.9" y1="450" x2="350.9" y2="452.5" stroke="#000" stroke-width="0.7"/>
<line x1="389.9" y1="450" x2="389.9" y2="452.5" stroke="#000" stroke-width="0.7"/>
<line x1="428.9" y1="450" x2="428.9" y2="452.5" stroke="#000" stroke-width="0.7"/>
<line x1="467.9" y1="450" x2="467.9" y2="452.5" stroke="#000" stroke-width="0.7"/>
<text x="353.3" y="463.6" font-size="11.5" fill="#231f20" text-anchor="middle" >10<tspan font-size="8.3" dy="-4.3">−4</tspan></text>
<text x="392.3" y="463.6" font-size="11.5" fill="#231f20" text-anchor="middle" >10<tspan font-size="8.3" dy="-4.3">−3</tspan></text>
<text x="431.4" y="463.6" font-size="11.5" fill="#231f20" text-anchor="middle" >10<tspan font-size="8.3" dy="-4.3">−2</tspan></text>
<text x="465.0" y="463.6" font-size="11.5" fill="#231f20" text-anchor="middle" >10<tspan font-size="8.3" dy="-4.3">−1</tspan></text>
<text x="407.9" y="477.8" font-size="11.5" fill="#231f20" text-anchor="middle" ><tspan font-style="italic">α</tspan><tspan font-size="8.8" font-style="italic" dy="3.4">A</tspan><tspan dy="-3.4"> (h</tspan><tspan font-size="8.3" dy="-4.3">−1</tspan><tspan dy="4.3">)</tspan></text>
<text x="0" y="0" font-size="11.5" fill="#231f20" text-anchor="middle" transform="translate(310.8,404.4) rotate(-90)">cell number</text>
<text x="0" y="0" font-size="11.5" fill="#231f20" text-anchor="middle" transform="translate(324.2,404.4) rotate(-90)">(total)</text>
<g stroke="#1f77b4" stroke-width="1.0" opacity="0.7"><line x1="342.9" y1="368.6" x2="358.9" y2="368.6"/><line x1="342.9" y1="371.0" x2="358.9" y2="371.0"/><line x1="350.9" y1="368.6" x2="350.9" y2="371.0"/></g>
<g stroke="#1f77b4" stroke-width="1.0" opacity="0.7"><line x1="373.9" y1="374.8" x2="389.9" y2="374.8"/><line x1="373.9" y1="377.2" x2="389.9" y2="377.2"/><line x1="381.9" y1="374.8" x2="381.9" y2="377.2"/></g>
<g stroke="#1f77b4" stroke-width="1.0" opacity="0.7"><line x1="405.0" y1="374.2" x2="421.0" y2="374.2"/><line x1="405.0" y1="376.6" x2="421.0" y2="376.6"/><line x1="413.0" y1="374.2" x2="413.0" y2="376.6"/></g>
<g stroke="#1f77b4" stroke-width="1.0" opacity="0.7"><line x1="436.1" y1="374.8" x2="452.1" y2="374.8"/><line x1="436.1" y1="377.2" x2="452.1" y2="377.2"/><line x1="444.1" y1="374.8" x2="444.1" y2="377.2"/></g>
<g stroke="#1f77b4" stroke-width="1.0" opacity="0.7"><line x1="467.2" y1="377.5" x2="483.2" y2="377.5"/><line x1="467.2" y1="380.1" x2="483.2" y2="380.1"/><line x1="475.2" y1="377.5" x2="475.2" y2="380.1"/></g>
<polyline points="350.9,369.8 381.9,376.0 413.0,375.4 444.1,376.0 475.2,378.8" fill="none" stroke="#1f77b4" stroke-width="1.5" stroke-linejoin="round"/>
<circle cx="350.9" cy="369.8" r="3.4" fill="#1f77b4"/>
<circle cx="381.9" cy="376.0" r="3.4" fill="#1f77b4"/>
<circle cx="413.0" cy="375.4" r="3.4" fill="#1f77b4"/>
<circle cx="444.1" cy="376.0" r="3.4" fill="#1f77b4"/>
<circle cx="475.2" cy="378.8" r="3.4" fill="#1f77b4"/>
<g stroke="#ff7f0e" stroke-width="1.0" opacity="0.7"><line x1="342.9" y1="396.4" x2="358.9" y2="396.4"/><line x1="342.9" y1="399.6" x2="358.9" y2="399.6"/><line x1="350.9" y1="396.4" x2="350.9" y2="399.6"/></g>
<g stroke="#ff7f0e" stroke-width="1.0" opacity="0.7"><line x1="373.9" y1="404.3" x2="389.9" y2="404.3"/><line x1="373.9" y1="407.5" x2="389.9" y2="407.5"/><line x1="381.9" y1="404.3" x2="381.9" y2="407.5"/></g>
<g stroke="#ff7f0e" stroke-width="1.0" opacity="0.7"><line x1="405.0" y1="403.5" x2="421.0" y2="403.5"/><line x1="405.0" y1="406.7" x2="421.0" y2="406.7"/><line x1="413.0" y1="403.5" x2="413.0" y2="406.7"/></g>
<g stroke="#ff7f0e" stroke-width="1.0" opacity="0.7"><line x1="436.1" y1="406.9" x2="452.1" y2="406.9"/><line x1="436.1" y1="410.1" x2="452.1" y2="410.1"/><line x1="444.1" y1="406.9" x2="444.1" y2="410.1"/></g>
<g stroke="#ff7f0e" stroke-width="1.0" opacity="0.7"><line x1="467.2" y1="416.8" x2="483.2" y2="416.8"/><line x1="467.2" y1="420.0" x2="483.2" y2="420.0"/><line x1="475.2" y1="416.8" x2="475.2" y2="420.0"/></g>
<polyline points="350.9,398.0 381.9,405.9 413.0,405.1 444.1,408.5 475.2,418.4" fill="none" stroke="#ff7f0e" stroke-width="1.5" stroke-linejoin="round"/>
<circle cx="350.9" cy="398.0" r="3.4" fill="#ff7f0e"/>
<circle cx="381.9" cy="405.9" r="3.4" fill="#ff7f0e"/>
<circle cx="413.0" cy="405.1" r="3.4" fill="#ff7f0e"/>
<circle cx="444.1" cy="408.5" r="3.4" fill="#ff7f0e"/>
<circle cx="475.2" cy="418.4" r="3.4" fill="#ff7f0e"/>
<g stroke="#2ca02c" stroke-width="1.0" opacity="0.7"><line x1="342.9" y1="441.9" x2="358.9" y2="441.9"/><line x1="342.9" y1="442.9" x2="358.9" y2="442.9"/><line x1="350.9" y1="441.9" x2="350.9" y2="442.9"/></g>
<g stroke="#2ca02c" stroke-width="1.0" opacity="0.7"><line x1="373.9" y1="442.2" x2="389.9" y2="442.2"/><line x1="373.9" y1="443.2" x2="389.9" y2="443.2"/><line x1="381.9" y1="442.2" x2="381.9" y2="443.2"/></g>
<g stroke="#2ca02c" stroke-width="1.0" opacity="0.7"><line x1="405.0" y1="443.3" x2="421.0" y2="443.3"/><line x1="405.0" y1="444.3" x2="421.0" y2="444.3"/><line x1="413.0" y1="443.3" x2="413.0" y2="444.3"/></g>
<g stroke="#2ca02c" stroke-width="1.0" opacity="0.7"><line x1="436.1" y1="443.6" x2="452.1" y2="443.6"/><line x1="436.1" y1="444.6" x2="452.1" y2="444.6"/><line x1="444.1" y1="443.6" x2="444.1" y2="444.6"/></g>
<g stroke="#2ca02c" stroke-width="1.0" opacity="0.7"><line x1="467.2" y1="445.6" x2="483.2" y2="445.6"/><line x1="467.2" y1="446.6" x2="483.2" y2="446.6"/><line x1="475.2" y1="445.6" x2="475.2" y2="446.6"/></g>
<polyline points="350.9,442.4 381.9,442.7 413.0,443.8 444.1,444.1 475.2,446.1" fill="none" stroke="#2ca02c" stroke-width="1.5" stroke-linejoin="round"/>
<circle cx="350.9" cy="442.4" r="3.4" fill="#2ca02c"/>
<circle cx="381.9" cy="442.7" r="3.4" fill="#2ca02c"/>
<circle cx="413.0" cy="443.8" r="3.4" fill="#2ca02c"/>
<circle cx="444.1" cy="444.1" r="3.4" fill="#2ca02c"/>
<circle cx="475.2" cy="446.1" r="3.4" fill="#2ca02c"/>
<g stroke="#d62728" stroke-width="1.0" opacity="0.7"><line x1="342.9" y1="448.7" x2="358.9" y2="448.7"/><line x1="342.9" y1="449.3" x2="358.9" y2="449.3"/><line x1="350.9" y1="448.7" x2="350.9" y2="449.3"/></g>
<g stroke="#d62728" stroke-width="1.0" opacity="0.7"><line x1="373.9" y1="448.7" x2="389.9" y2="448.7"/><line x1="373.9" y1="449.3" x2="389.9" y2="449.3"/><line x1="381.9" y1="448.7" x2="381.9" y2="449.3"/></g>
<g stroke="#d62728" stroke-width="1.0" opacity="0.7"><line x1="405.0" y1="448.7" x2="421.0" y2="448.7"/><line x1="405.0" y1="449.3" x2="421.0" y2="449.3"/><line x1="413.0" y1="448.7" x2="413.0" y2="449.3"/></g>
<g stroke="#d62728" stroke-width="1.0" opacity="0.7"><line x1="436.1" y1="448.7" x2="452.1" y2="448.7"/><line x1="436.1" y1="449.3" x2="452.1" y2="449.3"/><line x1="444.1" y1="448.7" x2="444.1" y2="449.3"/></g>
<g stroke="#d62728" stroke-width="1.0" opacity="0.7"><line x1="467.2" y1="448.7" x2="483.2" y2="448.7"/><line x1="467.2" y1="449.3" x2="483.2" y2="449.3"/><line x1="475.2" y1="448.7" x2="475.2" y2="449.3"/></g>
<polyline points="350.9,449.0 381.9,449.0 413.0,449.0 444.1,449.0 475.2,449.0" fill="none" stroke="#d62728" stroke-width="1.5" stroke-linejoin="round"/>
<circle cx="350.9" cy="449.0" r="3.4" fill="#d62728"/>
<circle cx="381.9" cy="449.0" r="3.4" fill="#d62728"/>
<circle cx="413.0" cy="449.0" r="3.4" fill="#d62728"/>
<circle cx="444.1" cy="449.0" r="3.4" fill="#d62728"/>
<circle cx="475.2" cy="449.0" r="3.4" fill="#d62728"/>
<rect x="503.5" y="340.2" width="86" height="57.2" fill="#fff" stroke="#58595b" stroke-width="0.9"/>
<line x1="511" y1="351.4" x2="522.6" y2="351.4" stroke="#1f77b4" stroke-width="1.5"/>
<circle cx="516.6" cy="351.4" r="3.4" fill="#1f77b4"/>
<text transform="translate(530.1,355.40) scale(1.12,1)" font-size="11.5" font-style="italic" fill="#231f20">α</text>
<text x="537.0" y="358.00" font-size="9" font-style="italic" fill="#231f20">Y</text>
<text x="541.2" y="355.4" font-size="11.5" fill="#231f20" text-anchor="start" style="white-space:pre"> = 10<tspan font-size="8.3" dy="-4.3">−7</tspan><tspan dy="4.3"> h</tspan></text>
<line x1="511" y1="362.5" x2="522.6" y2="362.5" stroke="#ff7f0e" stroke-width="1.5"/>
<circle cx="516.6" cy="362.5" r="3.4" fill="#ff7f0e"/>
<text transform="translate(530.1,366.53) scale(1.12,1)" font-size="11.5" font-style="italic" fill="#231f20">α</text>
<text x="537.0" y="369.13" font-size="9" font-style="italic" fill="#231f20">Y</text>
<text x="541.2" y="366.53" font-size="11.5" fill="#231f20" text-anchor="start" style="white-space:pre"> = 10<tspan font-size="8.3" dy="-4.3">−6</tspan><tspan dy="4.3"> h</tspan></text>
<line x1="511" y1="373.7" x2="522.6" y2="373.7" stroke="#2ca02c" stroke-width="1.5"/>
<circle cx="516.6" cy="373.7" r="3.4" fill="#2ca02c"/>
<text transform="translate(530.1,377.66) scale(1.12,1)" font-size="11.5" font-style="italic" fill="#231f20">α</text>
<text x="537.0" y="380.26" font-size="9" font-style="italic" fill="#231f20">Y</text>
<text x="541.2" y="377.65999999999997" font-size="11.5" fill="#231f20" text-anchor="start" style="white-space:pre"> = 10<tspan font-size="8.3" dy="-4.3">−5</tspan><tspan dy="4.3"> h</tspan></text>
<line x1="511" y1="384.8" x2="522.6" y2="384.8" stroke="#d62728" stroke-width="1.5"/>
<circle cx="516.6" cy="384.8" r="3.4" fill="#d62728"/>
<text transform="translate(530.1,388.79) scale(1.12,1)" font-size="11.5" font-style="italic" fill="#231f20">α</text>
<text x="537.0" y="391.39" font-size="9" font-style="italic" fill="#231f20">Y</text>
<text x="541.2" y="388.78999999999996" font-size="11.5" fill="#231f20" text-anchor="start" style="white-space:pre"> = 10<tspan font-size="8.3" dy="-4.3">−4</tspan><tspan dy="4.3"> h</tspan></text>
</g>
</svg>
</body></html>
